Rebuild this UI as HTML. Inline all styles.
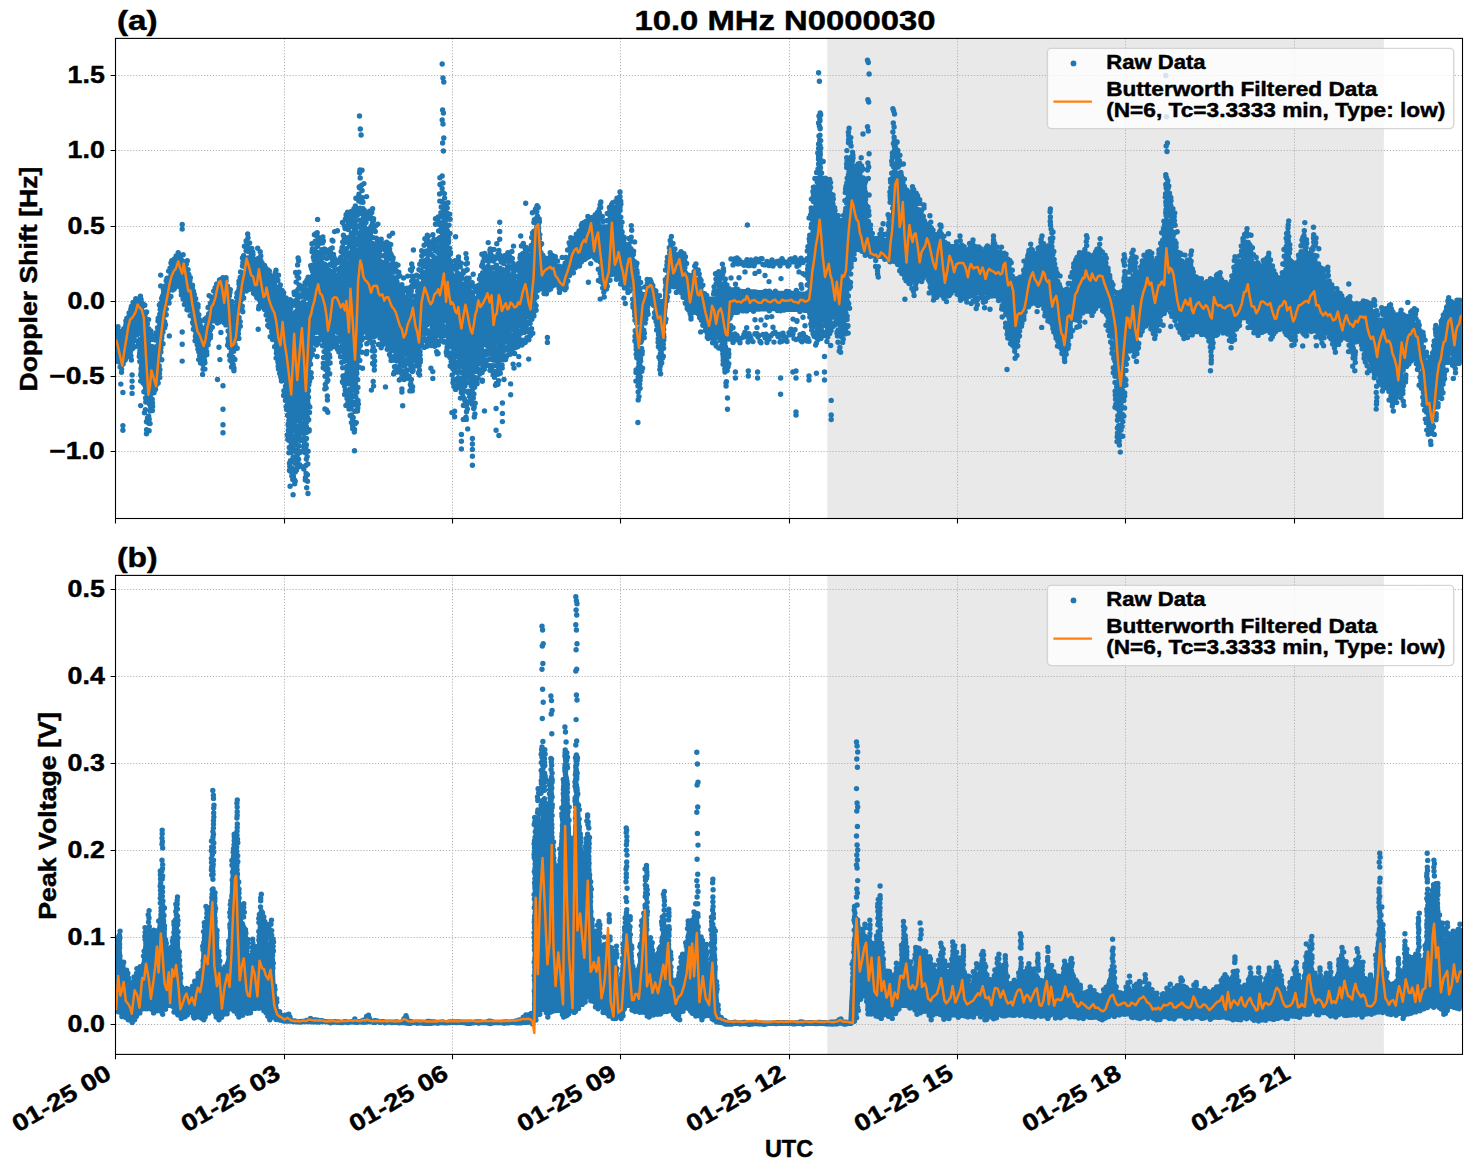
<!DOCTYPE html>
<html lang="en"><head><meta charset="utf-8"><title>10.0 MHz N0000030</title>
<style>html,body{margin:0;padding:0;background:#fff}body{width:1472px;height:1172px;overflow:hidden;font-family:"Liberation Sans",sans-serif}svg text{stroke:#000;stroke-width:.45px;stroke-linejoin:round}</style></head>
<body>
<svg width="1472" height="1172" viewBox="0 0 1472 1172" style="display:block">
<defs><clipPath id="ct"><rect x="115.5" y="38.4" width="1347.0" height="480.1"/></clipPath><clipPath id="cb"><rect x="115.5" y="575.4" width="1347.0" height="479.0000000000001"/></clipPath></defs>
<rect width="1472" height="1172" fill="#fff"/>
<g font-family="'Liberation Sans', sans-serif" font-weight="bold" fill="#000">
<rect x="827.3" y="38.4" width="556.6000000000001" height="480.1" fill="#e9e9e9"/>
<path d="M284.5,38.4V518.5M452.5,38.4V518.5M620.5,38.4V518.5M789.5,38.4V518.5M957.5,38.4V518.5M1125.5,38.4V518.5M1294.5,38.4V518.5M115.5,75.5H1462.5M115.5,150.5H1462.5M115.5,226.5H1462.5M115.5,301.5H1462.5M115.5,376.5H1462.5M115.5,451.5H1462.5" stroke="#b0b0b0" stroke-width="1" stroke-dasharray="1.15 1.8" fill="none"/>
<g clip-path="url(#ct)">
<path d="M118.2,331.5 120,331.5 121.8,331.5 123.6,331.5 125.4,331.5 127.2,328.6 129,321 130.8,321 132.6,318.4 134.4,306.5 136.2,303.5 138,303.5 139.8,305.2 141.6,312 143.4,319.6 145.2,331 147,339.4 148.8,349.6 150.6,349.6 152.4,349.6 154.2,349.6 156,349.6 157.8,350.7 159.6,341.3 161.4,328.9 163.2,316.5 165,298.2 166.8,289.3 168.6,285.9 170.4,278.2 172.2,271.1 174,268.1 175.8,260.7 177.6,259 179.4,255.9 181.2,262 183,264.2 184.8,269.6 186.6,285.2 188.4,285.2 190.2,291.1 192,298.7 193.8,304.6 195.6,314.8 197.4,321.2 199.2,328.6 201,328.6 202.8,328.6 204.6,328.6 206.4,328.6 208.2,327.1 210,317.8 211.8,307.5 213.6,303.3 215.4,296.9 217.2,291.1 219,287.7 220.8,283.9 222.6,281.2 224.4,286.1 226.2,301.6 228,306.2 229.8,306.2 231.6,306.2 233.4,306.2 235.2,306.2 237,306.2 238.8,309.9 240.6,299.1 242.4,284.9 244.2,281.3 246,272 247.8,258 249.6,258.7 251.4,258.7 253.2,259.4 255,259.4 256.8,259.4 258.6,265.4 260.4,268 262.2,268 264,269.6 265.8,278.6 267.6,278.6 269.4,278.6 271.2,278.6 273,278.6 274.8,285 276.6,290.5 278.4,292.6 280.2,298 282,300.6 283.8,302.3 285.6,304.8 287.4,306.8 289.2,316.1 291,328.4 292.8,339.3 294.6,347.1 296.4,344.2 298.2,342.5 300,343.1 301.8,346.3 303.6,340.4 305.4,333.3 307.2,324.8 309,320.7 310.8,313.1 312.6,301.7 314.4,292.7 316.2,284.9 318,283.9 319.8,285 321.6,287.5 323.4,289.5 325.2,291.3 327,292.5 328.8,295.5 330.6,296.7 332.4,296.5 334.2,295.1 336,291.3 337.8,289.2 339.6,289.4 341.4,292 343.2,293.6 345,293 346.8,297.3 348.6,304.1 350.4,303.4 352.2,299.1 354,295.1 355.8,291.1 357.6,285.6 359.4,282 361.2,277.2 363,268.1 364.8,264.6 366.6,265.7 368.4,270.3 370.2,271.9 372,273.7 373.8,275.3 375.6,277.6 377.4,279.4 379.2,277.6 381,280.1 382.8,280.6 384.6,283.9 386.4,286.8 388.2,289.1 390,292.7 391.8,293.5 393.6,299.2 395.4,301.5 397.2,305 399,310.8 400.8,310.2 402.6,313.9 404.4,311.4 406.2,312.2 408,309.7 409.8,309.2 411.6,309.8 413.4,311.5 415.2,308.4 417,304.1 418.8,302.1 420.6,298.8 422.4,295.9 424.2,292.9 426,288.6 427.8,282.5 429.6,283.8 431.4,282.9 433.2,282.5 435,282.5 436.8,278.2 438.6,277.1 440.4,276 442.2,275 444,277.4 445.8,278.1 447.6,277.7 449.4,280.2 451.2,284.2 453,289.4 454.8,294.7 456.6,297.3 458.4,296.8 460.2,300 462,301.7 463.8,301.6 465.6,307.2 467.4,307.6 469.2,306.8 471,304.8 472.8,303.1 474.6,303.6 476.4,299.6 478.2,297.1 480,292.8 481.8,290.2 483.6,287 485.4,287.3 487.2,287.6 489,289.6 490.8,292.8 492.6,292.5 494.4,293.2 496.2,294.2 498,294.5 499.8,296.8 501.6,292.6 503.4,290.7 505.2,292.4 507,293.5 508.8,293.5 510.6,293.3 512.4,292.8 514.2,290.8 516,290 517.8,288.2 519.6,286 521.4,282.8 523.2,283.5 525,284.9 526.8,280.1 528.6,273.9 530.4,265.6 532.2,258.1 534,257.1 535.8,251.8 537.6,255.2 539.4,257.5 541.2,258.4 543,258.4 544.8,258.4 546.6,258.4 548.4,258.4 550.2,258.4 552,258 553.8,260.9 555.6,266.1 557.4,267.8 559.2,267.8 561,267.8 562.8,267.8 564.6,267.8 566.4,267.2 568.2,263.2 570,257.4 571.8,250 573.6,245.5 575.4,242.2 577.2,238.8 579,237.9 580.8,234.6 582.6,231 584.4,225.5 586.2,223.5 588,222.5 589.8,221.4 591.6,219.2 593.4,219.2 595.2,217.6 597,217.6 598.8,226.9 600.6,226.9 602.4,226.9 604.2,226.9 606,226.9 607.8,226.9 609.6,226.9 611.4,220.7 613.2,213.5 615,207.5 616.8,222.3 618.6,237.3 620.4,250.3 622.2,250.3 624,250.3 625.8,250.3 627.6,251.3 629.4,261.6 631.2,265.9 633,277.8 634.8,282.5 636.6,319.3 638.4,294.8 640.2,294.8 642,294.8 643.8,294.8 645.6,294.8 647.4,293.6 649.2,287 651,290.2 652.8,291 654.6,296.2 656.4,296.2 658.2,301.6 660,301.6 661.8,332.3 663.6,324.6 665.4,300.9 667.2,279 669,279.8 670.8,279.8 672.6,254.7 674.4,255 676.2,255 678,255 679.8,255 681.6,256.7 683.4,263.5 685.2,278.5 687,278.5 688.8,278.5 690.6,278.5 692.4,278.5 694.2,278.5 696,280.4 697.8,280.4 699.6,285.1 701.4,293.6 703.2,295.5 705,297.8 706.8,299.1 708.6,299.1 710.4,299.1 712.2,299.1 714,299.1 715.8,299.1 717.6,297.8 719.4,286.8 721.2,284.9 723,288.8 724.8,293.8 726.6,293.8 728.4,293.8 730.2,293.8 732,293.8 733.8,293.8 735.6,291.8 737.4,291.8 739.2,291.3 741,291.4 742.8,291.6 744.6,291.6 746.4,291.8 748.2,292 750,292 751.8,292 753.6,292 755.4,292 757.2,292.5 759,292.6 760.8,292.6 762.6,292.6 764.4,293.1 766.2,293.1 768,293.1 769.8,293.1 771.6,293.1 773.4,293.1 775.2,293.1 777,293.5 778.8,293.5 780.6,293.5 782.4,293.5 784.2,293.5 786,293.4 787.8,293.5 789.6,293.5 791.4,293.5 793.2,293.5 795,293.6 796.8,293.6 798.6,293.6 800.4,294.2 802.2,294.2 804,294.2 805.8,294.2 807.6,294.2 809.4,294.2 811.2,293.8 813,246.6 814.8,217.9 816.6,199.1 818.4,187.1 820.2,178.5 822,180.2 823.8,180.2 825.6,182.6 827.4,194.9 829.2,207.6 831,215.3 832.8,215.6 834.6,220.7 836.4,220.7 838.2,220.7 840,220.7 841.8,220.7 843.6,220.7 845.4,220.7 847.2,220.5 849,215.5 850.8,186.3 852.6,169.8 854.4,169.8 856.2,169.8 858,169.8 859.8,179.3 861.6,206.3 863.4,215.3 865.2,224.9 867,233.5 868.8,233.5 870.6,238 872.4,238.8 874.2,238.8 876,238.8 877.8,238.8 879.6,238.8 881.4,239.5 883.2,240.8 885,240.8 886.8,240.8 888.6,240.8 890.4,240.8 892.2,240.8 894,214.7 895.8,179.5 897.6,178.3 899.4,186.5 901.2,190.2 903,191.8 904.8,192.8 906.6,192.8 908.4,192.8 910.2,193.1 912,195.6 913.8,199.8 915.6,211.3 917.4,216.3 919.2,220.7 921,224 922.8,225.2 924.6,227.2 926.4,227.9 928.2,230.3 930,234.4 931.8,237.7 933.6,237.7 935.4,237.7 937.2,237.7 939,242.2 940.8,245.3 942.6,245.3 944.4,245.6 946.2,246.6 948,246.6 949.8,246.6 951.6,246.6 953.4,246.6 955.2,246.6 957,246.6 958.8,246.6 960.6,250.4 962.4,250.4 964.2,250.4 966,250.4 967.8,250.4 969.6,250.4 971.4,250.4 973.2,249.9 975,248.6 976.8,251.4 978.6,251.4 980.4,251.4 982.2,251.4 984,251.4 985.8,251.4 987.6,251.4 989.4,250.2 991.2,247.6 993,252 994.8,252 996.6,252 998.4,253.3 1000.2,254.1 1002,259 1003.8,260.5 1005.6,262.8 1007.4,270.2 1009.2,278.9 1011,278.9 1012.8,278.9 1014.6,278.9 1016.4,278.9 1018.2,278.9 1020,278.9 1021.8,278.6 1023.6,278.6 1025.4,277.7 1027.2,277.7 1029,270.2 1030.8,261.2 1032.6,255.8 1034.4,255.7 1036.2,255.7 1038,255.7 1039.8,255.7 1041.6,255.7 1043.4,248.3 1045.2,247.1 1047,246.4 1048.8,251.5 1050.6,268.6 1052.4,273.8 1054.2,284.5 1056,292.1 1057.8,293.6 1059.6,293.6 1061.4,293.6 1063.2,293.6 1065,293.6 1066.8,293.6 1068.6,293.6 1070.4,290 1072.2,289 1074,283.5 1075.8,276.7 1077.6,272.5 1079.4,263.7 1081.2,260.3 1083,257.5 1084.8,254.7 1086.6,256 1088.4,256 1090.2,256 1092,256 1093.8,256 1095.6,256 1097.4,256 1099.2,255.1 1101,258.2 1102.8,268.3 1104.6,275.4 1106.4,282.3 1108.2,284.7 1110,292.5 1111.8,295.6 1113.6,298.8 1115.4,298.8 1117.2,298.8 1119,298.8 1120.8,298.8 1122.6,298.8 1124.4,298.8 1126.2,296.7 1128,291.5 1129.8,279.2 1131.6,279.2 1133.4,282.8 1135.2,282.8 1137,282.8 1138.8,282.8 1140.6,282.8 1142.4,282.8 1144.2,282.8 1146,266.9 1147.8,261.3 1149.6,267.2 1151.4,267.2 1153.2,267.2 1155,267.2 1156.8,267.2 1158.6,267.2 1160.4,267.2 1162.2,258.2 1164,249.9 1165.8,243.3 1167.6,232.8 1169.4,221.2 1171.2,231.7 1173,252.7 1174.8,253.1 1176.6,261 1178.4,264.9 1180.2,264.9 1182,264.9 1183.8,264.9 1185.6,264.9 1187.4,269 1189.2,278.3 1191,278.3 1192.8,279.2 1194.6,279.2 1196.4,279.2 1198.2,283.3 1200,283.3 1201.8,283.3 1203.6,283.3 1205.4,283.3 1207.2,283.3 1209,283.3 1210.8,282.8 1212.6,282.6 1214.4,282.6 1216.2,280.5 1218,282.6 1219.8,282.6 1221.6,287.2 1223.4,287.2 1225.2,287.2 1227,287.2 1228.8,287.2 1230.6,287.2 1232.4,287.2 1234.2,286.4 1236,286.4 1237.8,275.9 1239.6,261.7 1241.4,261.7 1243.2,261.1 1245,255.9 1246.8,247.8 1248.6,254.7 1250.4,257.5 1252.2,262.6 1254,264.6 1255.8,266.5 1257.6,266.5 1259.4,266.5 1261.2,266.5 1263,266.5 1264.8,266.5 1266.6,266.5 1268.4,270.6 1270.2,274.4 1272,277.4 1273.8,282 1275.6,282 1277.4,282 1279.2,282 1281,282 1282.8,282 1284.6,282 1286.4,277.4 1288.2,264 1290,266.6 1291.8,266.6 1293.6,266.6 1295.4,266.6 1297.2,266.6 1299,266.6 1300.8,266.6 1302.6,262.7 1304.4,255.2 1306.2,253.7 1308,253.7 1309.8,253.7 1311.6,255.9 1313.4,263.9 1315.2,267.6 1317,269.1 1318.8,269.2 1320.6,269.2 1322.4,269.2 1324.2,281 1326,284.7 1327.8,287.9 1329.6,292.2 1331.4,292.2 1333.2,292.7 1335,293.4 1336.8,295.7 1338.6,300.6 1340.4,300.6 1342.2,300.6 1344,300.6 1345.8,300.6 1347.6,303.1 1349.4,307 1351.2,307 1353,307 1354.8,307 1356.6,307 1358.4,305.5 1360.2,305.5 1362,305.5 1363.8,305.5 1365.6,305.5 1367.4,305.5 1369.2,304.9 1371,310.7 1372.8,315 1374.6,320.1 1376.4,320.1 1378.2,320.1 1380,320.1 1381.8,320.1 1383.6,320.1 1385.4,320.1 1387.2,312.3 1389,321.1 1390.8,321.1 1392.6,321.1 1394.4,321.1 1396.2,321.1 1398,321.1 1399.8,321.1 1401.6,318.8 1403.4,318.8 1405.2,316.4 1407,316.4 1408.8,316.4 1410.6,316.4 1412.4,321.8 1414.2,325.3 1416,331.6 1417.8,332.4 1419.6,340.1 1421.4,352.2 1423.2,362 1425,362 1426.8,362 1428.6,362 1430.4,362 1432.2,362 1434,362 1435.8,357.4 1437.6,352.9 1439.4,340.9 1441.2,328.7 1443,328.7 1444.8,328.7 1446.6,321.2 1448.4,315 1450.2,312.2 1452,307.3 1453.8,303.8 1455.6,303.8 1457.4,303.8 1459.2,303.8 1459.2,363.3 1457.4,363.3 1455.6,352.4 1453.8,352.4 1452,352.4 1450.2,352.4 1448.4,352.4 1446.6,352.4 1444.8,352.4 1443,362.4 1441.2,370.2 1439.4,378.7 1437.6,392.7 1435.8,396.5 1434,396.5 1432.2,406.7 1430.4,419.1 1428.6,404.5 1426.8,388.3 1425,377.2 1423.2,369.4 1421.4,363.8 1419.6,359.1 1417.8,359.1 1416,359.1 1414.2,359.1 1412.4,359.1 1410.6,359.1 1408.8,359.1 1407,360.3 1405.2,361 1403.4,364.1 1401.6,366.4 1399.8,381.9 1398,392.8 1396.2,392.8 1394.4,391.4 1392.6,388.1 1390.8,385.8 1389,385.8 1387.2,385.3 1385.4,383.1 1383.6,381.2 1381.8,381.2 1380,377.7 1378.2,370.6 1376.4,368.9 1374.6,368.9 1372.8,365.7 1371,362 1369.2,358.2 1367.4,348.9 1365.6,341.7 1363.8,339 1362,339 1360.2,339 1358.4,339 1356.6,339 1354.8,339 1353,339 1351.2,339.6 1349.4,337.9 1347.6,337.9 1345.8,337.8 1344,337.8 1342.2,337.8 1340.4,337.8 1338.6,337.8 1336.8,337.8 1335,336.9 1333.2,333 1331.4,333 1329.6,333 1327.8,333 1326,333 1324.2,333 1322.4,332 1320.6,328.8 1318.8,328.8 1317,328.8 1315.2,328.8 1313.4,328.8 1311.6,328.8 1309.8,328.8 1308,330.5 1306.2,330.5 1304.4,328.6 1302.6,328.6 1300.8,328.6 1299,328.6 1297.2,328.6 1295.4,328.6 1293.6,328.6 1291.8,331.5 1290,332.3 1288.2,328.7 1286.4,326.3 1284.6,326.3 1282.8,326.3 1281,326.3 1279.2,326.3 1277.4,326.3 1275.6,326.3 1273.8,327.9 1272,327.9 1270.2,330.3 1268.4,327.4 1266.6,327.4 1264.8,327.4 1263,327.4 1261.2,327.4 1259.4,327.4 1257.6,327.4 1255.8,325.3 1254,321.7 1252.2,317.7 1250.4,315.8 1248.6,315.8 1246.8,315.8 1245,315.8 1243.2,315.8 1241.4,315.8 1239.6,315.8 1237.8,317.2 1236,317.2 1234.2,325.5 1232.4,326.9 1230.6,329 1228.8,330.8 1227,330.2 1225.2,330.2 1223.4,330.2 1221.6,330.2 1219.8,330.2 1218,330.2 1216.2,330.2 1214.4,331.6 1212.6,334.5 1210.8,334.6 1209,333.3 1207.2,333.3 1205.4,332.1 1203.6,331.6 1201.8,331.6 1200,331.5 1198.2,331.5 1196.4,331.5 1194.6,331.5 1192.8,331.5 1191,331.5 1189.2,331.5 1187.4,332.1 1185.6,332.1 1183.8,328.1 1182,325.3 1180.2,320.5 1178.4,316.4 1176.6,316.2 1174.8,308.9 1173,307.6 1171.2,307.6 1169.4,307.6 1167.6,307.6 1165.8,307.6 1164,307.6 1162.2,307.6 1160.4,310 1158.6,313.4 1156.8,314.1 1155,320.6 1153.2,323.6 1151.4,323.6 1149.6,323.6 1147.8,323.6 1146,323.6 1144.2,323.6 1142.4,324.6 1140.6,326 1138.8,326.2 1137,331.2 1135.2,335.1 1133.4,344.2 1131.6,344.2 1129.8,344.2 1128,344.2 1126.2,344.2 1124.4,351.1 1122.6,358.6 1120.8,385 1119,372.7 1117.2,353.2 1115.4,335.8 1113.6,326.5 1111.8,314.8 1110,311.7 1108.2,310.5 1106.4,305.8 1104.6,305.8 1102.8,305.8 1101,305.8 1099.2,305.8 1097.4,305.8 1095.6,305.8 1093.8,306.3 1092,307.2 1090.2,308.7 1088.4,311.1 1086.6,311.1 1084.8,311.1 1083,311.1 1081.2,311.1 1079.4,311.1 1077.6,311.5 1075.8,311.5 1074,319.3 1072.2,319.3 1070.4,319.3 1068.6,319.3 1066.8,330.6 1065,336.4 1063.2,346.1 1061.4,338.3 1059.6,332 1057.8,328.6 1056,322 1054.2,317.7 1052.4,314.9 1050.6,312.4 1048.8,308.6 1047,304.6 1045.2,304.4 1043.4,304.4 1041.6,303.9 1039.8,301.6 1038,301.6 1036.2,301.6 1034.4,301.6 1032.6,301.6 1030.8,301.6 1029,301.6 1027.2,302 1025.4,303.7 1023.6,306.5 1021.8,306.5 1020,312 1018.2,319.5 1016.4,326.2 1014.6,335.9 1012.8,338.1 1011,327.3 1009.2,309.6 1007.4,309.6 1005.6,299.8 1003.8,299.8 1002,295.8 1000.2,295.8 998.4,293.1 996.6,293.1 994.8,293.1 993,293.1 991.2,293.1 989.4,293.1 987.6,293.1 985.8,293.1 984,293.1 982.2,293.1 980.4,293.1 978.6,293.1 976.8,293.1 975,293.1 973.2,294.2 971.4,294.2 969.6,294.2 967.8,294.2 966,294.2 964.2,294.2 962.4,294.2 960.6,290.2 958.8,290.2 957,290.2 955.2,290.2 953.4,290.2 951.6,290.2 949.8,290.2 948,291.1 946.2,293.2 944.4,293.5 942.6,293.5 940.8,293.5 939,293.5 937.2,289.7 935.4,287.3 933.6,279.9 931.8,276.8 930,275.4 928.2,275.4 926.4,275.4 924.6,275.4 922.8,275.4 921,275.4 919.2,275.4 917.4,275.9 915.6,275.9 913.8,279.1 912,280.8 910.2,278.2 908.4,274.3 906.6,273.6 904.8,270.8 903,264.6 901.2,259.1 899.4,259.1 897.6,256.9 895.8,256.9 894,256.9 892.2,256.9 890.4,256.9 888.6,256.9 886.8,256.8 885,256.2 883.2,256.2 881.4,256.2 879.6,256.2 877.8,256.2 876,255.9 874.2,255.9 872.4,253.5 870.6,253.3 868.8,253.3 867,251.1 865.2,249.8 863.4,249.3 861.6,247.3 859.8,247.3 858,247.3 856.2,247.3 854.4,247.3 852.6,247.3 850.8,247.3 849,254.2 847.2,257.4 845.4,286.8 843.6,304.5 841.8,306.8 840,305.8 838.2,309.1 836.4,310.6 834.6,309.1 832.8,308.1 831,309.9 829.2,311.3 827.4,311.7 825.6,309.3 823.8,308.6 822,308.3 820.2,308.5 818.4,309.8 816.6,310.3 814.8,310.8 813,307.5 811.2,307.5 809.4,307.5 807.6,307.5 805.8,307.5 804,307.5 802.2,309.4 800.4,309.4 798.6,309.4 796.8,309.4 795,309.2 793.2,309.2 791.4,309.2 789.6,309.2 787.8,309.2 786,309.3 784.2,310.1 782.4,309.1 780.6,309.1 778.8,309.1 777,308.5 775.2,308.5 773.4,308.5 771.6,308.5 769.8,308.5 768,308.7 766.2,308.7 764.4,308.7 762.6,308.7 760.8,308.7 759,309.1 757.2,309.1 755.4,309.1 753.6,309.1 751.8,309.2 750,309.2 748.2,309.2 746.4,309.2 744.6,309.2 742.8,309.3 741,309.3 739.2,309.8 737.4,309.8 735.6,310.2 733.8,312.2 732,312.2 730.2,313 728.4,313 726.6,313.6 724.8,333.4 723,337.8 721.2,337.8 719.4,337.8 717.6,337.8 715.8,337.8 714,337.8 712.2,337.8 710.4,337.3 708.6,330.4 706.8,325.3 705,320.3 703.2,317.5 701.4,313.5 699.6,310.4 697.8,310.4 696,310.4 694.2,310.4 692.4,310.3 690.6,308.4 688.8,303.3 687,297.3 685.2,289.7 683.4,289.7 681.6,289.7 679.8,289.7 678,286.7 676.2,281.4 674.4,281.4 672.6,281.4 670.8,281.4 669,281.4 667.2,279 665.4,300.9 663.6,324.6 661.8,332.3 660,317.5 658.2,305.3 656.4,305.3 654.6,304.7 652.8,303.3 651,303.3 649.2,303.3 647.4,303.3 645.6,303.3 643.8,310.8 642,310.8 640.2,323.1 638.4,307.2 636.6,319.3 634.8,285 633,285 631.2,285 629.4,285 627.6,283.4 625.8,283.4 624,278.3 622.2,278.3 620.4,273.5 618.6,270 616.8,270 615,270 613.2,270 611.4,270 609.6,270 607.8,270 606,274.6 604.2,269.2 602.4,260 600.6,258 598.8,255 597,255 595.2,255 593.4,252.5 591.6,252.5 589.8,252.5 588,252.5 586.2,252.5 584.4,256.4 582.6,258 580.8,259 579,259 577.2,262.1 575.4,262.4 573.6,262.4 571.8,264.3 570,267.9 568.2,270.5 566.4,275.5 564.6,280.9 562.8,287.7 561,286.2 559.2,284.8 557.4,284.8 555.6,284.8 553.8,284.8 552,284.8 550.2,285.6 548.4,286.3 546.6,288.9 544.8,287.1 543,279.6 541.2,274.9 539.4,272.8 537.6,273.3 535.8,276.2 534,280.3 532.2,284.5 530.4,293 528.6,303.4 526.8,308.3 525,311.5 523.2,309.6 521.4,312.2 519.6,313.2 517.8,314.6 516,318.4 514.2,319.4 512.4,319.2 510.6,318.6 508.8,318.4 507,319.5 505.2,317.9 503.4,320 501.6,319.2 499.8,321.8 498,322.9 496.2,321.3 494.4,319.1 492.6,317.1 490.8,319.8 489,318.6 487.2,314.6 485.4,312.5 483.6,315.2 481.8,314.8 480,319 478.2,324.2 476.4,327 474.6,328.9 472.8,329.5 471,330.2 469.2,331.4 467.4,332.6 465.6,332.9 463.8,328.3 462,328.1 460.2,324.2 458.4,326.5 456.6,323.2 454.8,320.6 453,315.2 451.2,312 449.4,308.6 447.6,305.8 445.8,303.8 444,302.4 442.2,301.5 440.4,302.6 438.6,303.9 436.8,306.4 435,309.3 433.2,308.7 431.4,309.3 429.6,309.9 427.8,311.4 426,316 424.2,318.7 422.4,322.5 420.6,326.5 418.8,329.5 417,330.9 415.2,335.4 413.4,337.6 411.6,336.7 409.8,337.1 408,336.3 406.2,339.7 404.4,340.1 402.6,340.3 400.8,339.1 399,335.4 397.2,332.2 395.4,329.6 393.6,324.3 391.8,320.7 390,319 388.2,316.5 386.4,314 384.6,310.9 382.8,309.4 381,307.6 379.2,304.9 377.4,304.9 375.6,304.3 373.8,301.9 372,301.8 370.2,299.5 368.4,298.2 366.6,293.6 364.8,292.4 363,295 361.2,304.5 359.4,311.3 357.6,314.1 355.8,316.6 354,322.2 352.2,327.2 350.4,331.3 348.6,328.5 346.8,322.8 345,321 343.2,320.5 341.4,317.1 339.6,316.6 337.8,315.8 336,316.8 334.2,320.8 332.4,323.2 330.6,323 328.8,322 327,319.5 325.2,318.1 323.4,316.3 321.6,315.4 319.8,312 318,309.3 316.2,311.1 314.4,317.5 312.6,329.2 310.8,341 309,343.2 307.2,351.6 305.4,360.4 303.6,366.8 301.8,372.7 300,370.1 298.2,370.3 296.4,370.9 294.6,382.5 292.8,396 291,392.4 289.2,388.7 287.4,380.5 285.6,377.1 283.8,368.9 282,358.1 280.2,346.7 278.4,339.6 276.6,331.7 274.8,327 273,320.1 271.2,315.1 269.4,309.5 267.6,306.7 265.8,302 264,302 262.2,302 260.4,294.2 258.6,293.2 256.8,293.2 255,286.4 253.2,286.4 251.4,286.4 249.6,286.4 247.8,286.4 246,286.4 244.2,286.9 242.4,284.9 240.6,299.1 238.8,309.9 237,311.8 235.2,326.2 233.4,338.4 231.6,324.9 229.8,322.8 228,320.5 226.2,320.5 224.4,320.5 222.6,320.5 220.8,320.5 219,320.5 217.2,320.8 215.4,320.9 213.6,320.9 211.8,320.9 210,322 208.2,327.2 206.4,337.7 204.6,344.7 202.8,354.7 201,348.9 199.2,340.7 197.4,329.2 195.6,322.5 193.8,315.6 192,310 190.2,309.8 188.4,304.4 186.6,294.6 184.8,294.6 183,286.2 181.2,284.4 179.4,284.4 177.6,284.4 175.8,284.4 174,284.4 172.2,286.5 170.4,286.6 168.6,290.1 166.8,296.5 165,303 163.2,316.5 161.4,328.9 159.6,341.3 157.8,350.7 156,359.7 154.2,383.1 152.4,383.1 150.6,389.2 148.8,391.7 147,378.3 145.2,361.5 143.4,345.3 141.6,328.4 139.8,328.4 138,328.4 136.2,328.4 134.4,328.4 132.6,328.4 130.8,328.4 129,348.4 127.2,352.6 125.4,352.6 123.6,352.6 121.8,359.7 120,361.7 118.2,361.7Z" fill="#1f77b4" stroke="#1f77b4" stroke-width="5.4" stroke-linejoin="round"/>
<path d="M359.5,116h0M360.3,129h0M361.1,135h0M359.9,170h0M360.7,186h0M359.5,198h0M442.2,64h0M443,78h0M443.8,82h0M442.6,110h0M443.4,113h0M442.2,120h0M443,124h0M443.8,138h0M442.6,143h0M443.4,151h0M442.2,176h0M443,183h0M818.6,72.7h0M819.4,81.2h0M820.2,113h0M819,116h0M819.8,119h0M818.6,123h0M819.4,126h0M820.2,128h0M819,136h0M819.8,140h0M818.6,144h0M819.4,148h0M820.2,152h0M819,156h0M819.8,160h0M818.6,164h0M867.5,60.3h0M868.3,62.5h0M869.1,74h0M867.9,99.7h0M868.7,102h0M867.5,126.7h0M868.3,131h0M869.1,153.7h0M867.9,163h0M868.7,167h0M867.5,170h0M868.3,178.5h0M869.1,195h0M867.9,207h0M868.7,211h0M867.5,216h0M863,134h0M892.9,108.7h0M893.7,111h0M894.5,114h0M893.3,123h0M894.1,127h0M892.9,132h0M903.4,164h0M924,205h0M924,208h0M940,225h0M940,231h0M948.5,233.7h0M960,236h0M973,240h0M993.5,236h0M993.5,240h0M1165.8,75.5h0M1166.6,116.7h0M1167.4,143h0M1166.2,146h0M1167,151.5h0M1165.8,174.6h0M1166.6,178h0M1167.4,183h0M1166.2,188h0M1167,192h0M1165.8,197h0M1050.4,209h0M1050.4,217h0M1050.4,222h0M1053,232h0M1042,236h0M1086.5,235.6h0M182.2,224.5h0M182.2,229.1h0M122.9,392.4h0M122.9,425.6h0M122.9,430.2h0M132.1,374.9h0M132.1,381.1h0M132.1,387.2h0M132.1,393.4h0M140.7,374.9h0M140.7,381.1h0M140.7,405.6h0M217.5,379.5h0M223,385.7h0M223,409.3h0M223,424.7h0M223,432.7h0M182.2,332h0M182.2,344.2h0M182.2,361.1h0M160.7,275.1h0M160.7,285.9h0M219,347.3h0M219.9,359.6h0M118,326.8h0M117.6,329.6h0M120.1,367.1h0M121.5,372.2h0M121.6,369.1h0M121.3,365.6h0M123.8,328.6h0M123.1,364h0M124.1,361.1h0M124.1,355h0M125.9,321h0M125.8,324.9h0M125.4,328.8h0M125.3,359.7h0M126.8,318.4h0M129.1,313h0M128.5,317.2h0M128.6,356.6h0M129.4,353.3h0M131.4,306.5h0M130.8,309.1h0M130.4,315.1h0M131.1,317.8h0M131.4,360h0M130.9,355.9h0M130.3,352.2h0M131.2,349.6h0M131.2,343.7h0M130.8,340.6h0M133.1,302.5h0M132.8,305.6h0M132.7,309.5h0M132.4,313.7h0M132.6,348.4h0M132.5,344.5h0M133.2,340.9h0M132.3,337.8h0M134.5,303.5h0M134.9,340.5h0M134.4,336h0M134.5,333.4h0M135.8,298.7h0M137.5,301.3h0M138.4,345.3h0M138.2,341.7h0M137.6,334.1h0M138.5,330.5h0M140.4,296.3h0M139.2,299.2h0M139.3,302.3h0M139.8,361.5h0M139.3,356.5h0M139.6,353.4h0M139.9,350.4h0M139.7,347.2h0M139.4,343.5h0M139.9,339.5h0M141.1,299.5h0M141.9,302.9h0M142,307h0M142,378.3h0M141.1,375.7h0M141.2,372.2h0M141,368.6h0M141.5,365.6h0M141.9,362.2h0M141.2,359.2h0M142,354.8h0M141.3,352.1h0M142.1,347.5h0M141.6,341.1h0M142.1,333.4h0M143.4,304.2h0M143.1,312h0M143.9,391.7h0M143.1,382.9h0M143.3,380.4h0M143.5,376h0M143,372.7h0M143.4,369h0M143.2,365.1h0M143.5,360.6h0M143.2,356.5h0M143.4,352.5h0M143.1,349h0M144.8,305.2h0M145.5,313.6h0M145,317h0M145.4,320.4h0M145.6,323.9h0M145.4,409.7h0M145.8,402h0M145.6,398h0M145.5,390.9h0M145.6,387.7h0M144.8,385h0M145.8,381.1h0M145.4,373.1h0M145.7,368.9h0M146.6,312h0M147.4,323.7h0M146.6,328h0M147,334.5h0M146.5,433.7h0M146.6,429.8h0M146.5,421.7h0M147.5,418h0M147.3,395.7h0M146.5,392.9h0M147,388.6h0M146.6,384.4h0M147.3,381h0M148.6,319.6h0M148.7,328.7h0M148.3,332.8h0M148.2,337.3h0M148.7,340.9h0M149,345.5h0M149.1,430.8h0M148.8,423.2h0M149.2,419.3h0M148.7,416.2h0M149.4,404.1h0M148.9,400.5h0M149,397.8h0M150.8,331h0M151.1,334.9h0M150.9,338.7h0M150.4,346.3h0M150.1,423.6h0M150.3,410.9h0M150.7,407.6h0M150,403.7h0M150.3,395.7h0M151.2,390.7h0M152.4,339.4h0M152.5,346.8h0M152.4,410.6h0M152.6,406.4h0M152.5,402.9h0M152.2,399.2h0M152.8,391.6h0M152.7,388.5h0M154,392.7h0M154.8,389.9h0M154.5,385.3h0M156.1,332.7h0M156,335.6h0M155.5,340h0M156.2,346.8h0M155.5,389.2h0M156.2,385h0M155.9,380.7h0M156.1,376.7h0M155.8,367.3h0M158.2,318.3h0M158,321h0M157.5,327.8h0M158.2,344.9h0M157.2,347.9h0M158.2,383.1h0M157.6,379.6h0M158.4,376.2h0M158.2,366.8h0M158.4,360.4h0M158.1,352.4h0M159.4,305h0M160.2,309.4h0M159.8,314.2h0M160,322.1h0M159.8,324.9h0M159.5,329.6h0M159.2,336.5h0M159.8,377.6h0M159.5,373.6h0M159.9,369.7h0M159.2,365.7h0M159.2,358.8h0M159.3,355.6h0M161.7,298.2h0M160.8,303h0M161.7,307.2h0M161.1,310.8h0M162,315.3h0M161,317.9h0M161.4,322.3h0M161.8,359.7h0M160.9,352h0M160.9,347.9h0M161.4,342h0M161.8,337.9h0M161.9,335h0M162,331.9h0M163.4,289.3h0M163.6,292.6h0M162.6,295.9h0M163.5,299.6h0M163.6,312.3h0M163,343.7h0M163,331.9h0M163.2,328.8h0M162.7,324.4h0M165.3,285.9h0M165,294.7h0M164.7,327.8h0M165.5,324.8h0M164.7,321.6h0M164.5,314.6h0M164.8,311.9h0M164.6,308.8h0M165.1,305.8h0M167,278.2h0M166.2,280.8h0M167.2,283.9h0M166.2,314.8h0M166.3,309.1h0M167.2,299.6h0M168.6,271.1h0M169.1,277.9h0M168.3,283.6h0M169.1,303h0M169,298.7h0M170,268.1h0M170.1,271.7h0M170.9,296.5h0M171.8,260.7h0M171.8,264.5h0M171.7,267.2h0M172.7,290.1h0M174.4,259h0M174,286.6h0M176.2,255.9h0M176.2,286.5h0M178.2,252.7h0M177.1,256.8h0M179.4,286.2h0M181,255.8h0M181.6,260.3h0M181.7,294.6h0M181.3,291.2h0M180.7,287.8h0M183.1,254.8h0M183.1,299h0M183.5,296.3h0M183.5,292.3h0M183.5,288.6h0M184.5,262h0M185.2,266h0M184.4,304.4h0M185.1,300.2h0M185.4,296.4h0M186.3,264.2h0M186.3,270.8h0M186.9,278.6h0M186.6,282.3h0M187,309.8h0M187.1,305.9h0M186.6,300.7h0M186,296.6h0M188.1,269.6h0M188.8,274.5h0M189,282.5h0M188.3,310h0M190.3,277.7h0M189.9,280.6h0M190.8,285.4h0M190.3,289h0M190.1,315.6h0M192.5,285.2h0M192.3,287.9h0M192.4,290.8h0M192,294.5h0M192.6,322.5h0M192.4,314.8h0M193.5,291.1h0M194.3,294.5h0M193.5,301.3h0M193.4,329.2h0M193.5,324.2h0M193.3,321.7h0M193.4,318.8h0M195.7,298.7h0M195.1,302.8h0M195.9,305.4h0M195.1,308.4h0M196.1,313.2h0M195.1,340.7h0M195.4,336.2h0M195.9,332.6h0M198,304.6h0M198,307.3h0M197,311.2h0M196.9,315.5h0M197.1,318.5h0M197.9,348.9h0M197.2,344.7h0M197.6,336.5h0M198.8,314.8h0M199.3,319.5h0M199.7,323.1h0M198.7,359.6h0M199.7,355.6h0M198.8,351.7h0M199.1,346h0M200.7,321.2h0M200.7,326.2h0M200.5,363h0M201.2,355.2h0M201.2,352.7h0M203.1,369.2h0M203,364.5h0M203.1,360.9h0M203.1,357.6h0M204.9,362.8h0M204.5,360.2h0M204.5,355.9h0M205.2,351.6h0M204.9,349.1h0M206.7,317.8h0M205.8,321.2h0M206.4,326h0M206.8,354.7h0M206.7,351.8h0M206.1,347.9h0M206.3,343.7h0M208.1,307.5h0M208.7,313.9h0M208.2,318.6h0M208.7,322.7h0M208.1,344.7h0M208.5,340.4h0M207.9,337.5h0M210.4,303.3h0M210,306h0M209.5,313.2h0M209.5,315.8h0M210.4,337.7h0M210.5,334.9h0M210.4,330h0M210.5,327.1h0M211.4,296.9h0M211.8,301.5h0M211.6,306h0M212.3,327.2h0M213.7,291.1h0M215.2,287.7h0M215.7,292.5h0M216.7,283.9h0M217.5,323.1h0M219.5,280h0M219.3,284.9h0M218.9,322.2h0M220.5,279.4h0M222.9,277.8h0M224.9,281.2h0M224.1,322.8h0M226,277.8h0M226.1,280.7h0M225.9,294.2h0M226.8,297.5h0M225.8,324.9h0M227.5,286.1h0M227.6,293.6h0M228.2,297.8h0M228.4,342h0M228.1,338.7h0M228.1,331h0M228.2,323.6h0M230.3,289.6h0M230,292.3h0M229.4,295.7h0M229.6,300.6h0M229.6,304h0M230,360.3h0M229.5,355.5h0M229.5,347.6h0M229.5,343.9h0M230.3,341.3h0M230.1,338.4h0M229.7,334.5h0M230.2,327.6h0M232.1,301.6h0M231.5,367h0M232.1,362.6h0M231,355.1h0M231.3,351.9h0M231.2,347.8h0M231.3,344.4h0M231.7,341.2h0M231.4,334.2h0M231.8,331.3h0M231.6,326.5h0M233.9,370.7h0M234,368.1h0M233.2,364.8h0M233,357.2h0M233.7,351.3h0M233,345h0M233.8,340.5h0M234.9,359.5h0M235.4,348.6h0M235.1,344.5h0M235,339.7h0M234.8,335.7h0M236.9,293.3h0M236.7,297.4h0M237,302.3h0M237.2,348.3h0M237.2,332.4h0M236.4,320.8h0M239,281.3h0M239,284h0M239.1,288.1h0M238.2,291.2h0M238.9,293.7h0M238.3,298.6h0M238.7,303.4h0M238.9,338.4h0M238.4,333.8h0M238.5,329.8h0M239.1,317.5h0M240.6,272h0M240.2,277.5h0M240.5,281.6h0M240.5,284.7h0M240.9,289.2h0M241,294h0M240.7,297.5h0M240.3,326.2h0M240.2,321.6h0M242.5,258h0M242.9,262.5h0M242.5,266h0M242.9,273.3h0M242.6,276h0M242.6,280.8h0M242.8,311.8h0M241.9,309.2h0M242.3,306.1h0M242.4,299.1h0M242.3,294.6h0M242,289.8h0M244.4,246.3h0M243.6,255.6h0M243.7,258.8h0M243.8,262.1h0M243.9,266.4h0M244.3,273.9h0M244.6,276.9h0M243.7,297.9h0M246.1,240.9h0M246.6,245.8h0M246.1,250.7h0M246.1,261.9h0M246.5,265.9h0M246.3,291.1h0M247.7,233.9h0M248,237.8h0M248.2,247.6h0M247.8,251.3h0M249.6,243h0M249.5,289.3h0M251.8,248.5h0M251.2,255.2h0M252.9,252.2h0M253,254.7h0M253.5,293.2h0M252.6,288.3h0M255,294.2h0M255.5,290.3h0M256.7,297.7h0M258.6,258.1h0M259.2,260.6h0M258.2,329.2h0M258.6,308.8h0M259,306.1h0M259.1,299.2h0M260.2,251.8h0M260.8,256h0M260.8,260.5h0M260.1,263.6h0M261,266.4h0M260.5,302h0M260,299.3h0M262.1,263h0M262.5,265.9h0M261.8,306.7h0M264.5,265.4h0M264.6,309.5h0M264.4,306.5h0M263.4,303.8h0M265.6,268h0M265.3,272.6h0M265.6,277.1h0M266.1,315.1h0M266.4,306.9h0M267.6,269.6h0M267.6,320.1h0M267.9,315.4h0M267,312.3h0M269.3,271h0M269.4,274.2h0M269.2,327h0M269.1,319.7h0M269.9,312.7h0M271.7,331.7h0M271.7,327h0M271.3,322h0M272.6,339.6h0M272.6,335.3h0M273.5,332.5h0M274.3,275.4h0M275.1,279.1h0M274.6,346.7h0M274.2,339.4h0M274.8,336.3h0M276,270.2h0M276.9,278.9h0M276.2,288.4h0M276.1,358.1h0M276.4,353.3h0M276.7,350.5h0M276.6,347.5h0M276.5,343h0M276.2,339.6h0M276.8,336.9h0M278.5,275.2h0M277.9,280.2h0M278.2,287.8h0M278.5,368.9h0M278.2,366.2h0M277.9,361.9h0M278.6,355.3h0M278.5,352.3h0M277.9,349.4h0M278.6,341.3h0M280.3,285h0M279.7,288.1h0M280.2,291.8h0M280.3,296.2h0M280.8,377.1h0M279.7,373.4h0M280.2,369h0M279.8,366.1h0M280.3,358.9h0M280.8,352.9h0M279.7,348.8h0M282.1,290.5h0M282.3,293.6h0M281.9,296.3h0M281.5,381h0M281.4,378.4h0M281.8,374.3h0M281.8,369.4h0M282.2,363.1h0M283.7,292.6h0M283.5,295.7h0M284.4,300.4h0M283.6,395.4h0M283.9,390.7h0M284.1,380.2h0M284.4,372.9h0M286.1,298h0M285.9,301.5h0M286.1,406.6h0M285.4,400.4h0M285.8,397.6h0M285.5,394.8h0M286,391.2h0M285.5,386.3h0M285.2,380.2h0M286.9,300.6h0M288.2,304.4h0M287.8,439.4h0M287.3,435h0M288.3,430.1h0M288.1,424.3h0M287.6,415.2h0M286.6,409.5h0M287.7,404h0M288,398.9h0M288.1,394.2h0M287.8,391.2h0M286.6,386.9h0M286.6,383.5h0M289,302.3h0M288.8,306.9h0M289.6,310.5h0M289.5,314.5h0M289.5,470.5h0M289.8,466.4h0M289.5,463.2h0M288.9,452.8h0M289.3,447.5h0M288.8,440.2h0M288.9,432.2h0M288.4,425.7h0M288.9,420.5h0M288.3,416.1h0M289.4,411.6h0M289.8,407.6h0M289.4,403.4h0M288.5,399h0M289,395.3h0M289.4,391.8h0M291.1,304.8h0M290.6,308.7h0M290.9,313.1h0M290.2,319.6h0M291.8,324.2h0M291.8,476.1h0M290.7,471.6h0M290.5,460.7h0M290.7,452.4h0M290.6,446.4h0M291.1,442.4h0M290.8,436.8h0M291,431.4h0M291.6,427.3h0M291.3,424.4h0M290.3,420.5h0M290.3,417.1h0M290.8,412.3h0M291.1,408.2h0M290.9,404.2h0M291.3,401.1h0M290.6,397.8h0M290.4,393.7h0M293.1,303.3h0M293,305.2h0M292.8,316.4h0M293,322.4h0M293.4,326.5h0M292,330.6h0M292,333h0M292.9,335.8h0M292.7,479.6h0M293.4,476.5h0M292.5,468.5h0M292.8,459.6h0M293.1,456.9h0M293,450.5h0M293.1,447.4h0M292.8,441.3h0M293,436h0M292.7,430.6h0M293.7,427.8h0M292.2,424h0M293.1,421.1h0M292.8,416.2h0M293.5,411.7h0M293.3,407.8h0M292.7,404.9h0M292.3,402.2h0M292.4,399h0M294.4,294.5h0M294,301.1h0M295.5,312.1h0M295.1,315.5h0M293.9,321h0M295.4,326.4h0M294.5,329.2h0M295.5,332.6h0M294.6,336.9h0M293.9,341.2h0M295,345.2h0M295.2,481.2h0M294.5,480h0M295.2,472h0M294.8,463.3h0M294.1,457.2h0M295.2,451.5h0M295.1,444.7h0M294.3,437.4h0M294.9,430.7h0M295.1,425.8h0M295.2,422h0M295.3,417.6h0M295.2,412.3h0M295.1,408.3h0M294.3,403.8h0M295.1,399.1h0M295.2,394.7h0M294.8,390.2h0M294.1,387.7h0M294.8,384.9h0M297.2,276.2h0M296.1,282.1h0M296.1,291.6h0M295.5,300.8h0M297.2,306.5h0M296.4,311.4h0M297,315.4h0M297.1,319.5h0M296.4,324h0M295.9,327.4h0M296.3,330.2h0M295.7,333.4h0M296.5,336.5h0M295.5,339.4h0M296.2,342.5h0M296.4,470.3h0M295.7,469.1h0M296.3,462.3h0M297.1,455.2h0M295.6,451h0M295.6,442.3h0M296.8,437.7h0M296.4,431.9h0M296.4,427.1h0M296.3,421.2h0M296.9,414.9h0M296,411h0M295.7,406.4h0M297.3,401.5h0M296.2,397.1h0M295.8,393.1h0M295.6,388.9h0M296.9,385.5h0M296.2,381.5h0M296.3,378.4h0M296.8,375.2h0M296.4,372.5h0M298.1,257.9h0M298.7,260.7h0M297.6,264.9h0M298.8,272.3h0M298.7,278.1h0M299.1,284.9h0M298,289.5h0M298.8,294.6h0M297.8,298.3h0M297.4,303.4h0M297.9,307.4h0M297.5,310.9h0M298.1,315.6h0M299,319.6h0M297.6,322.6h0M297.9,325.5h0M297.4,329.7h0M298.3,332.3h0M297.8,335.6h0M298.9,339h0M297.5,461.5h0M298.6,459.3h0M297.8,449.6h0M297.5,440.1h0M297.8,434.2h0M298,431.2h0M297.3,426.6h0M298.4,419.3h0M298.2,416.2h0M297.7,412.8h0M297.7,407.4h0M298.7,402h0M298.1,397.6h0M299,394.2h0M297.5,391h0M298.2,387.5h0M297.4,384h0M298.1,380.9h0M298.4,377.4h0M297.5,373.4h0M300.7,296.7h0M299.8,303.1h0M299.5,311.3h0M300.2,316.4h0M300.3,321.2h0M300.3,325h0M299.8,328.9h0M299.9,333.8h0M299.9,338h0M299.9,341.8h0M299.7,452.7h0M299.2,445.8h0M300.3,440.4h0M299.2,435.9h0M299.1,429h0M300.7,423.5h0M299.5,420.2h0M299.8,414.2h0M299.4,410.4h0M299.4,406.5h0M300.7,403.3h0M300.8,400.4h0M300.5,395.8h0M299.1,392h0M299.8,388.5h0M300.8,383.9h0M299.3,379.6h0M300.5,376h0M299.3,371.8h0M302.3,289.5h0M302.2,295.7h0M301.1,306.8h0M301.7,311.9h0M301.6,317.2h0M301.8,319.8h0M300.9,323.4h0M301.8,326.2h0M302.2,329.6h0M302.3,332.7h0M301.2,337.6h0M301.9,340.2h0M302.4,344.7h0M301.3,432.8h0M301.6,426.1h0M302.4,416.5h0M301.7,409.7h0M302.5,402.9h0M301.5,397.6h0M302,393.9h0M302.6,390.5h0M301.5,385.3h0M301.2,382.3h0M300.9,379.2h0M302.4,374.7h0M304.3,291.1h0M303.1,293h0M303,296h0M303.5,301.7h0M303.7,309.1h0M304.3,317.1h0M303.5,321.1h0M304.4,325.3h0M303,330h0M302.7,333.9h0M303,336.4h0M302.8,450.9h0M304,447h0M303.8,438.5h0M304,433.4h0M303,428.4h0M303.8,422.9h0M302.9,417.6h0M303.4,413.9h0M303.3,408.9h0M304.3,405.3h0M302.9,400h0M303.5,396.7h0M302.8,393.8h0M303.1,391.1h0M304.5,387.5h0M303.4,383.6h0M303.5,380.7h0M303.1,376.8h0M303.2,373.6h0M303.8,369.1h0M305.1,282.7h0M305.3,289.2h0M305.8,292.7h0M305.9,298.2h0M305,306.1h0M305.1,309.2h0M304.7,312.7h0M304.7,316.7h0M305.2,320.9h0M305.6,324.4h0M305.8,328.1h0M305.4,330.8h0M305.4,477.7h0M306.1,473.4h0M305.8,465.4h0M306.3,459.1h0M304.8,452.6h0M305.8,447.4h0M304.6,443.8h0M306.1,439h0M305.7,432.1h0M305.8,425h0M304.9,418.4h0M305.7,413.5h0M304.6,408.4h0M305.1,405.3h0M305.9,399.6h0M305.1,395.3h0M305.1,391.1h0M305.1,386.6h0M306.1,382.5h0M306.2,378.9h0M306.2,376.2h0M305.3,373h0M306.2,369.1h0M305.4,364.6h0M306.9,280.2h0M306.3,284.3h0M307.7,294.1h0M306.7,297.9h0M306.9,304.7h0M307.5,309h0M307.5,312.7h0M307,317.5h0M306.4,321.2h0M308,493.5h0M306.7,487.8h0M307.5,481.3h0M307.4,474.8h0M307.8,463.9h0M307.2,456.6h0M308.1,451.3h0M306.4,444.8h0M306.5,438.4h0M306.5,432.6h0M306.4,426.8h0M307.1,421.6h0M307.3,417.2h0M307.8,412.8h0M307.4,407.7h0M307.5,403.9h0M307.7,401.1h0M307.5,397.8h0M307.4,393.4h0M308.1,389.7h0M308.1,385.2h0M307.7,381h0M307.9,376.9h0M307.3,373.6h0M306.4,370.2h0M306.4,366.3h0M307.3,362h0M306.6,358.9h0M307.3,355.4h0M308.1,277.2h0M308.7,279.1h0M309.9,289.4h0M308.8,296.7h0M309.9,303.7h0M308.5,307.6h0M308.7,311h0M308.3,314.7h0M309.3,317.2h0M309.1,431h0M309.2,429.7h0M308.7,419.8h0M309.5,412.5h0M309.8,406.9h0M308.1,404.1h0M308.5,397.3h0M308.5,390.7h0M308.8,384.8h0M309.6,381.2h0M308.2,376.7h0M308.7,373.4h0M308.4,368.2h0M309.8,363.1h0M309.7,359.3h0M308.6,356.2h0M309.4,353h0M308.5,348.9h0M308.6,344.3h0M310.7,265.8h0M311.5,268.5h0M310.8,277.9h0M310.8,282.2h0M310.3,287h0M310.9,291.8h0M310.8,297.5h0M310.3,301.3h0M310.3,304.9h0M311.2,308.7h0M311.3,377.5h0M311.1,372.7h0M310.6,364.3h0M310.7,356.8h0M310.2,352.2h0M311.1,347.9h0M310.4,343.7h0M312.4,249h0M312.1,251.7h0M313.3,257.2h0M312.9,265h0M312.5,271.3h0M312.3,276.3h0M313,280h0M313.1,283.7h0M311.9,288.3h0M312.6,291.5h0M313.5,295h0M312.3,298.5h0M312.4,354.6h0M313.4,349.7h0M312.4,342.3h0M313.4,337.8h0M313.2,333h0M314.4,234.7h0M315.2,241.1h0M314.9,248.9h0M313.8,256.5h0M314,259.7h0M314.8,264h0M313.8,269.6h0M314.7,272.4h0M314,275.3h0M313.8,279.9h0M314.9,283.1h0M314.3,287.2h0M313.6,290.1h0M314.1,343.2h0M313.8,339.8h0M313.8,331h0M314.1,325.9h0M315.2,320.9h0M315.7,233.6h0M317,236h0M315.9,243.4h0M316.2,253.6h0M316.1,257.6h0M316,261.8h0M316.7,267.4h0M316.2,271.5h0M315.4,275h0M317,279.6h0M316.2,282.3h0M316.5,345.1h0M316.2,338.5h0M316.1,332.3h0M315.8,328.7h0M316.1,325.5h0M316.7,320.2h0M316.4,315.8h0M315.9,313.1h0M317.2,232.7h0M318.6,238.1h0M318.8,241h0M317.6,246.3h0M318,252.4h0M318.7,256.8h0M318.6,261.2h0M318,264.4h0M317.3,268.9h0M318.2,274h0M318.2,278.9h0M318.4,282.3h0M318,343.4h0M318.1,342.1h0M318.8,332.3h0M317.6,324.9h0M317.8,321.1h0M318,318.1h0M317.6,313.4h0M319,237.7h0M319.4,243.4h0M320.5,252.7h0M319.9,259.8h0M319.9,264.7h0M319.9,268.7h0M319.2,272.3h0M320.6,276.7h0M320,280.7h0M320.6,339.6h0M319,338.3h0M319.2,326.8h0M319.7,322.6h0M319.1,318.4h0M320,314.8h0M320.9,239.1h0M322.5,242.9h0M321.8,249.8h0M321.2,254.9h0M321.4,262.1h0M321.5,267.4h0M321.3,272.9h0M321.3,276.3h0M321.4,280.9h0M322.1,284.1h0M320.8,339.5h0M320.8,337h0M322.5,332.6h0M321.1,329h0M321.8,324.9h0M322,320.7h0M321,316.9h0M322.9,236.9h0M323.4,241h0M323.8,250.9h0M323.3,257.5h0M323.5,264.2h0M323.9,267.5h0M322.8,270.7h0M324.1,275.6h0M322.9,279.9h0M323.7,283.9h0M324.2,288.3h0M323.3,363.2h0M323.6,357.4h0M324.1,351.6h0M322.6,345.7h0M324,341.1h0M323,335.9h0M323.6,331.1h0M323.4,327.9h0M323.9,323.9h0M322.6,320.1h0M324.4,249h0M325.1,253.2h0M324.3,264h0M324.4,267.5h0M325.3,271.9h0M326,276h0M325.8,279.9h0M324.5,284.6h0M324.6,289h0M324.8,388.9h0M325.3,384.5h0M325.1,376.2h0M325.7,369.5h0M324.8,363.1h0M325.8,357.1h0M325.9,352.4h0M326,347.4h0M325.6,342.1h0M325.3,337.2h0M325.3,333.7h0M324.8,330.9h0M324.9,326.7h0M324.5,322.3h0M326.8,258.6h0M326.9,265.4h0M327.5,271.9h0M326.3,278.2h0M326.1,284.1h0M326.9,287.9h0M326.7,291.2h0M327.8,412.2h0M326.5,409.9h0M327.4,400h0M327.3,395.9h0M326.2,388.1h0M327.1,381.5h0M326.9,376.6h0M327.8,372.6h0M326.8,367.3h0M326.9,364.2h0M327.9,360h0M326.6,356.1h0M327.3,352.8h0M327,349.1h0M326.6,345.3h0M327.1,340.7h0M326.8,338.1h0M327.6,335.3h0M326.8,332.6h0M327.4,328.6h0M326.8,324.7h0M326.8,321.7h0M328.9,255.8h0M329.3,257.5h0M328.7,269.8h0M327.9,274.6h0M328.8,279.5h0M328.2,284h0M328.4,287.1h0M328.9,291.9h0M329.7,373.8h0M328,369.3h0M328.8,363.5h0M329.3,354.8h0M329.2,349.3h0M329.3,343.8h0M329.5,340h0M328.3,336.5h0M328.1,331.4h0M329,328.6h0M328.6,323.9h0M330.6,249h0M330.4,252.5h0M331.2,257.1h0M330.3,264.3h0M331.3,272.1h0M330.5,276.4h0M331,280.1h0M330.6,284.1h0M331.3,288.6h0M330.1,293h0M330.3,295.6h0M330.1,363h0M329.8,357.1h0M330.8,348.2h0M330.5,345h0M330,338.4h0M330.9,333.7h0M330.3,329.7h0M330.7,326.8h0M332.9,241h0M332.2,247.9h0M332.8,254.8h0M332.7,261.4h0M332.5,265.5h0M332.2,271.4h0M331.5,274h0M332.2,276.9h0M332.3,280.9h0M332,285h0M332.7,288.5h0M331.6,293.2h0M331.9,344.2h0M331.6,337.7h0M332.8,334h0M332.3,329.4h0M331.8,326.3h0M333.5,254.4h0M334.1,257.5h0M334.2,262.7h0M333.4,271.2h0M333.6,275.9h0M334.8,279.4h0M334.3,283.3h0M333.5,286.1h0M334.8,289.8h0M333.4,293.3h0M334.5,344h0M334.7,341.4h0M334.3,331.4h0M334.3,327.9h0M334.6,324.3h0M336.2,259.9h0M335.2,264.1h0M335.3,269h0M336.8,275.2h0M336.5,280h0M335.4,284.2h0M336.2,288.6h0M335.1,346.7h0M336.5,343.4h0M336.1,337.9h0M335.9,331.3h0M335.2,327.2h0M336.4,324.3h0M335.2,320.6h0M337.5,262.6h0M338.2,269.2h0M337.2,275.7h0M338.1,281.4h0M337.1,286h0M337.7,349.6h0M338,347.5h0M337.1,340h0M338.3,332.7h0M337.9,328.4h0M338,323.4h0M338,319.5h0M339.8,261.3h0M340.1,268.1h0M339,272.7h0M338.9,278.2h0M338.7,283.4h0M339.7,286.5h0M338.9,351.9h0M340.1,347.2h0M339,339.1h0M340.4,334.6h0M339.7,330h0M338.7,325.2h0M340.3,321h0M339.4,317.9h0M342.1,247.7h0M341.2,251.5h0M340.7,257.4h0M342,265.4h0M341,272h0M341.7,276.5h0M341.5,281.6h0M341.3,285.8h0M342.1,288.9h0M341.7,362.5h0M340.6,356.8h0M342,346.2h0M341.7,342.1h0M340.6,336.8h0M340.8,332.2h0M342,329.2h0M341.6,325.4h0M342.1,321.4h0M343.4,235.2h0M342.7,242h0M342.6,246.9h0M343,254.3h0M342.9,261.2h0M343.6,265.9h0M343.6,268.7h0M342.4,272.8h0M343.8,275.8h0M342.7,279.9h0M342.6,282.7h0M343.9,286.3h0M343.4,288.7h0M343,291.3h0M343.5,377.5h0M343,375.9h0M342.7,367.7h0M343.6,357.1h0M342.9,351.1h0M342.6,346.7h0M343.3,342.2h0M343.3,337.5h0M344,333.5h0M343.3,330.7h0M343.6,327h0M343.3,323h0M345.4,218.9h0M344.3,225.6h0M345.1,228.6h0M344.3,237.9h0M344.7,242.6h0M344.9,249.3h0M344.3,253.7h0M344.2,259.7h0M344.3,264h0M344.4,268.5h0M345.3,272.6h0M345.5,277.2h0M344.9,282h0M344.4,285h0M344.1,287.5h0M345.3,290.9h0M344.6,394.4h0M345.3,390.2h0M344.5,386.1h0M345.5,381h0M345.8,374.9h0M345.8,368.1h0M344.5,361.2h0M344.5,357.2h0M344.1,352.4h0M345.2,348.8h0M345.4,344.1h0M344.8,339.5h0M345.1,334.8h0M345.1,330.2h0M344.6,327.2h0M344.2,324.1h0M346.1,214.7h0M346,219.9h0M346.5,227.1h0M346.8,237.6h0M346.6,242h0M346.6,248.7h0M346.8,253.5h0M346.6,257.4h0M346,261.5h0M346.5,265.9h0M347.4,271.3h0M347.4,275.5h0M345.9,279.1h0M346.4,283.2h0M346,286.5h0M346.7,290.6h0M347.4,295.1h0M347,398.4h0M346.2,393.2h0M347.6,381.8h0M347,376.5h0M347.2,371.7h0M346.7,366.4h0M347.4,360.4h0M347.2,354.2h0M346,351.2h0M346.5,347.3h0M346.4,343.9h0M346.3,340.3h0M346.2,337.1h0M347,332.6h0M346.8,328.7h0M346.5,326.1h0M349.5,217.6h0M348.3,221.7h0M348.9,225.2h0M348.2,229.6h0M348.2,239h0M349.3,246h0M348.5,253.6h0M347.7,257.8h0M348.6,263h0M348.4,267.1h0M348,271.9h0M349,276.9h0M349.4,281.5h0M347.8,285.3h0M348.9,288.2h0M349,290.8h0M348.8,293.4h0M349.4,298h0M348.7,301h0M349,409.1h0M347.8,403h0M348.9,393.4h0M349,389.8h0M348.9,383.7h0M348.6,379.4h0M348.2,374.4h0M348,370.1h0M349.1,365.2h0M348.7,360.6h0M347.9,355.5h0M348.5,352.2h0M349,348.5h0M349,345.5h0M347.7,341.5h0M349.3,337.7h0M348.8,334.6h0M349.3,330h0M351,216.3h0M350.3,220.3h0M350.7,226.8h0M351,235.1h0M350.6,241.9h0M351.3,245.8h0M351.3,252.1h0M349.6,257.5h0M351.1,261.9h0M350,267.8h0M350.8,273h0M350.1,276.5h0M350.3,280.6h0M351.2,285.1h0M351.3,287.8h0M349.8,292.3h0M350.8,295h0M349.8,298.7h0M350.2,415.5h0M351.1,408.9h0M349.9,405h0M351,399.7h0M349.8,395.3h0M350.2,389.1h0M350.5,381.8h0M350,378.1h0M351.3,374.8h0M350.7,370.6h0M350.8,365.5h0M350.8,361.3h0M349.9,356.2h0M350.8,352.7h0M349.7,348.6h0M351,345.1h0M350.1,341.9h0M350.5,338.5h0M351.2,334.9h0M352.3,212.6h0M352,217.5h0M351.8,224.2h0M351.6,233h0M352.9,238.2h0M351.9,243h0M352.5,249.3h0M353,254.8h0M352.3,257.7h0M351.4,262.6h0M352,266.2h0M351.6,270.1h0M351.7,274.4h0M352.4,278.7h0M352.6,281.5h0M351.8,284.8h0M352.7,289.3h0M351.5,291.9h0M352.5,295.7h0M352.4,418.5h0M351.4,415h0M351.4,402.6h0M351.6,395.1h0M351.7,390.5h0M353.1,385.4h0M351.9,380.7h0M352.5,377h0M352.1,372.4h0M353,367.7h0M353,362.8h0M352.4,358.3h0M351.5,354.1h0M352.7,350.5h0M352.6,347.3h0M351.9,343h0M352,338.3h0M351.8,333.8h0M352.1,329.5h0M354.5,211.3h0M353.4,212.5h0M353.9,222.8h0M354.6,228.9h0M354,234.7h0M354.6,241.3h0M354.4,248.5h0M354.4,252.9h0M354.3,256.3h0M353.6,261h0M354.8,263.9h0M354.5,267.4h0M353.4,270.7h0M353.2,274.6h0M353.2,278.2h0M354.9,281.8h0M354,285.6h0M353.3,289h0M354,293h0M354.3,432.1h0M354.5,429.4h0M354,422h0M353.2,417.4h0M354.9,410.9h0M354.1,404.9h0M354.7,395.9h0M354.4,387.5h0M354.7,383.3h0M354.3,379.2h0M354.4,376.1h0M354.5,371.2h0M353.3,366h0M353.4,361.5h0M354.5,357h0M354.1,352.2h0M353.3,349.1h0M354.8,346h0M353.2,343.1h0M353.6,338.4h0M354.6,334.4h0M354.4,331.6h0M354.8,327.2h0M356.3,216h0M355.4,221h0M356.4,227h0M355.7,231.4h0M356,240.4h0M356.1,244.7h0M355.9,252.4h0M355.3,257.4h0M355.2,262.3h0M355.5,265.3h0M355.7,270.2h0M355.5,275.4h0M355.4,278.2h0M355.4,281.6h0M356,284.5h0M355.7,288.3h0M355.1,423.7h0M356.3,422.6h0M355,411.3h0M355.3,402.4h0M355.9,397.2h0M356.2,391.7h0M355.5,384.2h0M356.6,378.4h0M355.8,374.4h0M356.5,371.2h0M356.6,367h0M356.7,362.9h0M356.4,357.5h0M355,352.7h0M354.9,349.8h0M356.3,345.6h0M355,342.2h0M356,339.5h0M355.6,336.9h0M355.9,332.3h0M354.9,329.2h0M356,325.5h0M356.6,322.4h0M355.7,319.6h0M356.8,209.7h0M357.9,214.5h0M357.4,225.7h0M357.8,232.9h0M357.2,238.7h0M356.8,243.1h0M358.1,250.3h0M357.4,254h0M357.2,259.5h0M357.2,264h0M358,266.6h0M358.2,269.4h0M357.1,272.4h0M357.5,276.6h0M357.5,279.7h0M356.9,283.1h0M357.5,411h0M357.8,408h0M358.4,404.1h0M358,400.5h0M356.8,392.3h0M357.9,387.5h0M357.7,379.8h0M356.8,373.4h0M357.5,366.4h0M357.4,361.7h0M358,356.7h0M358.1,352.7h0M358.4,348.9h0M357.3,345.2h0M356.9,340.6h0M357.6,336.4h0M357.9,332h0M357,329.2h0M357.3,324.8h0M357.1,321.9h0M356.9,318.1h0M356.8,315.4h0M359.6,172.8h0M360.2,177.9h0M359.5,187.8h0M358.9,194.2h0M358.8,201h0M360,208.1h0M359.2,212.9h0M359.7,220.2h0M359.9,227.2h0M360.1,232.6h0M359.6,236.4h0M359.7,240.3h0M359.9,244.6h0M359.9,248.6h0M360,253.5h0M358.9,258.1h0M359.8,260.9h0M360.1,263.5h0M359.4,267.1h0M359.4,270.6h0M359.4,273.7h0M359.6,277.9h0M358.9,367.2h0M359.8,360.4h0M358.7,351.9h0M359.1,347.1h0M360.3,341.6h0M358.9,336.4h0M358.6,332.3h0M359.2,328.1h0M359.8,324.4h0M359.7,320.1h0M358.5,316.8h0M358.5,313.2h0M361.7,185.1h0M362.1,190.5h0M361,202h0M362.1,209.6h0M360.9,213.4h0M361.7,220.7h0M360.9,225h0M361.5,229.8h0M361,233.6h0M361.1,237.1h0M362,242.8h0M361.9,247h0M361.5,250.6h0M361.2,255h0M361.1,259h0M362,261.9h0M360.6,264.7h0M362,267.8h0M360.3,270.7h0M360.8,274.5h0M361.9,352.2h0M360.4,345.4h0M362.1,339.4h0M361.2,335h0M360.8,328.9h0M361.9,325.2h0M360.7,319.5h0M361.6,315.8h0M360.6,312.5h0M360.4,309.3h0M361.5,305.9h0M363,202.3h0M363,208.7h0M363.8,214.2h0M363.5,217h0M362.5,224.4h0M362.4,227.7h0M362.1,233h0M363.6,238.8h0M362.5,244.6h0M362.9,248h0M363.8,252.5h0M362.8,257.1h0M363.2,261.5h0M363.1,264.3h0M362.5,337.9h0M363.8,332h0M362.5,324.3h0M363.2,319.1h0M362.8,312.4h0M362.2,308.2h0M362.5,304.5h0M362.5,301.7h0M363.7,298.5h0M364.2,210.1h0M364.6,213.9h0M365,218h0M364.7,221.4h0M364.4,224.9h0M365.2,228.5h0M365.2,233.9h0M364.6,240.2h0M364.6,244.7h0M364.2,247.5h0M364,250.7h0M364.2,254.6h0M365.5,258.4h0M364,261.3h0M365.3,328h0M364.2,323.4h0M365.6,318.3h0M365,311.4h0M364.7,305.4h0M364.2,300.6h0M364.3,297.6h0M364.3,294h0M366.6,216.2h0M366.1,218.5h0M366,222.5h0M366.6,230.9h0M365.8,234.4h0M366.5,238.3h0M366.6,242.3h0M365.8,247.5h0M366.4,251.8h0M367,256.1h0M366.3,259.1h0M366.7,263.1h0M366.4,353.8h0M366.8,351.5h0M366.8,343.7h0M366.7,337.5h0M366.4,330h0M366,325.1h0M366.5,320.2h0M366,315.2h0M367,311.1h0M366.5,307.1h0M366.1,303.8h0M367.2,301.1h0M367.3,298.6h0M366.9,295.6h0M367.6,213.5h0M367.7,218.7h0M368.1,229.3h0M367.6,237.3h0M367.8,241.8h0M368,246h0M368,250.6h0M369.2,254.2h0M368.4,258.7h0M369.3,262.8h0M367.9,265.9h0M369.3,268.7h0M367.9,333.9h0M369,332.5h0M368,327.6h0M369.3,322.7h0M368.6,318.2h0M369.1,314.4h0M368.6,310.6h0M368.4,306.6h0M368.5,303.1h0M368.4,300h0M369.5,211.3h0M370.3,215.4h0M370.9,218.5h0M371.1,226.4h0M370.4,234h0M369.6,241.5h0M371.1,246.8h0M370.2,250h0M370.6,254.7h0M369.4,259.1h0M369.5,261.8h0M370.4,265.1h0M369.7,269.3h0M369.8,339.6h0M369.4,336.4h0M370.5,332.2h0M370,329.3h0M370.9,321.4h0M370.5,315.5h0M370.8,310.3h0M371,307.5h0M369.8,303.2h0M372.6,208.8h0M371.8,212.5h0M372.5,222.8h0M372.4,230.3h0M371.4,237.5h0M372.5,243.5h0M371.8,247.9h0M372.8,251h0M372.8,254.4h0M372.6,257.7h0M371.2,261.5h0M372.1,264.6h0M372.6,269.1h0M371.5,272.4h0M372.6,363.5h0M372.9,356.9h0M372.3,350.7h0M372.2,343.5h0M372.2,336.2h0M372.8,332.5h0M371.8,327.8h0M371.7,323.4h0M372.8,318.8h0M371.9,316.1h0M371.7,312.3h0M371.6,308.7h0M372.1,305.2h0M373.6,218.6h0M373.4,220.5h0M373.6,229.4h0M373.4,237.6h0M373.5,244.5h0M373.8,249.5h0M373.6,253.7h0M374.5,258.2h0M373.7,261.5h0M373.6,266h0M374.1,268.6h0M374.2,271.5h0M373.6,386.1h0M373.2,381.5h0M374.3,370h0M374.3,365.6h0M374.7,360.9h0M374.3,356.1h0M374.6,350.7h0M373.2,347.1h0M373.5,341.9h0M374.6,336.6h0M373.7,332.1h0M374.7,327.1h0M373.4,324.5h0M373.3,321.3h0M373,317.7h0M373.7,313.4h0M373.7,309.9h0M373.1,306.5h0M375.4,225.9h0M375.3,231.5h0M376.4,238.3h0M375,246.4h0M374.7,251.7h0M376.3,257.9h0M376.3,261.8h0M376,264.6h0M376.2,268.7h0M374.9,271.8h0M375.4,276h0M375,335.8h0M375.7,332.9h0M375.7,327.9h0M376.2,321h0M374.8,314.3h0M376.4,310.3h0M375.5,307h0M377.4,242h0M377,247.5h0M377.9,256.2h0M376.6,261.6h0M376.9,266h0M377,269.6h0M377.2,272.2h0M377.4,275.4h0M376.5,334.8h0M377.9,331.3h0M377.3,325.8h0M378,318.5h0M376.5,313.7h0M377.2,310.2h0M376.6,307.5h0M380,243h0M378.9,244.8h0M379.3,251.9h0M378.8,258.1h0M378.8,262.7h0M379.2,268.5h0M378.7,272.4h0M379.3,276.5h0M378.4,344.5h0M380,338.1h0M379.7,332.8h0M379,325.7h0M379.6,321.8h0M378.3,317.9h0M379.3,315h0M378.5,312.1h0M379,308.6h0M381.2,239.2h0M381.1,242h0M381.7,248.6h0M380.3,255.7h0M381.7,261.9h0M381.8,266.1h0M380.1,270.5h0M381.8,275.1h0M381.2,347.7h0M381.6,343.4h0M381.7,337.8h0M380.4,333.5h0M380.3,327.2h0M381.3,322.6h0M380.5,318.8h0M380.9,316.1h0M380.1,313.1h0M381.8,309.6h0M382.7,244.5h0M383,249.1h0M383.4,255.8h0M382.6,263.4h0M382.5,266.8h0M382,269.9h0M382.2,274.9h0M383.2,278.8h0M383,344.4h0M382.8,341.5h0M382.4,332.3h0M382.8,328.3h0M383.4,324.4h0M382.9,320.8h0M383,316.9h0M383.6,314.1h0M384.4,243.5h0M384.8,247.8h0M385.4,255.6h0M384.6,262.4h0M385.3,267.6h0M384.6,271.6h0M384.8,275.1h0M384.1,279.4h0M384,282h0M385.2,343.7h0M384.5,341.3h0M383.9,333.9h0M384.5,330.2h0M384,324.1h0M385.2,321.1h0M385.3,317.8h0M384.6,314.2h0M386.6,242.1h0M386.3,245.1h0M386.2,252.1h0M386.7,255.3h0M386.6,258.6h0M386.2,266.2h0M386.5,270.8h0M386.6,274.2h0M385.9,277.4h0M386.5,281.5h0M386.6,284.7h0M387.2,344.4h0M386.2,340.5h0M385.8,337.2h0M387.2,332.7h0M385.7,327h0M386.1,322.7h0M387.3,319.6h0M385.5,316.5h0M388.7,243.6h0M388.3,250.5h0M388.2,255.3h0M387.6,259.8h0M388.2,264.7h0M387.7,270.6h0M388.9,276.1h0M387.7,279.5h0M388.9,283.7h0M388.8,287.5h0M388.5,347.4h0M387.6,340.9h0M389,336.8h0M388.3,332.1h0M387.7,327.9h0M387.4,324.9h0M388.8,322.1h0M388,317.9h0M390.7,244.5h0M389.6,248.9h0M390,252.5h0M390.5,257.5h0M389.5,266h0M390.4,269.8h0M389.5,274.2h0M389.4,278h0M389.8,282.2h0M389.8,287.2h0M389.9,289.8h0M389.5,354.4h0M390.2,349.5h0M390.3,346.7h0M390.2,343.2h0M390.2,339h0M390.9,332.8h0M390.9,329.4h0M390.2,325.8h0M389.9,322.7h0M391.2,254.8h0M391,258.4h0M392.4,263.4h0M391.6,267.8h0M392.3,272.1h0M392.3,279h0M391.2,283h0M391.4,286h0M392.4,289.5h0M391.1,360.6h0M391,357.1h0M391.8,346h0M391.3,342.6h0M392.2,337.2h0M391.6,332.3h0M392.4,327.6h0M391,323.1h0M393.1,257.6h0M392.8,259.8h0M393.8,268.9h0M392.7,277.1h0M393,281.4h0M394.2,285.3h0M392.8,288.4h0M393,291.5h0M393.5,294.2h0M394,296.8h0M394.5,366.7h0M393.4,360.1h0M394.1,356.4h0M393.7,350.7h0M393.8,344h0M393.2,340h0M394.1,335.4h0M393.8,332.2h0M394.2,327.7h0M396.2,264.1h0M396.1,266.1h0M394.8,272h0M394.7,277.9h0M394.8,284.4h0M395.8,288.6h0M394.5,291.3h0M394.6,295.8h0M394.6,298.2h0M396.2,370.7h0M396,366.8h0M395.5,356.6h0M395.9,352h0M395.9,348.6h0M395.8,343.8h0M394.8,340.4h0M394.9,337.4h0M395.8,333.4h0M398,265.1h0M396.5,270.9h0M397.6,276.9h0M397,281.9h0M397,285.8h0M398,290.4h0M396.9,295.4h0M397.3,299.3h0M397.3,302.4h0M397.4,372.1h0M397.5,367.1h0M396.6,361h0M396.3,357.8h0M398.1,351.3h0M398.1,345.4h0M398.1,340.3h0M396.5,337.5h0M396.9,334.9h0M398.8,272.3h0M399.6,275.9h0M399.1,286.8h0M399.5,293.7h0M398.8,298.1h0M398.3,302.2h0M399.5,305.6h0M398.9,370.1h0M399.4,366.8h0M398.2,359.7h0M399.2,355.8h0M399,351.4h0M399.7,346.7h0M398.5,343.6h0M399.8,341h0M399.3,338.3h0M400.5,285.8h0M401.6,291.6h0M401,298.7h0M401.1,303.6h0M400,307h0M400.9,378.7h0M401.7,373.7h0M400.4,367h0M400.7,363.4h0M400,358.2h0M401.5,352.4h0M400.1,348.8h0M401.2,345h0M400.5,341.9h0M401.9,284.8h0M401.8,287.6h0M402.9,292.2h0M403.1,298.9h0M402,304.9h0M402.6,310h0M403.5,312.5h0M401.9,392.1h0M401.9,388.9h0M403.5,378.6h0M402.1,371.1h0M402.8,365.2h0M402.3,362.1h0M401.8,357.9h0M402.3,354.1h0M402,350.8h0M403.2,346.1h0M402.9,342.7h0M403.9,288.7h0M404.5,290.5h0M404,296.8h0M404.2,301.4h0M403.6,306h0M403.8,309.1h0M404.2,379.6h0M404.7,376.5h0M405.1,370.8h0M404.7,365.5h0M404.2,360.6h0M403.7,355.1h0M403.9,350.9h0M404.6,348.3h0M404.9,344.2h0M406.8,288.1h0M406.5,290.6h0M405.4,297.1h0M406.8,304.8h0M406.7,307.9h0M406.6,311h0M406.1,373.5h0M405.5,370.2h0M406.5,359.7h0M407,353.1h0M405.3,348.1h0M407,344.7h0M406.8,341.6h0M408,289.3h0M408.4,294.9h0M408.3,300.4h0M407.7,305.2h0M407.3,308.1h0M407.4,375.7h0M407.9,370h0M408.2,363.2h0M408.8,356.2h0M407.2,350.7h0M407.3,346.7h0M407.7,343h0M407.5,340.3h0M407.6,337.8h0M410.6,287.2h0M410.3,293.4h0M410,301h0M409.5,305h0M410.4,384.7h0M409,378.8h0M409.1,376.1h0M410.5,369.2h0M409.8,364.5h0M409.7,358.6h0M410.3,355.2h0M410.1,350.8h0M409.4,346.3h0M410.7,341.8h0M411.7,264h0M412.5,267.6h0M411.4,270.6h0M411.9,276h0M411.6,281.1h0M411.7,286.1h0M411.3,291h0M411.1,296.5h0M412.4,301.5h0M411.4,304.7h0M412.2,308.3h0M412.3,390.7h0M411.3,388.6h0M410.8,383.8h0M411.4,379.4h0M412.4,371.5h0M411.8,367.9h0M411,363.6h0M412.2,359.1h0M412.2,354.9h0M412.1,351.3h0M411.5,348.1h0M411.5,343.7h0M410.9,340.8h0M413.1,278.9h0M414.1,282.6h0M412.7,287.3h0M414,296.1h0M413.2,301.7h0M412.9,305.5h0M413.1,309.2h0M413.1,370.3h0M412.6,366h0M414.2,360.5h0M414,355.8h0M414.1,351.2h0M412.5,347.4h0M413.4,343.4h0M413.2,339.4h0M415.5,284.6h0M415.7,286.2h0M414.6,296.2h0M415,301.5h0M415.4,305.7h0M415.2,360h0M415.5,355.2h0M415,352h0M415.5,345.6h0M414.4,340.1h0M415.7,336.7h0M416.6,275.1h0M416.9,281.5h0M416.4,286.5h0M417.6,291.1h0M417,296.9h0M417.6,301.2h0M416.2,365.8h0M416.9,361.5h0M417.4,352.8h0M417.1,347.8h0M416.8,342.8h0M416.9,339.6h0M417,336.7h0M417.4,332.2h0M418.9,269.6h0M418,276.2h0M418.3,284.6h0M419.5,290.1h0M418.2,294.3h0M418.7,297.2h0M418.4,373h0M419.5,370.3h0M419.1,365.8h0M419.1,357.6h0M419.5,353.7h0M418.5,348.4h0M418.3,344.4h0M419.4,339.3h0M419.4,336.1h0M419.6,333.1h0M421.3,261.1h0M419.8,264.2h0M420.6,270.6h0M419.8,276.7h0M420,284.1h0M420.4,287.9h0M420.2,292.2h0M420.6,296.3h0M420.3,362h0M420.4,359.4h0M420.1,355.1h0M420,351.4h0M420.9,345.7h0M421,341.5h0M420,337.7h0M420.7,333h0M420.9,328.6h0M421.7,250.7h0M421.8,255.8h0M422.3,264.4h0M422.4,272.8h0M422.8,277.7h0M422,283.4h0M422.9,288h0M422.4,292.7h0M421.9,345.2h0M422.1,340.4h0M423.2,332.4h0M422.1,328.6h0M423.2,325.4h0M424.1,245.2h0M424.7,251.4h0M423.7,261h0M423.4,266.5h0M423.8,272.1h0M424.3,277.1h0M423.7,280.3h0M423.7,284.7h0M423.5,289.1h0M424.9,340.5h0M424.1,338.4h0M423.8,333.5h0M423.7,327.6h0M423.6,322.1h0M426.5,237.9h0M426.5,242.6h0M426.2,250.9h0M425.5,253.9h0M425.9,260.3h0M426.1,263.3h0M426.3,266.8h0M426.9,271.4h0M425.7,275.4h0M425.1,278.8h0M425.2,283.5h0M425.6,333.3h0M425.6,329.1h0M426.9,324.8h0M425.3,318.8h0M427.3,235.1h0M428.1,236.4h0M427.1,243.8h0M428.3,251.5h0M427.6,259h0M427,263.8h0M427.4,268.2h0M426.9,273.1h0M427.5,276.8h0M428.3,281.1h0M427.1,331.9h0M427.8,330.6h0M427.4,319.7h0M427.8,315.1h0M429.3,241.6h0M429.7,246.9h0M428.8,254.6h0M428.7,260.9h0M428.7,264.5h0M430.1,269.6h0M428.8,272.5h0M430.2,275.4h0M429,279.1h0M429.8,282.1h0M429.6,338.8h0M429.2,337.3h0M429.3,334h0M429.8,323.4h0M430.2,319.4h0M429.7,316.5h0M429.4,311.7h0M430.8,242.6h0M431.9,248.2h0M431,253.8h0M431.1,261.6h0M431,266h0M431.2,270.8h0M431.9,274.3h0M430.6,279.1h0M432,281.8h0M431.1,345.5h0M431.1,341.3h0M431.5,334.7h0M431.5,331.6h0M432.2,327.2h0M431.7,322.9h0M431.8,318.9h0M430.6,314.2h0M430.6,311.7h0M433.9,239.5h0M433.5,241h0M433.4,245.7h0M433.2,256.3h0M433.3,261.8h0M433,265.5h0M432.7,270.7h0M432.5,273.8h0M432.3,278.2h0M433.9,344.2h0M432.6,340.1h0M433.1,332.7h0M432.9,327.2h0M432.5,322.9h0M433.7,318.2h0M432.9,314.8h0M432.5,311.6h0M434.8,241.9h0M434.5,243.6h0M435.6,250.8h0M434.2,257.7h0M435.3,262.5h0M434.2,267.6h0M435.8,271.7h0M434.6,274.5h0M435.3,278.8h0M434.7,346.3h0M435.6,340.2h0M434.8,337h0M435.8,330.5h0M435.5,324.8h0M435.4,321.4h0M435.4,316.6h0M435.3,313.4h0M436.6,241.5h0M436.6,247.9h0M437.4,252.1h0M436.5,259.4h0M437.6,264.3h0M435.9,268.2h0M436,271.5h0M436.5,275.7h0M437.3,353.9h0M436.7,351.7h0M437.1,342h0M436.1,336h0M437.7,331.7h0M437.6,327h0M436.6,322.1h0M436.3,318h0M437.4,314.2h0M435.9,310.7h0M436.9,308.1h0M438.2,217h0M438,220.2h0M438.9,224.2h0M438.6,230.9h0M437.9,239.1h0M438.2,246.7h0M438.1,252.6h0M437.9,257.6h0M438.7,261.4h0M439.3,265.4h0M439.4,269.2h0M438.4,272.3h0M438.3,275.5h0M438.4,344.7h0M439.2,341.1h0M437.9,333.2h0M439.2,327.5h0M438.7,323.2h0M438.5,320.2h0M439.4,316.1h0M438.9,312.3h0M438.7,307.5h0M439.9,177.7h0M440,184.4h0M439.6,194h0M439.8,201.1h0M441.2,206.9h0M440.9,212.6h0M441.3,216.5h0M440.9,223.3h0M441.3,228.4h0M440.9,231.8h0M439.5,237.6h0M441,241h0M439.5,246h0M441.2,251.2h0M439.5,254.4h0M440.3,258.2h0M439.6,262.5h0M440.4,265.3h0M440.5,269.1h0M439.9,271.6h0M441,336.4h0M439.6,333.8h0M441,330.4h0M439.9,320.1h0M440.7,314.6h0M440.5,309.8h0M440.6,306.8h0M440.7,303.7h0M442.1,188.5h0M442.6,192.4h0M441.8,201.5h0M442.5,212.5h0M442,216.5h0M441.6,222.7h0M442.3,228.4h0M442.5,233.1h0M442.5,235.7h0M442.3,239.4h0M441.6,243.7h0M442.6,246.5h0M441.4,251h0M442.8,253.6h0M442.3,258.2h0M442.9,261.9h0M443.1,265.1h0M441.8,268.7h0M442.7,272.3h0M441.6,333.9h0M442.8,327.3h0M441.6,322.8h0M441.3,318h0M442.3,312.1h0M441.6,309h0M441.9,305.9h0M442.2,303.2h0M444.4,193.6h0M444.6,198.1h0M444.8,205.2h0M443.3,209.5h0M443.1,213.8h0M444.1,218.8h0M444.7,225.5h0M443.5,232.2h0M443.3,236.4h0M443.3,240.9h0M443.4,244.9h0M443.8,249.2h0M444.7,253.2h0M444.1,256.6h0M443.7,260.1h0M443.3,264.6h0M444.3,267.3h0M444.6,270.3h0M444.7,273.1h0M443.6,342h0M444.8,335.8h0M444.2,331.5h0M444.6,326.8h0M444.4,321.1h0M444.8,316.9h0M444.2,312.6h0M443.2,309.9h0M444,305.2h0M446.2,203.4h0M445.6,210.1h0M446.6,215.4h0M445.1,221.8h0M446.2,228.8h0M445.2,233.4h0M446.3,239.1h0M446.4,242.3h0M445.3,246.6h0M445.9,251.3h0M446.1,254.9h0M445.7,258.4h0M445.6,261.7h0M446.4,266.3h0M446,270.3h0M445.7,274.3h0M445.8,342h0M446.3,335.5h0M445.2,327h0M446.2,320.3h0M445.6,315h0M446.5,310.5h0M446.2,306.6h0M448,202.7h0M447.2,208h0M447.8,213.4h0M447.8,219.1h0M447.5,226h0M447.3,230.7h0M448.4,237.2h0M448.5,242.4h0M447.4,247.5h0M447,251.5h0M446.8,256.4h0M447.9,259.9h0M447.5,262.6h0M446.8,265.7h0M448.3,270.5h0M447.4,273.8h0M447.2,276.7h0M447,349.9h0M447.1,346.9h0M447.6,341.5h0M447.4,333.9h0M448.3,328.5h0M448.5,323.1h0M446.9,319.4h0M447.7,316.3h0M447.3,311.4h0M447.6,307.9h0M449.7,214.1h0M450.1,219.2h0M449,225.1h0M450,233.5h0M448.6,240.6h0M449.7,248.1h0M449.5,253.1h0M448.6,255.9h0M449.9,260.4h0M448.8,263h0M448.8,266h0M448.8,270.7h0M449.9,274.8h0M450.3,277.2h0M450,357.6h0M449.7,355.8h0M449.2,345h0M449.3,340.8h0M448.7,338.1h0M448.5,333.2h0M449.9,327.4h0M448.5,323.1h0M448.7,320.5h0M449.2,317.5h0M448.8,314.8h0M449,311.1h0M450.5,252.5h0M450.4,253.9h0M450.8,261.5h0M450.7,268.7h0M451.4,273.6h0M451.7,277.9h0M451.1,281.8h0M451.6,366.9h0M451.2,361.6h0M450.3,357.7h0M451.2,352.9h0M450.8,346.4h0M451.6,342.4h0M451.2,337.2h0M450.8,334.2h0M451.9,330.3h0M450.5,327.4h0M451.6,322.9h0M451.7,319.4h0M451.8,315.9h0M453.1,266.1h0M452.6,269.3h0M453.8,275.9h0M452.4,282.6h0M453.3,287.1h0M453.3,379.6h0M452.2,375h0M452.9,368.8h0M453.1,364.4h0M452.2,359.1h0M453.1,352.8h0M452.8,347.7h0M452.8,344.9h0M453.1,339.3h0M453.8,334.9h0M452.6,331.9h0M453.6,327.5h0M452.7,323.9h0M453.3,320.8h0M453.7,317.9h0M455.1,267.6h0M454.9,268.8h0M454,276.8h0M455.4,281.1h0M454.1,285.7h0M454.6,289.6h0M455.1,292.7h0M455.6,389.4h0M453.9,386.5h0M455.2,379.6h0M454.1,370.3h0M455.1,367.6h0M453.9,361.3h0M454.9,356.8h0M455,352.8h0M454.5,347.9h0M454,344.1h0M454.3,339.4h0M454.5,336.6h0M454.1,331.7h0M455.7,328.3h0M455.4,323.9h0M456.1,264h0M457.3,267.6h0M457.3,272.7h0M457.4,279.1h0M457.4,283.8h0M457,289.2h0M457.3,292.2h0M456.9,386.4h0M456.1,381.1h0M457,372.6h0M455.8,365.3h0M457.3,356.9h0M456.8,352h0M456.3,347.1h0M456.2,341.8h0M457.5,338.3h0M457.4,333.8h0M457,331.1h0M457.4,328.1h0M456.6,324.8h0M458.5,256.9h0M458.6,260.7h0M457.8,266.3h0M458.5,274.7h0M458.2,280h0M459,283.9h0M458.7,287.6h0M458,290.6h0M458.4,294.7h0M458.8,383.5h0M458.5,377.6h0M458.4,372h0M458.7,366.8h0M458.6,361.9h0M457.8,356.2h0M458.2,352.1h0M457.5,348.6h0M458.6,344.9h0M459.3,342h0M458.1,338.8h0M457.6,334.9h0M457.6,331.6h0M457.7,327.8h0M461.1,263.1h0M460.2,266.7h0M460.1,275h0M460.5,283h0M459.8,286.1h0M459.6,289.9h0M459.5,293.2h0M459.7,296h0M460.7,388.4h0M460,382.6h0M459.7,371.5h0M459.7,365.9h0M459.6,358h0M459.5,353.8h0M460.1,349.3h0M460.7,345.5h0M460.8,341.4h0M460.1,337.3h0M460.5,334.5h0M460.1,330h0M459.3,326.9h0M462,274h0M461.9,278.3h0M462.5,286.3h0M461.3,291.4h0M462.7,294.8h0M462.4,297.7h0M462.7,395.9h0M461.3,392.5h0M462.6,388.4h0M462.5,385.1h0M461.8,378.4h0M461.5,372.8h0M462.8,366.8h0M462,362.5h0M461.5,358.1h0M462.1,355.1h0M462.8,352.5h0M461.2,349.7h0M462.7,345.6h0M462,341.7h0M462.7,337.8h0M461.7,333.3h0M462.7,329.2h0M463.5,271h0M463.2,273.3h0M463.9,284.1h0M463.3,290h0M464.7,295.1h0M464.5,298.7h0M463.4,405.4h0M464.3,398.8h0M463.1,390.5h0M463.2,385.4h0M463.8,378h0M464.6,373.3h0M464.6,368.7h0M464,364.7h0M463.6,359.5h0M464.2,355.8h0M464.3,352h0M463.8,348.1h0M463.1,344.3h0M464.5,341.7h0M463.1,338h0M463.6,333.4h0M463,330.2h0M466.1,264h0M466.1,270.6h0M466.1,280.2h0M466.3,287.1h0M464.9,291.8h0M464.7,294.6h0M464.9,297.7h0M465.2,302.4h0M466.2,304.9h0M466.3,419.4h0M466,417.3h0M466.5,411.8h0M466.5,405.1h0M464.9,400.8h0M464.8,391h0M465,385.7h0M465,381.5h0M465,375.3h0M465.2,370.3h0M465,365.4h0M465.6,361.2h0M465.5,357.8h0M464.9,354.7h0M464.7,351.2h0M466.1,347.4h0M466.3,343.4h0M465.3,339.9h0M465.9,337.4h0M466.5,258.3h0M467.4,263.3h0M467.2,269.8h0M466.8,278.3h0M468,284.9h0M466.7,289.6h0M466.5,294h0M467.7,297.2h0M467.1,300h0M467,303.6h0M467.4,408.9h0M467.6,402.3h0M468.2,392.5h0M467,382.6h0M468.3,377.4h0M468,373.2h0M467.7,370h0M467.6,363.8h0M468.2,360.4h0M467.1,355.9h0M467.7,352.5h0M467.6,348.7h0M468.1,345.5h0M467.5,342.4h0M467.7,338.1h0M467.2,335.4h0M469.1,278.3h0M468.3,281.9h0M468.9,287h0M469.8,291.2h0M469.2,297.8h0M469.7,303.1h0M469.7,402.1h0M469.6,396.4h0M468.7,391.2h0M469.5,382.5h0M468.4,376.5h0M468.8,369.9h0M468.3,365.2h0M468.4,360.2h0M469.5,355.9h0M468.3,352.9h0M470,348.4h0M469.2,344.5h0M468.6,340.2h0M468.9,337h0M468.5,332.6h0M471.2,283.1h0M470.9,284.5h0M470.4,296.2h0M470.9,298.8h0M471.6,302.8h0M471.8,402.3h0M470.6,399.6h0M470.5,395.7h0M470.2,391.1h0M471.2,385.7h0M471.1,381.7h0M471.2,378.4h0M471.5,373.1h0M471.4,368.8h0M470.3,365.6h0M471.1,360.9h0M470.6,356h0M471.2,352.7h0M470.4,347.7h0M470.8,344.8h0M471.7,341.6h0M470.3,337.4h0M471.9,333h0M472.2,282.6h0M473.6,287.1h0M473.3,292.4h0M472.9,296.7h0M472,301.6h0M473.7,408.5h0M472.2,404.3h0M473.3,397.9h0M472.2,390.3h0M472.3,384h0M472.1,380.4h0M472.8,377.6h0M472,371h0M472.3,366.5h0M472.5,360.5h0M472.3,356.4h0M472.3,352.9h0M472.4,349.1h0M472.1,344.4h0M473.1,341.6h0M472.8,338.4h0M473.4,334.4h0M472.9,330.5h0M474.2,286.2h0M475.1,287.3h0M475.2,298.5h0M475.1,302.4h0M474.9,414h0M474.2,407.2h0M475.2,403.2h0M473.9,393.9h0M474.6,387.2h0M475.4,381.8h0M474.7,377.2h0M474.7,371.5h0M474,367.8h0M474.8,364.3h0M473.8,359.2h0M473.9,355.4h0M474.2,351.6h0M474.6,348.3h0M474.5,345.1h0M475.2,340.5h0M474.3,336.3h0M475.1,331.8h0M477.3,288h0M475.8,290.7h0M477.1,383.8h0M476.9,382.5h0M477.1,371.4h0M476.8,364.4h0M476.9,359.2h0M475.8,355.2h0M477,349.3h0M476.3,345.7h0M477.1,341.2h0M475.8,337.4h0M475.5,334h0M477.2,330h0M478.7,285.2h0M478.3,287h0M477.6,291.9h0M477.4,370.6h0M477.8,369.1h0M478,363.7h0M477.8,358.5h0M477.5,352.6h0M478.2,345.6h0M478.7,340.1h0M477.8,336.5h0M478.2,331.8h0M478.8,327.8h0M480.5,275.4h0M479.4,279.1h0M480.5,285.7h0M480,289.9h0M480.8,369.7h0M480.3,363.7h0M479.6,357.9h0M480,352.9h0M480.6,347.6h0M479.4,342.9h0M480,338.9h0M480.2,333.1h0M480.5,329.5h0M480.8,324.7h0M480.2,321.3h0M482.4,264.1h0M481.7,266h0M482.7,272.7h0M481.8,279.6h0M481.1,282.6h0M481.9,285.8h0M482.3,381.2h0M482.4,380.1h0M482.1,372.5h0M482.6,368.9h0M481.3,361.8h0M481.7,356.9h0M481.7,353.5h0M481.5,348.7h0M482.2,343.4h0M482.6,338.8h0M481.2,334.6h0M481.8,329.8h0M481.7,327h0M482.4,322.8h0M482.1,319.2h0M482.3,316.7h0M484.1,257h0M483.2,261.4h0M483.6,267.6h0M483.9,272.6h0M483.8,277.2h0M482.8,279.7h0M484.1,282.7h0M484.3,369.2h0M483.1,366.2h0M483.5,359.1h0M482.9,350.9h0M483.2,344.3h0M483.7,338.9h0M483.6,333.7h0M483,330h0M483.2,326.1h0M483.5,321.6h0M483.9,317.6h0M484.7,253.5h0M485.8,260.1h0M486,268.9h0M486.1,275.4h0M486.2,279.6h0M485,284.1h0M485,362.6h0M484.9,360.5h0M484.6,355.6h0M486,351.2h0M486,343.8h0M486,338.7h0M485.3,334h0M485.5,329.5h0M484.9,324.6h0M485.7,320.7h0M485.9,316.1h0M486.4,256.5h0M487.8,260h0M487.4,266.6h0M486.8,273h0M487.9,275.9h0M486.7,279.5h0M486.7,282.1h0M486.8,285h0M487.1,365.3h0M486.5,360.7h0M487.1,354.2h0M486.4,345.2h0M487.7,340.6h0M487.6,335.6h0M488.1,331.7h0M487.3,327.6h0M487.1,323.1h0M487.2,318.9h0M487.4,315.7h0M489.9,250.1h0M489.7,256.3h0M488.6,261.4h0M488.2,266.3h0M488.8,270.1h0M488.6,273.2h0M489,277.1h0M488.5,280.6h0M489.5,283.4h0M488.3,286.6h0M489.4,365.7h0M489,359.4h0M488.7,349.9h0M489.4,343.9h0M488.1,339.9h0M489.3,336.2h0M489.8,332.7h0M489,328.3h0M489.3,324.7h0M489,320.4h0M490.3,253.1h0M490.3,254.5h0M490.4,259h0M490.2,268.4h0M490.3,275.2h0M491,278.9h0M490.3,284.2h0M491.2,287.2h0M490,289.9h0M490,370.2h0M491,365.6h0M490.4,358.7h0M490.9,353.5h0M490.8,347.1h0M490.6,342.7h0M490.9,337.9h0M491,332.5h0M490.8,329.4h0M490.4,326.3h0M490.7,322.7h0M492.3,256h0M493.3,261h0M492.9,267.5h0M493.4,272.9h0M492.9,278.1h0M492.6,282.2h0M493.4,285.5h0M493.4,289.1h0M493.1,374.8h0M492.3,370.6h0M493.1,360h0M491.9,352.7h0M492.3,347.7h0M492.2,342.5h0M493.4,336.8h0M493.4,331.9h0M492.1,327.5h0M492.8,324.9h0M492.8,320.8h0M494.2,257.5h0M494.2,259.5h0M494,267.2h0M494.2,276.1h0M493.6,279.2h0M494.9,284h0M495.3,289.1h0M494.6,291.9h0M494.4,377.2h0M495,373.8h0M493.5,365.8h0M494.2,357.7h0M494.5,353.9h0M494.9,349.9h0M494.1,343.5h0M493.6,338.8h0M493.7,334.7h0M493.9,330.8h0M494.5,327.9h0M494.7,324.5h0M495.3,321.1h0M495.6,258.7h0M496.4,265.2h0M496.7,272h0M495.6,277.8h0M496.6,281.2h0M495.6,285.8h0M495.8,288.8h0M497.1,292.2h0M495.5,385.3h0M496.4,383.4h0M495.8,371.4h0M496.6,365.7h0M496.1,360.7h0M495.4,355.7h0M495.8,351.6h0M496.5,348.1h0M496.7,342.8h0M496.3,337.6h0M496.6,333.6h0M496.8,330.5h0M495.5,326.4h0M497.9,254.3h0M497.9,257.9h0M497.6,268.7h0M497.3,275.6h0M497.4,281.1h0M497.5,284.6h0M497.8,287.5h0M498.9,290.8h0M498.6,380.7h0M497.4,374.3h0M498.2,370.9h0M497.8,366.8h0M498.7,362.7h0M498.2,356.6h0M498.5,353.3h0M497.9,349.5h0M498.3,343.5h0M497.2,339h0M498.8,334.7h0M498.6,330.5h0M498,327.3h0M499.5,254.8h0M500.7,259.9h0M500.1,268.3h0M500.3,273.9h0M499.4,278.6h0M500.3,284.1h0M499.6,286.9h0M499.1,291.5h0M500.1,294.1h0M500.3,373.3h0M499.2,368.8h0M499.9,359.3h0M499.1,352.8h0M499,346.9h0M499.9,342.6h0M500.4,339.5h0M500,335h0M499.8,331.5h0M499.4,328.2h0M500.1,324.8h0M501.7,258.4h0M501.2,262h0M501,270.5h0M502.5,276.6h0M502.2,280.3h0M501.8,284.9h0M501.2,288.6h0M502.2,368.1h0M502.1,365.1h0M502.4,355h0M501.9,349.5h0M502.2,344h0M501.3,339.4h0M501,335.6h0M500.9,331.7h0M501.8,327.8h0M502,325.1h0M501.7,320.8h0M503.5,258.2h0M503.7,263.6h0M502.8,269.8h0M503.3,274.3h0M502.6,280.6h0M502.8,283.8h0M502.7,288h0M503.2,359.7h0M504.1,357.9h0M504.1,350.6h0M503.5,343.1h0M502.7,337.2h0M503.3,332.1h0M503.2,329.2h0M502.7,325.9h0M503.4,321.9h0M504.5,255.8h0M505.8,260.7h0M505.8,270.3h0M505.4,276.2h0M505,280.8h0M505.3,284.5h0M505.5,288.9h0M505.6,359.5h0M505.9,356h0M505.2,347.8h0M504.7,339.9h0M504.6,337h0M505.7,333.1h0M505.5,327.7h0M504.6,323.7h0M505.2,320.7h0M507.3,254.1h0M507.4,256.6h0M507.9,261.2h0M507.5,267h0M507.9,271.7h0M507,276.7h0M507.8,282.3h0M507.1,285.9h0M506.4,288.8h0M506.4,356.7h0M507.8,349.8h0M506.5,341.2h0M506.8,337.3h0M507,333.6h0M507.6,328.9h0M506.3,325.7h0M506.8,322.7h0M507.9,252.7h0M509.2,255.6h0M509.3,261.2h0M508.6,266.4h0M508.1,270.7h0M509.1,275.6h0M509.2,280.3h0M508.7,284.7h0M509.3,288.2h0M507.9,291.5h0M509.1,353.8h0M507.9,348.5h0M508.7,345.7h0M508.9,342.4h0M509.2,337h0M509.1,330.3h0M508.2,327.5h0M507.9,323.4h0M509.2,319.8h0M510,256.7h0M510.7,260.7h0M511.3,268h0M510.3,275.7h0M510.6,280.2h0M511.2,283.2h0M511.1,288.2h0M510.7,291.9h0M510.2,354.2h0M510,347.3h0M511.2,339.4h0M510.1,334.5h0M511,329.7h0M511.2,325.6h0M510.7,322h0M511.9,251.4h0M512.3,258.4h0M513.2,263.5h0M511.9,266.8h0M513.3,273.1h0M512.2,277.1h0M511.8,280.7h0M512.7,283.1h0M511.7,287.4h0M512.1,290.5h0M511.8,350.7h0M512.6,344.1h0M512.7,334.9h0M513,329.1h0M513.1,324.4h0M513.5,268.5h0M513.9,271.8h0M514.6,276.7h0M514.7,281.7h0M515,284.9h0M513.3,289.4h0M514.6,353.5h0M513.4,348.6h0M514.9,342h0M513.9,335.1h0M514.5,330.3h0M513.6,325h0M514.8,322h0M516.2,276.4h0M516.1,282.4h0M516.7,287.6h0M515.8,347.5h0M515.6,343.3h0M515.7,339.2h0M516.4,333.4h0M515.5,328.3h0M515.8,324h0M515.5,319.7h0M518.1,267.7h0M518.4,270.2h0M518.5,276.2h0M518.4,281.2h0M518.1,285.7h0M518,346.6h0M517.4,345h0M516.9,336.1h0M516.9,331.7h0M517,326.6h0M517.3,322.2h0M517,317.8h0M520,258h0M518.7,263.3h0M519.9,268.9h0M520.1,273.2h0M519.5,278.9h0M519.5,282.7h0M519.9,343.4h0M518.7,341.8h0M518.8,336.7h0M519.7,330.9h0M518.9,324.2h0M519.7,320.2h0M519.3,316.1h0M521.5,256.9h0M520.6,263.8h0M521.2,269.3h0M522.1,272.8h0M521.2,276.7h0M520.9,280.3h0M521.9,345.1h0M520.6,342.9h0M520.9,333.2h0M521.8,326.1h0M520.9,321.1h0M521.5,318.1h0M521.8,314.8h0M523,253.5h0M523.3,256.8h0M522.7,261.1h0M523.3,264.1h0M523.6,268.5h0M524,273h0M523.6,276.1h0M523.5,279.3h0M522.8,343.4h0M522.5,340.2h0M522.6,330.7h0M523.2,326.9h0M523,321.4h0M524,317.2h0M523.6,312.5h0M525.7,247.3h0M525.2,248.5h0M525.1,253h0M524.1,261.2h0M524.8,267.6h0M524.1,272.9h0M524.3,277.4h0M525.9,280.4h0M524.6,283.4h0M525.2,342.6h0M525,340.6h0M524.2,332.4h0M524.8,327.1h0M524.5,323.4h0M524.3,320h0M524.6,316.4h0M527,251.5h0M527.2,254.3h0M526.6,262.9h0M526.1,267.3h0M527.2,271.4h0M526.9,274.4h0M526.9,277.4h0M526.9,337.6h0M527.4,331.3h0M526.2,326.3h0M527.4,322.1h0M526.8,316.4h0M526.3,312.2h0M527.9,257.1h0M527.8,258.9h0M529.2,264.7h0M528.6,270.2h0M528.9,339.8h0M528.8,337.2h0M529,330.2h0M529.4,322.7h0M528.4,316.7h0M529.1,312.7h0M527.7,309.2h0M528.5,304.6h0M531.2,245.4h0M529.7,249h0M530.3,258.2h0M529.8,261.7h0M530.5,335.4h0M529.5,332.8h0M530.1,323.5h0M530.9,318.2h0M530.1,313.4h0M530.5,308.9h0M530.1,303.4h0M530.7,299.7h0M530.3,295.7h0M532.5,232.9h0M531.7,237.4h0M531.6,246.1h0M532.9,251.2h0M532.3,254.2h0M532.8,333.3h0M531.4,332.3h0M531.6,328.6h0M531.9,319.2h0M533,314.7h0M532.4,309.7h0M531.5,305.1h0M532.7,301.1h0M531.8,297.2h0M531.5,293.9h0M531.5,291.1h0M532.8,288h0M534.4,219.8h0M533.9,222.5h0M533.9,231.1h0M533.3,237h0M533.4,242h0M534.2,245.8h0M533.7,250.6h0M533.4,255h0M533.9,316.1h0M533.8,314.9h0M533.4,304.4h0M534.2,299.8h0M534.5,293.7h0M534.5,290.1h0M534.5,287.1h0M534,282.4h0M536.3,208.2h0M535.4,209.3h0M535.9,218.7h0M536.4,221.6h0M536.7,227.3h0M535.5,232.4h0M536.1,235.9h0M536.2,239.9h0M535.2,243.4h0M536,247.1h0M536.1,305.6h0M535.1,304.1h0M535.3,294.5h0M535.7,289.7h0M535.7,285h0M535.9,281.1h0M536.5,277.4h0M537.1,205.8h0M538.2,207.5h0M536.8,211.8h0M537.4,216.3h0M538.4,224.2h0M538.4,231.1h0M537.8,234.2h0M537.7,238.9h0M537.4,243.2h0M537.9,246.6h0M538,251.1h0M536.9,253.6h0M536.7,297h0M538.1,290.2h0M537.7,286.1h0M537.6,280.1h0M538.3,276.4h0M539.2,219h0M539.4,221.7h0M538.6,228h0M539.8,234.6h0M539.5,238.6h0M539.2,242.5h0M539.5,248.3h0M539.3,252.1h0M540.2,255.8h0M538.5,285h0M539.5,282h0M540,275.2h0M541.6,243.7h0M540.4,245h0M540.9,252.4h0M540.6,256.5h0M541.7,288.8h0M541.6,285.5h0M541.1,280.7h0M540.6,277.3h0M542.8,255.2h0M543.4,256.9h0M542.9,288.9h0M543.1,284.5h0M542.6,280.8h0M544.1,290h0M546.4,293.8h0M548.7,290h0M550.2,252.8h0M550.6,256.3h0M550.6,289.1h0M552.4,255.4h0M552.2,286.3h0M553.6,257.2h0M555.3,256.7h0M555.5,261.3h0M557.5,260.9h0M559.5,266.1h0M559.5,292.4h0M559.2,288.6h0M560.5,289.3h0M565.1,263.2h0M564.5,265.7h0M565,289.7h0M564.4,287h0M565.9,257.4h0M566.8,261.8h0M566.6,264.9h0M566.2,287.7h0M566,284.6h0M566.8,280.5h0M567.6,250h0M567.9,259.7h0M567.8,280.9h0M570.1,245.5h0M569.5,275.5h0M570.3,272.5h0M571.8,242.2h0M571.8,244.9h0M571.7,248.5h0M572,270.5h0M571.3,266.3h0M573.9,238.8h0M573.4,243h0M573.5,267.9h0M574.1,264.5h0M575,237.9h0M574.9,264.3h0M577.5,234.6h0M577.6,237.2h0M579.1,231h0M578.8,235h0M579,263.1h0M581.3,225.5h0M581.1,229.8h0M581.3,262.1h0M582.1,223.5h0M582.4,228.4h0M584.4,222.5h0M584.5,259.6h0M585.8,221.4h0M586.6,258h0M586.7,255.2h0M587.9,216.4h0M588.6,256.4h0M589.7,219.2h0M591.4,217.6h0M591.1,255.5h0M593.2,217.3h0M593.8,255h0M595.3,214.6h0M594.8,258h0M597.5,212.5h0M596.6,260h0M599.2,209.1h0M599.4,212.9h0M598.5,216.3h0M598.3,269.2h0M600.8,202h0M600.1,205h0M600.7,207.5h0M600.1,216h0M600.3,218.6h0M600.4,281.4h0M601,277.1h0M600.2,273.2h0M600.3,270.5h0M600.1,261.7h0M602.3,216.5h0M602.9,221.5h0M602.7,288h0M602.8,283.3h0M601.9,279.8h0M602.6,276.6h0M601.8,272.5h0M601.8,265.2h0M604.2,297h0M603.8,292.3h0M604.6,289.7h0M604.6,287h0M604,283.6h0M604,280.9h0M604.2,271.5h0M606.4,220.7h0M606.5,289h0M606.3,286.5h0M606.4,283.6h0M606,280h0M607.3,213.5h0M607.2,220.7h0M607.3,286.2h0M608.1,278.8h0M607.8,275.9h0M609.4,207.5h0M609.8,210.9h0M609.8,214.2h0M610.2,217h0M609,220.7h0M610,280.3h0M609.2,274.2h0M611.5,204.8h0M611.8,208.2h0M611.8,215.3h0M611.9,274.6h0M612.7,202.6h0M613.2,207.5h0M613.2,211.3h0M614.5,201.9h0M615.4,273.5h0M617,198.2h0M617.3,200.8h0M617.1,210.1h0M616.4,217.9h0M616.4,279.2h0M616.8,276.3h0M616.8,271.6h0M618,198.3h0M618.6,200.9h0M618,204.4h0M618.7,208.2h0M618.1,211.3h0M618.6,214h0M618.2,220.4h0M618.5,223.6h0M618.4,228.5h0M618.9,232.2h0M618.8,278.3h0M620,191.9h0M620,196.7h0M620.7,201.3h0M620.9,204.1h0M620,207.3h0M620.1,210.5h0M620.8,217.1h0M620.7,221.8h0M620.8,226.3h0M620.8,229.4h0M620.9,235.7h0M620.5,242.2h0M620.4,246.3h0M620.6,283.9h0M621,280.1h0M620.2,275.7h0M622,222.3h0M622.1,231.9h0M622.1,235.6h0M622.1,239.9h0M622.5,243.9h0M622,248.8h0M622.1,283.4h0M624,237.3h0M623.7,241h0M623.5,245h0M623.4,247.9h0M624.4,287.9h0M623.7,285.2h0M623.5,280.4h0M625.4,287.6h0M627.1,244.8h0M627.7,249.2h0M627.9,292.4h0M627.5,288.8h0M627.5,286.1h0M628.9,238.4h0M629,245.4h0M628.9,250.1h0M629.4,253.2h0M629.2,257h0M629.7,290.9h0M631.3,225.6h0M631.7,230.2h0M631.2,237.1h0M630.9,241.3h0M630.9,248.6h0M631.2,252.6h0M631.3,261.7h0M633.6,251.3h0M633.3,254.6h0M632.4,259.2h0M632.6,262.7h0M633.3,271.4h0M632.4,274.3h0M633,307.2h0M632.9,304.2h0M632.6,299.3h0M633.4,288.1h0M634.8,261.6h0M635,271h0M634.6,275.6h0M634.7,278.2h0M634.6,280.7h0M635,336.2h0M635.2,330.7h0M635,320.3h0M634.7,315.8h0M634.6,312.1h0M634.4,309.1h0M634.7,304.8h0M634.4,302.1h0M634.3,299.6h0M635.2,294.8h0M636.2,265.9h0M636.9,270.4h0M637.2,272.9h0M636.5,275.4h0M636.6,278.7h0M636.8,281.7h0M637,285h0M636.7,289.3h0M637.1,293.2h0M636,296.2h0M636.5,300h0M636.4,309.2h0M636.3,316h0M636,372.6h0M636.1,370h0M636.8,357.7h0M636.2,354.3h0M636.2,349.4h0M636.2,346h0M636,342.7h0M636.3,337.8h0M636.2,333.4h0M636.7,330h0M636.6,323.3h0M638.6,277.8h0M638.6,281.8h0M638.2,284.5h0M638.8,288.3h0M638.5,291.6h0M638.2,399.9h0M639,396.4h0M638.2,392h0M638,385.9h0M638.7,381.8h0M638.2,377.8h0M638.3,374h0M637.9,370.5h0M638.3,367.4h0M638.9,363.3h0M638.8,359.7h0M637.8,343.6h0M638.2,335.9h0M638.9,332.6h0M638.3,322h0M638.6,317.4h0M638.6,313.1h0M638.2,309.4h0M640.7,282.5h0M640.4,288.1h0M640.1,292.3h0M640.1,388.2h0M639.7,383.9h0M640.1,380.3h0M640.3,377h0M640.3,372.1h0M639.8,364.9h0M640.7,360.9h0M640.5,358.3h0M640.2,354.6h0M639.7,351.4h0M640.8,342.2h0M639.9,338.2h0M640,334.2h0M640,330.7h0M640.2,328.2h0M641.8,371.2h0M642.6,368.1h0M642.1,354h0M642.2,351.2h0M641.6,348.4h0M641.5,340.7h0M641.4,338h0M641.5,332h0M641.6,327.4h0M641.6,323.7h0M641.9,315.7h0M644.2,337.8h0M644.3,333.2h0M643.8,330.3h0M644.4,322.1h0M644.2,317.3h0M644.2,314.1h0M645,287h0M645.2,323.1h0M645.8,319h0M645.6,315.1h0M645.9,310.1h0M647.2,279.4h0M647.3,283.8h0M647,287.2h0M647.4,310.8h0M647.5,307.1h0M649.6,281.4h0M651.5,283.4h0M651.4,287h0M652.8,285.4h0M652.7,288.5h0M653.3,305.3h0M654.6,290.2h0M654.3,317.5h0M654.6,312.7h0M655.8,291h0M655.9,293.7h0M656.6,330h0M657,325.2h0M656,321.5h0M656.5,317.4h0M656.1,313.8h0M656.8,311h0M656,308.4h0M658.2,296.2h0M658.4,346.7h0M658.1,342.2h0M658.2,338.7h0M658.5,334.5h0M658.6,327h0M658.4,322.9h0M657.6,318.8h0M658.8,316h0M659.5,295.7h0M660.6,373.8h0M659.8,369.6h0M660.2,365.9h0M660.5,363.1h0M660.1,359.6h0M660.4,353.6h0M660.1,348.9h0M660.4,341.7h0M660.2,334h0M659.5,330.1h0M660.5,326.5h0M659.7,322h0M661.8,301.6h0M661.2,308.5h0M661.3,312.1h0M662.2,319.7h0M661.9,322.9h0M661.8,327.4h0M661.7,330.1h0M661.7,362.9h0M662.4,358.3h0M661.3,353.5h0M661.2,351h0M662,348.1h0M661.8,343.5h0M661.9,340.5h0M661.8,336.6h0M663.6,301.1h0M663.6,303.9h0M663.8,307.8h0M663.5,311.4h0M664,315.2h0M664,318.5h0M663.6,348.2h0M663.3,344.1h0M663.8,340h0M663.9,336.8h0M663.6,334.2h0M663.7,329.4h0M665.3,279.8h0M665.6,282.5h0M665.9,286.7h0M665.2,289.9h0M665.8,294.1h0M665.4,322h0M666,319.1h0M665.2,306.4h0M667.4,257.1h0M667.1,261.5h0M666.9,265.2h0M667.5,268.4h0M667.2,277.3h0M666.9,300.8h0M667.5,297h0M667.6,290.6h0M667.5,288h0M667.6,281.8h0M669.3,247.8h0M669.6,252.2h0M668.7,259.6h0M669.4,262.3h0M668.8,265.7h0M668.5,268.9h0M669,273.4h0M669,278.1h0M668.8,291.2h0M669.2,287.4h0M669.6,284.6h0M671.4,236.4h0M670.2,240.5h0M670.9,244.1h0M670.9,247.6h0M671.2,251.1h0M670.7,254.5h0M671.1,262.1h0M670.6,274.5h0M673,243.5h0M672.1,250.8h0M674.9,248.9h0M674,253h0M673.8,286.7h0M676.4,292.4h0M676,285.1h0M678.3,289.7h0M679.8,253.4h0M681.1,251.8h0M681.6,292.9h0M683.9,253.8h0M682.9,257.5h0M683.8,261.6h0M683.1,297.3h0M683.5,292.5h0M685.4,256.7h0M684.6,260.2h0M685.2,264.4h0M684.9,267.6h0M685.3,272.4h0M685.3,303.3h0M684.8,297.2h0M685.3,293.3h0M686.6,263.5h0M686.4,274.1h0M687.2,308.4h0M687.2,305.7h0M686.4,302.6h0M686.7,299.5h0M688.3,275h0M688.7,310.3h0M691,317h0M690.2,313.7h0M690.2,310.3h0M692.3,275.5h0M692.1,312.6h0M694.1,271.7h0M694,312.3h0M695.9,264h0M696.1,268.9h0M696.1,273.8h0M698.2,269.9h0M697.8,313.5h0M699.2,274h0M699.8,278.4h0M699.6,317.5h0M700.2,314.7h0M701.1,280.4h0M701.6,286.6h0M701.3,320.3h0M700.9,315.8h0M702.9,285.1h0M702.8,325.3h0M704.6,293.6h0M704.7,296.2h0M705.3,330.4h0M705.6,326.9h0M705.5,322.8h0M706.7,295.5h0M707.3,337.3h0M707.3,333.7h0M706.4,329.5h0M708.2,338.6h0M708.8,334.9h0M708.9,332.3h0M712.6,342.7h0M714.1,286.8h0M714.1,291.4h0M713.6,294.1h0M713.7,340.1h0M715.5,273.8h0M716,279h0M716.1,283.8h0M715.5,291.2h0M716.2,346.1h0M715.9,343h0M717.2,273.2h0M717.3,277.8h0M717.6,280.4h0M717.4,282.9h0M718.8,271.6h0M719.4,274.4h0M719.6,277.3h0M719.4,280.4h0M719.6,283.1h0M721.3,273.4h0M721.8,345.5h0M720.7,340.6h0M723.4,268.6h0M723.6,271.3h0M722.7,274.1h0M722.6,278h0M723.1,364.3h0M723.2,360.4h0M723.2,357.2h0M722.8,354h0M722.5,350.2h0M723.4,343h0M725.3,278.9h0M724.8,283h0M724.5,285.8h0M724.7,289.5h0M725,372.1h0M724.8,369h0M724.4,364.2h0M724.8,361.5h0M725.4,358.4h0M725,355.2h0M725.1,350.2h0M725.4,346.8h0M724.9,342.9h0M725.2,339.6h0M724.9,335.4h0M726.9,284.9h0M726.4,287.5h0M726.1,386.1h0M726.4,381.6h0M727.2,370.6h0M727.2,366.5h0M727,361.6h0M726.5,352.6h0M726.6,349.5h0M726.3,330h0M726.8,327.3h0M726,322.4h0M729,288.8h0M728.6,292h0M728.1,366.8h0M728.8,363.8h0M728.6,356.8h0M728.8,353.9h0M728.6,350.1h0M728.9,339h0M727.9,335.4h0M727.9,320.4h0M730.1,333.4h0M730.6,329.4h0M730.7,325.8h0M729.9,318.3h0M732,290h0M734,291.8h0M735.6,288.9h0M735.6,312.2h0M737.5,289.3h0M737.7,312.2h0M742.9,310.9h0M746.8,311.1h0M748,290.3h0M753.5,311.2h0M764.9,291.5h0M765.8,291.3h0M769.4,291.1h0M769.3,310.8h0M775.4,291.3h0M777.5,310.6h0M780.6,310.8h0M786.5,291.5h0M789,291.8h0M799.9,311.6h0M804.4,310.3h0M806.4,310.4h0M807.9,246.6h0M807.3,250.9h0M807.3,258.5h0M807.7,268.9h0M807.8,271.6h0M808,274.3h0M808,278.6h0M807.2,284.9h0M807.8,292.6h0M809.1,217.9h0M809.7,235.1h0M809.2,239h0M809.7,241.7h0M809.2,245.6h0M809.3,250.6h0M809.7,254.7h0M809.9,258.5h0M809,265.5h0M809.9,269.8h0M809.1,277h0M809.4,281.9h0M809.5,286.1h0M810,290.1h0M809.8,317.1h0M809.6,313h0M809.2,310.3h0M811.4,199.1h0M811.2,207.9h0M811.4,211.1h0M810.6,215h0M811.8,219.1h0M811.5,224.1h0M811.1,227.5h0M810.9,235.7h0M811.2,243.6h0M811.5,248.6h0M811.7,258.6h0M811.6,262h0M811.2,265.5h0M811.1,270h0M811.5,273.4h0M810.8,282.4h0M810.8,287.4h0M811.5,326.5h0M810.8,323.9h0M811.7,320.3h0M811.5,317.3h0M813.4,187.1h0M812.9,191.5h0M813.5,194.7h0M813.1,197.5h0M813.4,201.5h0M812.7,208.4h0M813.2,218.1h0M813,222.8h0M813.2,227.3h0M813,230.4h0M812.9,233.5h0M813.5,237.4h0M813,241.9h0M813,244.5h0M813.1,333.8h0M812.8,326.8h0M813.3,322.2h0M812.8,319.1h0M813,314.8h0M812.9,311.8h0M814.9,178.4h0M814.5,186.9h0M814.2,190.5h0M815.1,195.3h0M814.4,197.8h0M814.5,209.3h0M814.2,213.6h0M814.1,336.3h0M814,333.9h0M814.5,326.4h0M814.8,320.3h0M815.6,315.4h0M816.6,172.4h0M816.8,178.4h0M817.1,181.8h0M817.1,187.5h0M816.5,193.9h0M816.4,343.1h0M816.8,338.1h0M817,331h0M816.8,325.2h0M816.8,320.7h0M816.9,316.8h0M815.8,312.6h0M818.6,148.4h0M817.8,152.9h0M818.6,156.4h0M818.5,159.3h0M818,169h0M818.1,172h0M818.6,179h0M818.8,183.5h0M818.1,339.7h0M817.9,334.2h0M818.4,330.3h0M819.3,325.8h0M817.8,321.9h0M817.6,316.8h0M818.3,313.9h0M820.7,114.7h0M820,120.8h0M820.1,128.7h0M820,135.1h0M820.7,140.6h0M820,145.3h0M820.8,148.1h0M819.9,151.5h0M820.3,154.4h0M819.8,157.2h0M820.5,160.3h0M819.9,164.8h0M820.5,167.8h0M820,171.8h0M820.1,174.6h0M821,338.4h0M820.2,334.2h0M819.4,327.3h0M820.8,321.9h0M819.6,318.1h0M819.3,314.2h0M820.7,310.4h0M821.6,172.9h0M822,178.7h0M821.3,334.9h0M821.5,330.3h0M821.4,320.8h0M822.7,316.3h0M821.4,312.2h0M823.5,178.5h0M824.3,335.5h0M824.5,334.1h0M823.1,325.8h0M823.1,318.8h0M824.7,315.7h0M823.9,312.3h0M825.5,178.2h0M826.2,334.3h0M826.2,332h0M825.9,325.1h0M826.1,321.8h0M826.4,317.8h0M825.3,313.6h0M828,180.2h0M827.4,188.1h0M826.9,341.5h0M827.8,337h0M827.6,328.7h0M828,324.6h0M827.1,319.8h0M826.5,315.3h0M829.7,179.4h0M829.3,183.8h0M829.3,187.3h0M829.6,190.2h0M829.3,194.2h0M829,197.3h0M828.7,201.2h0M829.2,206h0M829.7,333.6h0M828.7,332.1h0M828.9,325.1h0M829.7,320.6h0M830,314.7h0M830.6,182.6h0M830.6,187.4h0M830.6,194h0M830.5,198.1h0M831.2,202.3h0M830.8,206.7h0M831.4,209.9h0M831.1,330.4h0M831.5,327.7h0M830.1,323.6h0M830.1,318.9h0M830.8,313.5h0M833,194.9h0M833.3,199h0M832.9,203.7h0M832.6,208h0M833,212.1h0M832.9,326.5h0M832.1,325.2h0M832.1,317h0M832.5,313h0M833.4,309.7h0M834.6,207.6h0M835,210.6h0M834.6,214.7h0M834.6,217.4h0M834.8,324.9h0M834.5,323.3h0M833.8,312.7h0M836.1,215.3h0M837,333.1h0M837.2,331.8h0M836.3,323.9h0M836.2,319.7h0M837,315.6h0M836.9,311.9h0M838.3,215.6h0M838,342.3h0M837.5,335.9h0M838.2,329.9h0M838.8,324.1h0M837.4,319.1h0M839,315.1h0M838.9,312.4h0M840.6,352.3h0M839.2,351.1h0M839.9,347.5h0M840,336h0M839.4,331.5h0M840.7,327.1h0M840.1,322.3h0M839.5,318.5h0M839.6,314.1h0M840,309.7h0M842.6,342.4h0M842,337.1h0M842.4,329.6h0M842.4,324.6h0M841.3,321.3h0M841.6,317.8h0M842.3,313h0M841.3,309.5h0M843.6,215.5h0M843.2,339.2h0M843.5,332.6h0M843.5,323.5h0M843.8,318.7h0M842.8,314.4h0M843.9,309.7h0M843.1,306.4h0M846,186.3h0M845.6,188.9h0M845.3,192.6h0M844.9,200.6h0M845.8,208.5h0M845.4,211.8h0M845.3,333.9h0M845.9,331.4h0M845.9,327.9h0M845.1,325.2h0M844.8,320.3h0M845.5,317.2h0M845.9,312.9h0M845.9,308.8h0M845.1,305.9h0M845.4,302h0M845.3,291.1h0M846.9,150.6h0M846.7,157.8h0M847.1,160.4h0M846.6,164h0M846.7,167.4h0M847.2,178.3h0M846.8,183h0M847.7,187.7h0M846.8,190.6h0M847.7,198.5h0M846.6,203.1h0M846.7,211.2h0M847.4,215.2h0M846.7,218.7h0M847.7,326.6h0M847.1,319.6h0M847.2,316.1h0M847,306h0M847.5,301.7h0M846.8,298.9h0M847.8,295.8h0M846.8,293.3h0M846.6,289.3h0M847.4,285.8h0M847.4,283.1h0M847.2,278.9h0M847.6,269.8h0M846.8,264.9h0M847.5,262.1h0M849.1,128.3h0M848.4,132.2h0M848.6,135.6h0M848.6,139.8h0M848.5,142.8h0M849.4,158.8h0M849.4,163.2h0M848.5,166.9h0M849,171.6h0M848.5,174.8h0M849.1,179.4h0M848.7,182.9h0M849.3,191.5h0M848.7,195.7h0M849,200.7h0M848.5,208.7h0M849.6,308.2h0M848.7,303.6h0M848.4,296h0M849.2,288.6h0M848.9,285h0M848.4,281.1h0M849.5,268.8h0M848.7,263.9h0M848.9,256.5h0M850.8,137.6h0M850.4,142.2h0M851.1,146h0M851.3,157h0M851,160.5h0M850.8,163.5h0M850.4,166.9h0M851.4,174.3h0M850.3,183.4h0M850.4,286.8h0M850.5,282.4h0M850.7,274h0M851.2,267.1h0M851.1,263.6h0M850.9,259.2h0M850.9,253.2h0M852.6,152.1h0M852.9,155.2h0M853,158h0M852.5,160.8h0M852.8,165.8h0M852.1,257.4h0M854.5,166.3h0M854,254.2h0M854.4,250.8h0M858.1,164h0M857.7,167.9h0M858.1,249.3h0M859.6,163.4h0M860.3,171.5h0M859.9,174.6h0M859.9,249.8h0M861.2,157.7h0M861.6,166h0M861.5,170.6h0M861.2,178.2h0M861.7,181.6h0M861.3,185h0M861.7,188.6h0M861.9,199.6h0M861.2,203.4h0M862,251.2h0M863.1,169h0M863.2,177.9h0M863,182.9h0M862.8,187.1h0M863.9,190.1h0M862.9,194.8h0M862.9,198.5h0M863.7,202.6h0M863,205.3h0M863.4,208.5h0M863.8,213h0M863.7,251.1h0M865.5,179.3h0M865.4,181.8h0M864.6,184.3h0M864.6,188.2h0M865.3,191.9h0M865.3,196h0M865.6,199.2h0M865.4,203.3h0M865.6,206.5h0M865.2,210.3h0M864.6,213.7h0M864.9,218.6h0M865.2,255.2h0M865.4,252.6h0M866.9,206.3h0M866.9,213.8h0M867.3,221.9h0M867.3,226.8h0M866.9,253.3h0M869,215.3h0M868.4,221.5h0M868.8,229h0M870.5,224.9h0M870.4,229.2h0M870.5,234.2h0M870.4,256.2h0M872.3,233.5h0M871.9,255.9h0M875.6,266.4h0M875.7,260.5h0M878.3,277.1h0M877.6,274h0M877.5,270.4h0M878.3,266.8h0M879.9,234.1h0M881.2,229.7h0M882,234.3h0M883.3,235.3h0M884.8,259.2h0M886.5,258.7h0M888.1,214.7h0M889.1,218.3h0M888.8,222.9h0M888.5,225.4h0M889.1,230.2h0M888.5,233.3h0M888.2,236h0M888.1,259.1h0M890.5,179.5h0M890.7,182.2h0M890.8,187.7h0M889.9,191.9h0M890.1,195.6h0M890.3,198.3h0M890.1,202.2h0M890.1,215.7h0M890,233h0M889.9,237h0M890.1,261.7h0M892.4,153h0M892.4,156.8h0M891.7,160.9h0M892.1,164.4h0M891.7,173.2h0M892.6,178h0M892.7,181.1h0M892.3,184.3h0M892,188.1h0M892.1,192.8h0M891.9,197.3h0M892.7,208.2h0M891.9,217.7h0M892.2,225.8h0M892.4,230.6h0M892.6,233.8h0M892.2,237.9h0M894.1,137.3h0M894.4,140.8h0M893.4,143.5h0M894.4,146.6h0M894.3,150.7h0M894.3,153.9h0M894.3,156.7h0M893.7,167h0M894.2,171.9h0M894.1,176h0M894.2,179.9h0M894.1,187.2h0M893.8,194.4h0M893.6,198.3h0M894.6,202.1h0M893.5,205.3h0M894.1,208h0M893.6,212.2h0M894.5,261.5h0M893.5,258.4h0M895.9,143.6h0M895.7,148.3h0M896.1,152.2h0M895.4,157h0M895.9,164h0M895.7,168.2h0M895.6,172.7h0M895.7,259.1h0M897.1,142h0M897.8,150.4h0M897.4,158h0M897.5,160.6h0M897.5,163.8h0M898.1,167h0M897.6,174.4h0M897.7,264.6h0M897.7,259.7h0M899.9,155.2h0M899.4,160.7h0M899.4,165.2h0M899.6,173.4h0M900,184.5h0M899.7,270.8h0M899.5,263.3h0M901.2,164.1h0M900.9,172.4h0M901.3,175.2h0M901.7,178.9h0M901.5,182.2h0M900.8,184.9h0M901.8,273.6h0M900.7,270.5h0M901.3,267.7h0M900.6,263.9h0M900.8,261.4h0M902.5,178.3h0M902.9,182.5h0M903.6,274.3h0M903.1,271.2h0M902.5,268.7h0M904.4,186.5h0M904.6,189.1h0M904.8,278.2h0M904.5,275.1h0M907,190.2h0M906.1,280.8h0M906.1,276.2h0M909,283.6h0M907.9,280.5h0M907.9,277.1h0M910.3,283.8h0M910.3,280.5h0M912.5,186.7h0M912.5,190.6h0M911.9,288.5h0M913.7,189.7h0M914,192.6h0M913.3,196.6h0M914.1,295.5h0M913.4,291.2h0M914.2,288.1h0M916.2,193.1h0M916,197.5h0M915.9,200.3h0M916.1,204h0M915.1,207h0M915.9,288.4h0M915.7,284.3h0M915.6,280.3h0M917.6,195.6h0M917.8,198.2h0M916.9,209.2h0M917.5,212h0M917.1,214.7h0M917,281.5h0M919.7,199.8h0M919.6,209.9h0M919.5,212.7h0M918.8,216h0M919.7,279.1h0M921.3,211.3h0M921.6,215.7h0M923.3,216.3h0M923.1,220.8h0M923.2,278.2h0M924.4,220.7h0M926.5,224h0M928.1,225.2h0M928.6,279.9h0M930.5,227.2h0M929.5,231.4h0M930.2,287.3h0M929.9,282.5h0M931.3,227.9h0M932.2,231.1h0M931.5,289.7h0M931.6,283h0M933,230.3h0M933.3,235.2h0M933.5,300.1h0M934.1,296.5h0M933.2,293.1h0M933.9,289.6h0M934,285.1h0M933.5,281.9h0M935,234.4h0M935,297.3h0M935.3,294.6h0M935,291.3h0M936.8,297.2h0M939.3,232.8h0M939,237.8h0M940.8,225.1h0M941.3,234h0M940.2,238h0M941.4,295.1h0M942.7,236.7h0M942.4,240.3h0M944.8,242.2h0M943.9,298.2h0M946.5,301.6h0M948,243.9h0M947.6,296.1h0M949.3,295.5h0M950.2,292.4h0M951.1,293.2h0M956.5,242h0M957.1,294.2h0M959.1,295.1h0M960.2,240.7h0M961.2,248.2h0M960.1,296.4h0M960.3,293.7h0M962,245.2h0M962.6,298.6h0M964.2,246.6h0M966.3,298.2h0M969.6,248.4h0M970,296.3h0M971.9,246.4h0M970.9,295.7h0M972.6,243.2h0M973.3,246.8h0M973,301.1h0M973.7,295.9h0M975.2,246.5h0M975,301h0M975.5,298h0M977.4,248h0M977.3,304.7h0M977.2,300h0M978.8,246.9h0M978.2,298.6h0M980.8,248.6h0M981.7,297.8h0M981.7,295.1h0M984.6,307.8h0M983.5,302.2h0M984.4,298.1h0M986.2,247.6h0M985.5,301.3h0M987.4,245.9h0M987.6,249.6h0M987.7,297.4h0M988.9,247.4h0M988.8,295.1h0M991.8,296h0M993.6,240.7h0M993.3,243.6h0M992.8,247.8h0M993.4,250.3h0M994.6,243.4h0M994.3,246.6h0M994.4,250.2h0M994.9,295.8h0M997,246.9h0M996.9,295.8h0M998.6,300.6h0M998.6,297.8h0M999.9,251.6h0M1000.4,299.8h0M1001.5,247.1h0M1002.2,317h0M1001.7,309h0M1002.1,305.6h0M1004.3,253.3h0M1004.2,309.6h0M1003.8,304.9h0M1003.9,302h0M1006,254.1h0M1005.5,257.8h0M1005.5,260.8h0M1005.6,327.3h0M1005.6,323.1h0M1005.8,313.5h0M1005.9,310.8h0M1005.8,306.4h0M1007.6,259h0M1007.6,263.6h0M1007.8,268.6h0M1007.8,338.1h0M1007.1,334.2h0M1007.6,331.1h0M1007.9,326.5h0M1007.6,323.2h0M1007.1,314.9h0M1009.8,260.5h0M1009,265h0M1009.1,268.3h0M1008.7,271.6h0M1009.6,338.4h0M1008.7,334.4h0M1009.7,331.7h0M1009.3,322.8h0M1009.2,318.1h0M1009.4,313.8h0M1011.2,262.8h0M1010.7,274.4h0M1010.5,343.4h0M1010.8,339h0M1012.3,270.2h0M1012.4,276.2h0M1012.3,345.1h0M1012.7,340.8h0M1014.7,351.3h0M1014.1,347h0M1014.7,340.4h0M1016.9,355.4h0M1016.4,347h0M1016.2,343.2h0M1016.2,340.5h0M1016.5,331.8h0M1017.8,345.9h0M1017.6,341h0M1018.1,337.2h0M1018.3,332.3h0M1018,326.8h0M1018.3,322h0M1020,277.3h0M1019.5,335.9h0M1019.6,330.9h0M1019.8,322.8h0M1019.6,319.1h0M1021.5,326.2h0M1021.9,323.5h0M1021.7,314.8h0M1022.1,310.4h0M1023.7,270.2h0M1024,274.2h0M1023.9,319.5h0M1023.8,316.1h0M1023.4,308.3h0M1025.8,261.2h0M1025.9,265.6h0M1025,268.9h0M1025.3,272.4h0M1025.1,312h0M1025.1,308.1h0M1027.8,255.8h0M1027.5,258.4h0M1027.8,261.3h0M1027.4,265.3h0M1027.3,268.7h0M1027.5,272.5h0M1027.4,306.5h0M1029,250.4h0M1028.7,253.2h0M1028.9,266.1h0M1028.6,306.8h0M1030.7,244.1h0M1031.3,249h0M1031.2,253h0M1030.6,256.6h0M1031.3,303.7h0M1032.5,250.2h0M1033.1,252.7h0M1034.2,253.6h0M1036.5,303.9h0M1038.1,248.3h0M1037.9,252.5h0M1038,305.4h0M1039.7,247.1h0M1039.2,251.8h0M1039.7,304.4h0M1041.1,239.5h0M1041,242.3h0M1041.7,246.5h0M1041.9,251.9h0M1043.6,243.8h0M1043.8,308.6h0M1045.3,312.4h0M1046.9,314.9h0M1046.7,310.8h0M1047.1,307.6h0M1048.9,245.8h0M1048.2,317.7h0M1048.9,313.2h0M1050.1,211.8h0M1050.2,221.2h0M1050.5,225.2h0M1051.1,229.1h0M1050.4,238.6h0M1050.8,241.6h0M1050.6,245.9h0M1050.4,248.9h0M1050,252.1h0M1050.5,254.9h0M1050.2,259.4h0M1051.1,264.2h0M1050.3,322h0M1050.4,314.8h0M1051.9,233h0M1052.8,237.9h0M1051.9,241.7h0M1051.9,246.5h0M1052,249.9h0M1052.8,254.4h0M1052.1,257.6h0M1052.7,262.2h0M1052.6,266.3h0M1052.4,269.9h0M1052.9,328.6h0M1052.4,324.8h0M1051.9,320.1h0M1053.8,251.5h0M1054.1,259.4h0M1054.7,264h0M1053.8,332h0M1054.1,327.1h0M1054.3,324.5h0M1054.7,319.9h0M1055.9,268.6h0M1056.6,272.2h0M1055.9,276.5h0M1055.8,287.9h0M1056.1,338.3h0M1055.8,335.3h0M1056.4,330.7h0M1055.9,326.9h0M1057.4,273.8h0M1057.8,281.5h0M1057.6,284.1h0M1058.2,286.8h0M1057.4,346.1h0M1057.8,341.3h0M1057.7,338.5h0M1059.3,284.5h0M1060.2,287.4h0M1059.8,290.1h0M1060.1,347.3h0M1059.4,343.2h0M1059.1,338.8h0M1059.6,335.1h0M1061.9,353.5h0M1061.7,349.3h0M1061,345.2h0M1061.2,340.7h0M1062.7,353.3h0M1063.3,349.9h0M1065,290h0M1064.7,361.5h0M1064.5,358.4h0M1064.5,355.5h0M1065.3,352.7h0M1065.5,348.8h0M1064.9,344.4h0M1065.1,341h0M1065.4,338.5h0M1067.2,289h0M1066.2,354.3h0M1066.5,349.6h0M1067.1,345.4h0M1066.7,342.5h0M1068.3,283.5h0M1068.1,291.6h0M1068.1,348.3h0M1068.7,344.8h0M1068.1,339.9h0M1069.1,336.8h0M1068.3,332.7h0M1068.8,330.1h0M1070.6,276.7h0M1070,283.4h0M1070.8,336.4h0M1070.7,333.6h0M1071,329.7h0M1070.2,326.6h0M1070.3,323h0M1072.2,272.5h0M1072.3,276.2h0M1071.9,284.8h0M1072.7,330.6h0M1073.8,263.7h0M1073.6,267.3h0M1074.6,271.3h0M1074.6,275.8h0M1074.3,279.6h0M1075.7,260.3h0M1076.1,263.9h0M1076.2,319.9h0M1077,257.5h0M1077.3,260.1h0M1077.2,264.9h0M1078.2,268.6h0M1077.6,319.8h0M1077.1,313.7h0M1079.5,252.7h0M1078.9,255.9h0M1079.5,326.2h0M1079.5,321.4h0M1079.8,316.7h0M1081.6,252.9h0M1082.7,252.9h0M1082.7,312.9h0M1084.9,249.5h0M1084.2,252.7h0M1087.1,237.9h0M1086.3,241.6h0M1086.7,245.6h0M1086.2,253.8h0M1088.4,254.2h0M1090.5,311.4h0M1092,315.4h0M1091.4,311.8h0M1091.8,308.9h0M1094.4,254.5h0M1093.5,311.6h0M1095.7,251.7h0M1095.5,308.7h0M1097,249.1h0M1097.8,252.7h0M1099.7,244.1h0M1099,248.6h0M1099.5,252.3h0M1100.7,250.8h0M1102.5,252.2h0M1102.9,258.6h0M1103,262.5h0M1102.8,266.7h0M1102.6,310.5h0M1105.1,255.1h0M1104.4,258.5h0M1104.9,261.3h0M1104.8,265.5h0M1104.9,268.6h0M1105.2,271.5h0M1104.2,311.7h0M1104.3,308.1h0M1106.3,258.2h0M1105.9,262.9h0M1105.9,266.5h0M1106.6,270.6h0M1106.9,274.3h0M1106.7,314.8h0M1106.7,311.5h0M1108,268.3h0M1108.1,270.9h0M1108,275.6h0M1108.7,280.1h0M1108.5,326.5h0M1108.1,321.5h0M1108,317.1h0M1108.6,312.3h0M1109.7,275.4h0M1109.8,278.4h0M1110,282.8h0M1110.6,287.5h0M1109.6,335.8h0M1110.3,331.1h0M1109.7,327.1h0M1110,323.3h0M1110,317.5h0M1111.5,282.3h0M1112.3,288.9h0M1111.6,292.3h0M1112,353.2h0M1112.2,348.4h0M1112.1,343.8h0M1112.2,336.8h0M1111.2,334h0M1111.9,330.1h0M1112.1,325.4h0M1111.6,320.4h0M1112.3,316.6h0M1113,284.7h0M1113.7,291.3h0M1113.3,372.7h0M1113.4,367.8h0M1113.8,358.4h0M1113.5,354.7h0M1113.1,347.5h0M1113.5,344.8h0M1113.2,336.7h0M1113.4,329.6h0M1116,292.5h0M1115,407.3h0M1115.8,404.1h0M1115.5,399.2h0M1115.3,395h0M1115.1,391.1h0M1115,382.5h0M1115,376.2h0M1115.1,371.5h0M1115.5,368h0M1115.8,364.6h0M1114.9,361.2h0M1115.1,357.9h0M1117.7,295.6h0M1117,441.6h0M1117.2,436.7h0M1117.5,432.9h0M1117.4,428h0M1117.5,420.2h0M1117.8,415.7h0M1117.3,408.6h0M1117.7,398.1h0M1117.4,395.3h0M1116.7,386.9h0M1116.6,370.6h0M1117,362.5h0M1116.8,357.6h0M1119.4,445h0M1119.2,441h0M1119.1,437.9h0M1119,432.9h0M1118.4,428.2h0M1118.6,425.7h0M1118.9,419h0M1119.2,416h0M1119.5,412.8h0M1119,410.2h0M1119.1,405.3h0M1119,402.7h0M1118.7,399.9h0M1118.9,395.6h0M1119,391.6h0M1119.5,386.7h0M1119.3,384.1h0M1119,379.2h0M1118.9,376.4h0M1121.2,296.7h0M1120.3,452.1h0M1121.2,435.9h0M1121.1,429.9h0M1120.4,425.4h0M1120.8,408.9h0M1121.1,405.5h0M1120.9,403h0M1120.7,396.5h0M1120.8,387.1h0M1122.6,291.5h0M1122.2,295.7h0M1122.7,436.3h0M1122.1,426.5h0M1122.8,421.6h0M1122.1,417.1h0M1122.3,414.1h0M1122.1,401h0M1123,397.4h0M1122.6,393.4h0M1122.3,389.9h0M1122.5,385.3h0M1122,380.4h0M1122.6,377.6h0M1122.6,374.4h0M1122.4,366.5h0M1122.3,363.2h0M1124.2,254.8h0M1124.7,258.1h0M1124,261.9h0M1124.5,265.3h0M1124.7,271.5h0M1124.9,275.1h0M1124.1,278.2h0M1123.9,281.3h0M1124.6,286.1h0M1123.8,290h0M1124.8,293.8h0M1123.9,416.1h0M1124.6,407.9h0M1123.9,400.5h0M1124.7,396.1h0M1124.7,393h0M1124,385.6h0M1124.7,382.9h0M1125,378.7h0M1124.6,370.5h0M1124.3,363.2h0M1124.8,358.3h0M1125.6,272.8h0M1126.8,280.7h0M1125.9,285.1h0M1126.7,289.5h0M1126,292.4h0M1125.9,385h0M1125.9,380.1h0M1126,370.5h0M1126.3,364.3h0M1126.3,359.4h0M1126.2,356.3h0M1125.7,353h0M1126.3,350.2h0M1126.2,346.2h0M1127.5,279.2h0M1128.6,283.8h0M1127.5,287.9h0M1127.5,358.6h0M1128.3,348h0M1129.9,260.9h0M1130,265.6h0M1130.1,269.4h0M1129.4,272h0M1129.7,351.1h0M1130.2,347.5h0M1131.8,253.1h0M1131.7,258h0M1131.6,262.5h0M1132.2,265.6h0M1131.7,270h0M1133.2,250.2h0M1133.2,256.2h0M1133.2,260.7h0M1132.9,265.2h0M1133,268.6h0M1133.2,275.7h0M1133.5,348.7h0M1135.7,262.6h0M1135.2,266.7h0M1135.2,269.8h0M1135.7,272.3h0M1135.8,275.1h0M1135,278h0M1134.7,352.5h0M1135.3,348.2h0M1135.6,340.2h0M1136.4,276.1h0M1137.2,280.7h0M1136.5,361.5h0M1136.9,353.7h0M1137.2,349.3h0M1137.6,345.3h0M1136.8,341.8h0M1136.8,334h0M1138.4,347.8h0M1138.8,343.4h0M1139,333.6h0M1138.4,328.9h0M1140.7,266.9h0M1140.3,271.2h0M1140.7,275.1h0M1140.2,278.2h0M1140.4,335.1h0M1140.9,332.6h0M1141.2,328.8h0M1142.3,261h0M1142.1,264.9h0M1142.9,267.4h0M1142.2,275.1h0M1142.1,280.9h0M1142.1,331.2h0M1142.6,328.4h0M1144,255.2h0M1144.6,270.9h0M1144.4,275h0M1143.6,278.4h0M1144.5,326.2h0M1145.8,257.8h0M1145.6,261.4h0M1146.2,264.4h0M1145.8,326h0M1147.8,256.8h0M1147.3,259.7h0M1149.6,251.8h0M1149.4,255.8h0M1149.6,262.5h0M1151.5,257.5h0M1151.9,260.9h0M1151.5,264.4h0M1150.9,329h0M1151.3,326.2h0M1152.9,261.3h0M1153.6,265.3h0M1153.3,333.4h0M1153,328.8h0M1153.5,326h0M1154.7,338.5h0M1155.3,335.1h0M1154.8,329h0M1155.6,325.8h0M1157.1,258.2h0M1156.6,262h0M1157.2,264.6h0M1156.7,330.3h0M1156.6,326.7h0M1156.4,321.8h0M1156.4,317.2h0M1158.9,249.9h0M1158.9,253.6h0M1158.9,258h0M1158.6,324.6h0M1158.1,320.2h0M1158.2,315.3h0M1160.7,243.3h0M1160.5,261.7h0M1160.2,320.6h0M1160.5,315.7h0M1160,312.2h0M1161.7,232.8h0M1162.7,240.2h0M1161.8,242.8h0M1161.8,246.6h0M1162.5,314.1h0M1162.7,309.7h0M1163.9,221.2h0M1164.5,225.4h0M1163.5,228.4h0M1164,233.3h0M1164.4,236.1h0M1164,239.9h0M1163.5,244.8h0M1163.9,247.7h0M1164.2,313.4h0M1165.9,176.5h0M1165.8,184.4h0M1166.2,187.5h0M1165.6,193.6h0M1165.3,197.1h0M1165.8,202h0M1166.1,205.2h0M1166,209.7h0M1165.7,212.8h0M1166.1,215.6h0M1166.2,219.9h0M1165.8,224h0M1165.6,228.1h0M1166,232.9h0M1165.7,235.9h0M1166.2,239.4h0M1166.2,310h0M1167.8,180.7h0M1167.4,183.3h0M1168.1,188.2h0M1167.9,196.1h0M1167.5,200.7h0M1167.3,208.1h0M1167.6,212h0M1167.5,215.5h0M1168.2,222.3h0M1167.9,225.8h0M1167.6,228.9h0M1168.8,185.9h0M1169.5,193.3h0M1169.5,200.6h0M1169.3,204.6h0M1169,208.3h0M1169.2,212.3h0M1170.8,197.4h0M1171,200.8h0M1170.8,205.4h0M1171.5,213h0M1170.8,216.1h0M1171,221h0M1171.7,226h0M1171.8,316.2h0M1170.7,312.6h0M1172.9,208.6h0M1173.4,213.2h0M1172.6,221.1h0M1172.8,232.3h0M1173.1,235.9h0M1173,240h0M1172.9,242.6h0M1173.3,247.3h0M1173.2,316.4h0M1173.4,312.3h0M1174.7,213h0M1174.2,216.8h0M1174.4,220.8h0M1175.1,225.2h0M1174.3,233.3h0M1174.8,240.7h0M1175.3,249.1h0M1175,320.5h0M1174.5,314.8h0M1177.2,231.7h0M1176.1,243.2h0M1176.1,246.9h0M1177.2,251.9h0M1176.9,255.3h0M1177.2,259h0M1176.7,325.3h0M1179,252.7h0M1178.2,256.2h0M1178.5,263.3h0M1178.3,328.1h0M1180.4,253.1h0M1179.7,259.7h0M1180,332.3h0M1180,327.4h0M1181.9,261h0M1182.5,334.8h0M1182.1,327.1h0M1183.9,338.5h0M1184.2,331h0M1186,262.8h0M1185.2,334.4h0M1187.4,260.3h0M1187.3,265.2h0M1187.5,337.5h0M1189.7,259.8h0M1188.7,269.2h0M1188.8,274.1h0M1190.8,254.8h0M1191.1,261.2h0M1190.6,264.3h0M1190.8,266.8h0M1190.7,271.7h0M1191.2,275.9h0M1191.4,333.2h0M1192.4,269h0M1193.3,271.9h0M1193.3,275.8h0M1192.2,334.9h0M1196.3,276.9h0M1198.4,279.2h0M1199.8,278.8h0M1201.4,278.8h0M1201.6,334.4h0M1203.8,333.3h0M1205,334.6h0M1206.9,281.7h0M1207.8,336.8h0M1208.9,341h0M1210.5,278.8h0M1210.5,370.7h0M1211.2,362.9h0M1211.3,359.9h0M1211.3,356h0M1210.9,351.5h0M1210.3,347.1h0M1211.1,344.6h0M1211.1,337.4h0M1212.8,279.8h0M1212.7,347.4h0M1213.1,343h0M1212.2,340.1h0M1212.8,336.7h0M1214.3,280.5h0M1214.3,335.6h0M1216.5,275.4h0M1215.9,335.4h0M1217.6,274.1h0M1218.2,277.4h0M1217.5,334.5h0M1220.2,272.6h0M1219.9,276.8h0M1221.6,279.6h0M1221.8,282.8h0M1221.5,285.6h0M1224,282.6h0M1222.9,285.4h0M1222.9,332.9h0M1225.6,282.4h0M1227.6,334h0M1229.1,284.6h0M1229.4,340.5h0M1231.1,347.7h0M1230.6,339.9h0M1230.8,336h0M1230.9,332.4h0M1231.9,275.9h0M1232.8,279.6h0M1231.8,341.4h0M1231.9,337.2h0M1232.8,332.6h0M1232.6,329.8h0M1234.3,260.6h0M1233.9,267.2h0M1234.7,271.2h0M1234.5,275h0M1234.3,279.8h0M1233.8,282.9h0M1234.5,339.7h0M1234.3,335.6h0M1234.1,329.2h0M1236.6,261.7h0M1236.2,266.3h0M1236.1,270.2h0M1235.6,274.1h0M1235.5,278.3h0M1235.7,282h0M1236.4,329h0M1236.1,324.9h0M1236.2,320.4h0M1238.2,261.1h0M1237.7,264.7h0M1238.4,268.8h0M1238,273.7h0M1237.5,326.9h0M1237.9,319.7h0M1239.5,255.9h0M1239.5,325.5h0M1239.5,321.3h0M1239.1,318.6h0M1241.3,246h0M1241.5,250.9h0M1241.6,254.4h0M1243,238.4h0M1243.1,241.5h0M1242.8,250.5h0M1242.7,254.4h0M1243.7,259.1h0M1243.6,317.8h0M1244.6,234.4h0M1245.3,242h0M1245.4,246.1h0M1244.6,248.9h0M1247,228.7h0M1246.5,232.8h0M1247,236h0M1246.3,317.7h0M1249,234.8h0M1248.2,242.5h0M1248.1,246.5h0M1249,250.9h0M1248.4,321.7h0M1251,235.2h0M1249.9,245h0M1250,248h0M1250.9,252.5h0M1250.9,325.3h0M1250,321.1h0M1252.4,247.8h0M1251.6,327.6h0M1252.3,323.3h0M1253.5,254.7h0M1254.6,327.6h0M1254.3,325.1h0M1256.2,257.5h0M1255.4,329.9h0M1255.6,327.1h0M1257.5,262.6h0M1258.1,335.4h0M1259.2,264.6h0M1259.1,331.9h0M1259.5,329h0M1261.8,332.4h0M1263.3,260.4h0M1264.4,259.9h0M1264.7,263.4h0M1264.4,331.2h0M1266.9,258.3h0M1266.6,261.5h0M1266.9,264.9h0M1266.2,330.3h0M1268.8,253.3h0M1268.5,255.9h0M1268,258.6h0M1268.7,261.3h0M1268.4,330.7h0M1270.5,259.9h0M1269.6,264.5h0M1270.4,271.4h0M1270.2,332.8h0M1272.5,265.9h0M1271.8,269.7h0M1271.9,274.4h0M1272.2,336.9h0M1272.5,332.6h0M1273.8,270.6h0M1273.6,334.1h0M1274.2,331.1h0M1275.5,274.4h0M1276,277.4h0M1275.7,331.4h0M1277.2,277.4h0M1277.5,327.9h0M1279.2,329.4h0M1281.2,277.4h0M1282.8,264h0M1282.3,272.8h0M1282.3,328.7h0M1284,249.5h0M1284.2,256.3h0M1284.4,264.4h0M1284,274.4h0M1284.1,278.3h0M1285.1,332.3h0M1286.6,233.5h0M1286.2,238.2h0M1287,241.7h0M1286.2,246.5h0M1286.5,250.5h0M1286.8,253.7h0M1286.6,257.6h0M1286.1,260.3h0M1286.3,265.3h0M1285.9,269.8h0M1286,274.2h0M1286.3,334.4h0M1286.3,330.6h0M1288.7,221h0M1288.2,225h0M1288,228.1h0M1287.8,232.3h0M1288.7,236.4h0M1288.3,240.8h0M1288.3,244.8h0M1288.7,247.9h0M1288.2,251.9h0M1288.4,256.8h0M1288.1,335.4h0M1288.5,331.9h0M1289.8,244.8h0M1289.9,249.1h0M1289.5,252.9h0M1290,260.1h0M1289.7,264.9h0M1290.1,337.4h0M1291.5,261.8h0M1291.6,339.4h0M1293.6,263.4h0M1294.1,344.6h0M1293.1,339h0M1293.9,335.6h0M1293.3,331.7h0M1295.5,340.3h0M1295.1,336.2h0M1295,332.8h0M1296.7,262.7h0M1297.3,331.5h0M1298.5,255.2h0M1299,258.9h0M1299.5,262.6h0M1301,245.7h0M1301.1,251.7h0M1300.2,254.6h0M1301.2,257.9h0M1300.4,262.1h0M1300.6,264.7h0M1300.5,330.6h0M1302.9,237.5h0M1302,240.1h0M1302.9,243.1h0M1303,251.8h0M1302,256.7h0M1302.6,259.4h0M1302.9,332.7h0M1304.8,222.6h0M1304.3,230.7h0M1304,235.5h0M1304.6,239.3h0M1304.6,246.7h0M1304,251.7h0M1304,334.2h0M1304.5,331.1h0M1306.4,239.6h0M1306.7,243.3h0M1306.1,247.5h0M1305.7,251.4h0M1306.7,335.4h0M1310.4,330.5h0M1311.6,249.3h0M1311.1,252.5h0M1311.2,331.5h0M1313.5,227.2h0M1313.7,234.7h0M1313.5,238h0M1313.7,242.1h0M1313.5,246.6h0M1313.1,249.2h0M1313.5,256.9h0M1313.7,330.8h0M1315.7,242.5h0M1315.2,245.2h0M1314.7,255.5h0M1314.9,259.6h0M1315.2,263.6h0M1316.9,255.9h0M1317.4,263.9h0M1316.5,266.9h0M1317.6,332h0M1318.5,263.9h0M1318.4,266.6h0M1318.3,335.1h0M1320.5,267.6h0M1320.9,338.4h0M1320.6,335.8h0M1320.4,331.9h0M1322,343.1h0M1322.3,336.3h0M1322.6,333.5h0M1323.7,269.2h0M1324.3,276.9h0M1324.1,337.8h0M1326,269.1h0M1325.8,276.5h0M1327.8,267.1h0M1327.9,270.9h0M1328.3,275.5h0M1327.5,282.5h0M1327.7,285.9h0M1329.2,281h0M1329.6,336.9h0M1331.7,284.7h0M1331.1,339.1h0M1331,335.9h0M1332.9,287.9h0M1332.6,344h0M1333.4,337.7h0M1335.4,352.3h0M1334.5,348.1h0M1335.3,343.7h0M1335.1,340.7h0M1336.9,288.6h0M1336.3,344.4h0M1337.2,341.5h0M1338.4,292.7h0M1338,295.5h0M1338.6,344.4h0M1340.2,293.4h0M1340.4,340.2h0M1341.7,295.7h0M1342.4,298.8h0M1348,298.3h0M1347.8,339.6h0M1348.8,284h0M1349.9,296.8h0M1349.5,300.6h0M1349.7,303.9h0M1349.1,345.2h0M1351.5,303.1h0M1351,347.2h0M1351.3,343.1h0M1353.1,358h0M1353.2,353.8h0M1352.5,350.9h0M1353.3,348.1h0M1352.7,344h0M1354.4,305.2h0M1354.8,370.7h0M1355.3,362.5h0M1354.8,358.2h0M1355.1,354.8h0M1355.4,351.7h0M1356.6,303.4h0M1356.4,341.8h0M1360.7,303.6h0M1360.7,341.7h0M1362.1,348.9h0M1361.5,345.1h0M1361.9,342.4h0M1363.4,300.9h0M1364.1,358.2h0M1364.2,354.4h0M1363.2,345.4h0M1364,342h0M1366.1,301.7h0M1365.3,362h0M1365.8,357h0M1365.4,350.2h0M1366.1,347.4h0M1367.3,302.3h0M1367.1,365.7h0M1367.6,354.8h0M1367.4,351.7h0M1369.1,370.8h0M1370.6,303.5h0M1370.4,368.9h0M1372.6,304.9h0M1373,370.6h0M1372.7,367.4h0M1374.6,300.9h0M1374.7,305.2h0M1374,312h0M1374.6,316.3h0M1374.3,377.7h0M1374.4,373.8h0M1376.6,310.7h0M1376.2,409.1h0M1376.5,404.3h0M1376.6,401.4h0M1376.9,397.4h0M1376.2,392.5h0M1376.6,386.2h0M1376.3,373.7h0M1377.7,315h0M1378.7,381.2h0M1378.2,373.2h0M1380.5,383.1h0M1382.2,312.3h0M1381.9,385.3h0M1383.2,310.7h0M1383.2,314.4h0M1383.4,388.5h0M1383.2,385.7h0M1385.9,308.6h0M1385.7,312.7h0M1384.9,385.8h0M1386.9,388.1h0M1389.4,305.4h0M1389.2,309.5h0M1389.1,312.4h0M1388.8,315.1h0M1388.6,317.8h0M1388.9,391.4h0M1389,388.1h0M1390.6,304.6h0M1391.3,308.6h0M1390.4,312.4h0M1391.4,315.4h0M1391,395.9h0M1393,312.2h0M1392.2,316.2h0M1392.5,319.1h0M1392.3,406h0M1392.6,402.8h0M1392.5,398.4h0M1392.8,395.2h0M1393.2,392.5h0M1394.4,402.1h0M1394,397.8h0M1394,393.1h0M1396.7,314.9h0M1396.4,317.6h0M1396,397.8h0M1395.9,395.3h0M1397.8,318.8h0M1400.1,313.4h0M1400.2,317.9h0M1400,393.2h0M1399.7,388.3h0M1399.7,384.7h0M1401.1,310.1h0M1401.8,314.2h0M1401,397.7h0M1402.1,393.3h0M1401.7,386h0M1401.8,382h0M1402.2,378.5h0M1401.9,369.8h0M1403.3,314.6h0M1403.9,405.4h0M1403.3,401.2h0M1402.8,393.5h0M1402.8,390.3h0M1403.3,386.1h0M1403.3,383.5h0M1403.7,379.1h0M1403.2,369.9h0M1403.3,366.1h0M1405.5,381.9h0M1405.7,378.7h0M1405.8,374.9h0M1406.5,366.4h0M1407.5,363.1h0M1408.9,364.1h0M1410.7,312.1h0M1411.1,361h0M1412.1,310.8h0M1413,316.9h0M1414.4,308.6h0M1413.7,311.4h0M1414.8,315.2h0M1414.2,318.3h0M1415.6,314.1h0M1416.1,318.6h0M1416.3,363.8h0M1418.2,321.8h0M1417.4,324.4h0M1418,328.7h0M1417.4,369.4h0M1417.6,364.6h0M1418.3,362h0M1419.2,325.3h0M1419.1,329.4h0M1419.7,333.9h0M1420,337.5h0M1420,377.2h0M1419.8,366.3h0M1419.3,362h0M1421.4,331.6h0M1420.8,336.2h0M1421.2,343.5h0M1421.5,388.3h0M1422,385.6h0M1420.9,381h0M1421.6,377.4h0M1421,373.3h0M1423,332.4h0M1423.5,336h0M1423.6,338.8h0M1423.5,347.3h0M1423.6,351.6h0M1423.1,358.3h0M1423.1,404.5h0M1423.8,401.1h0M1422.8,397.3h0M1423.4,392.5h0M1422.7,382.7h0M1422.9,380h0M1423.1,373.1h0M1425.1,340.1h0M1425.2,356.2h0M1425.3,419.1h0M1424.6,410.3h0M1425.5,405.9h0M1426.5,352.2h0M1426.5,356h0M1426.7,430.1h0M1426.3,422.8h0M1427.3,419.8h0M1426.6,412.2h0M1426.8,408.2h0M1427.3,404.3h0M1426.6,391.4h0M1428.2,434.3h0M1428.5,430.8h0M1428.8,426.9h0M1429.2,419.9h0M1428.6,415.1h0M1428.5,409h0M1429.8,357.4h0M1430.9,444.4h0M1430.6,441.1h0M1431,433.4h0M1430.7,429.6h0M1430.6,422h0M1432.6,352.9h0M1432.8,356.8h0M1431.9,432.3h0M1432.6,428.1h0M1432.5,424.8h0M1432.1,415.8h0M1431.9,410.4h0M1434.2,340.9h0M1433.6,345.7h0M1434.1,350.3h0M1433.6,354.8h0M1433.9,359.1h0M1433.5,426.8h0M1434.4,415.4h0M1433.8,408h0M1434.3,404h0M1433.6,401.2h0M1435.8,325.4h0M1435.3,328.9h0M1435.7,332.3h0M1435.9,335.1h0M1436.3,342.9h0M1436.2,346.8h0M1436,419.7h0M1436.2,416.8h0M1436.2,413.7h0M1435.5,407h0M1435.7,402.8h0M1435.4,400.1h0M1437.3,328.2h0M1437,338.3h0M1437.2,341h0M1438.1,347h0M1437.2,349.6h0M1438,406.7h0M1438.1,403.4h0M1437.1,398h0M1437,395.2h0M1439.6,328.7h0M1439.2,333.1h0M1439.5,396.5h0M1439.3,393.8h0M1439.9,388.9h0M1439.1,385.6h0M1441.2,321.2h0M1441.5,324.6h0M1441.7,398.5h0M1441,394.3h0M1441.6,389.4h0M1441.1,386.5h0M1441.2,380.1h0M1441.7,375.8h0M1441.6,372.5h0M1443.3,315h0M1442.6,319.1h0M1443.4,321.8h0M1443.4,324.6h0M1443,392.7h0M1443,384.3h0M1443.2,381h0M1443.5,376.8h0M1443.3,373.9h0M1443,368.1h0M1442.8,365.6h0M1445.3,312.2h0M1444.5,314.8h0M1445.3,322.9h0M1445.4,325.5h0M1444.6,378.7h0M1444.3,374.5h0M1444.4,363h0M1445,360h0M1446.6,307.3h0M1446.4,310.2h0M1446.5,370.2h0M1446.7,361h0M1446.8,357.6h0M1448.7,297.8h0M1447.9,301h0M1448.1,305.1h0M1448.4,309.9h0M1447.8,313.3h0M1447.9,362.4h0M1448.8,359.1h0M1448.1,355.7h0M1449.9,302h0M1450.1,306.2h0M1449.8,309.2h0M1451.5,301.7h0M1451.6,305.4h0M1452.6,365.3h0M1451.5,362.6h0M1453.3,378.4h0M1453.5,361.6h0M1453.5,358.1h0M1453.5,354.4h0M1455.5,372.7h0M1455.3,368.6h0M1455.4,364.1h0M1456.1,356.6h0M1457,300.3h0M1459.7,300.2h0M435.5,218.7h0M435.5,224.2h0M499.7,222.3h0M499.7,231.5h0M499.7,239.2h0M402.7,405.7h0M432.8,371.6h0M432.8,378.4h0M461.4,434.4h0M461.4,441.2h0M461.4,448.9h0M472.4,438.5h0M472.4,444h0M472.4,449.4h0M472.4,456.2h0M472.4,465.3h0M454.6,411.2h0M454.6,416.7h0M496.1,408.5h0M496.1,430.3h0M502.4,403h0M502.4,413.4h0M502.4,421.6h0M510.6,383.9h0M510.6,394.8h0M518.8,356.6h0M518.8,364.8h0M547.4,337.5h0M547.4,342.4h0M467.7,428.9h0M463.3,419.4h0M451.9,412.6h0M120.8,384.1h0M134.9,346.8h0M136.9,334.7h0M144.5,412.8h0M169.3,335.9h0M171,262.9h0M174.2,289.1h0M181.4,294.9h0M187.3,260.7h0M202.6,374.4h0M204.8,319.1h0M204.9,369.1h0M209.1,295.6h0M220.9,332.4h0M227.6,345.3h0M257.7,248.2h0M267.8,325.4h0M270.2,336.7h0M275.3,272.6h0M293.1,494.7h0M294.1,292.3h0M297.3,467.7h0M300.9,466.3h0M301.8,286.4h0M312,243.8h0M326.8,250.1h0M342.5,222.4h0M342.4,381.7h0M347.5,212.3h0M352.7,428.8h0M354.5,450.7h0M355.4,205.9h0M366.6,196.6h0M377.9,224.1h0M393.6,373.9h0M427,346.3h0M432.9,234.8h0M438.1,353.4h0M443.1,341.2h0M453,382.8h0M473.2,274.2h0M478.2,378.1h0M488.2,242.6h0M504,379.5h0M516.5,266.3h0M521.4,245.9h0M528.3,250h0M528.7,359.1h0M544,293.6h0M562.2,257.4h0M569.2,242.8h0M570.8,237.8h0M573.4,272.7h0M576.3,234.2h0M575.3,267.8h0M579.5,266h0M588.4,282.3h0M588.9,256.8h0M590.7,263.6h0M598.4,280.4h0M600.2,299.1h0M623.9,298.1h0M625.3,303.5h0M634.6,241.9h0M634.9,340.7h0M636.9,263.3h0M635.9,381.1h0M637.9,422.5h0M648.1,314.3h0M650.1,279.6h0M650.9,281.5h0M658.9,357.1h0M663.3,356.2h0M665.5,270h0M672,283.7h0M691,319.1h0M694.7,266.1h0M700.7,331.9h0M718.7,348.1h0M722.4,264.1h0M726,382.9h0M730.3,289.9h0M735.5,284.1h0M746.7,327.7h0M771.7,316.6h0M796.3,290.5h0M796.9,321.2h0M800,334.6h0M801.7,288.3h0M803.5,334.2h0M811.7,330.1h0M815.7,345.1h0M816.4,373.3h0M823.2,161.5h0M830.7,345.5h0M848.2,333.1h0M848,325.7h0M854.5,259.4h0M883.1,223.8h0M885.7,234.3h0M904.4,179.1h0M904.9,299.2h0M920.1,203.4h0M921.7,281.5h0M929.2,292.9h0M929.9,215.7h0M930.8,222.1h0M941.1,226.8h0M943.9,236.2h0M960.5,300.2h0M966.8,302.1h0M969.6,243.5h0M971.2,303.6h0M976.2,308.5h0M990,309.3h0M1015.1,358.3h0M1024,261.1h0M1037.1,311.6h0M1041.7,327.4h0M1044.8,315.7h0M1047.9,320.9h0M1060,275.9h0M1076.9,327.2h0M1084.9,322.1h0M1100.2,238.6h0M1106,325.3h0M1108.2,330.5h0M1110.6,342h0M1120.4,292.3h0M1123.5,260.2h0M1134,356.2h0M1136.1,257.5h0M1147.7,252.2h0M1151.8,253.2h0M1157.7,258h0M1159.1,330.7h0M1162.5,325.1h0M1163.1,325.2h0M1170.8,326.5h0M1181.5,254.4h0M1185,255.1h0M1191.5,251h0M1231.5,281.3h0M1235,256.8h0M1248.1,327.6h0M1253.9,332.7h0M1270.9,339h0M1291.9,345.5h0M1302.7,346h0M1306,335.9h0M1316,238h0M1315.9,337.1h0M1316.4,345.8h0M1318.8,248.7h0M1323.6,345.8h0M1348.5,351.6h0M1352.7,366.2h0M1367.4,372.8h0M1374,299.8h0M1381.7,307.8h0M1382.4,391h0M1389.1,400h0M1391.7,310.3h0M1393.3,411h0M1396.7,402.6h0M1407.8,302.4h0M1416.5,310.3h0M1419.1,385.2h0M1434.3,434.4h0M290.2,299.6h0M290.1,486.3h0M294.7,483.8h0M295.6,272.4h0M299.6,464.6h0M303.8,469h0M305.3,480.1h0M317.6,219.4h0M317.1,356.5h0M323.2,367.7h0M324.9,409h0M327.9,380.2h0M332.1,240.2h0M334.6,231.6h0M337.4,230.8h0M343.1,382.7h0M345.9,405.4h0M351.4,422.6h0M351.3,211.5h0M352.6,425.8h0M354,208.8h0M355.9,198.2h0M359.2,186.9h0M362,170.3h0M362.5,197.8h0M362.5,368.2h0M363.9,183.6h0M371.4,390.1h0M385.5,386.9h0M387.2,349.3h0M389.3,236h0M392.6,233.2h0M394.4,372h0M399.3,380h0M403.5,278h0M407.7,276.1h0M410.5,269.8h0M409.9,390.9h0M413.4,250h0M412.6,386.7h0M419.6,375h0M424.9,238.7h0M424.2,347.4h0M427.4,343.1h0M430.9,368.3h0M446.3,352.3h0M446.8,355h0M450.2,365.9h0M452.8,412.8h0M455.1,260.6h0M455.6,236.7h0M460.4,398.1h0M465.9,253.6h0M474.3,417h0M479.8,373.7h0M481.9,254.3h0M484.5,410.9h0M490.3,248.9h0M493.9,249.5h0M496.8,243.8h0M498,384.3h0M498.9,250.5h0M498.9,435.5h0M513.1,364.1h0M513.5,246.1h0M514,368.1h0M520.4,255.2h0M520.7,236h0M523.3,243.5h0M525.7,203.3h0M532.4,212.7h0M536.1,310.3h0M731,258.9h0M732,259.1h0M731,336h0M732,338.6h0M731,277.9h0M731,315.5h0M733,264.9h0M734,260.3h0M733,342.4h0M734,337.6h0M733,327.7h0M735,258.8h0M736,261h0M735,334h0M736,339.8h0M737,258h0M738,263.9h0M737,335.5h0M738,338.1h0M739,259.7h0M740,262.7h0M739,340h0M740,342.8h0M739,277.7h0M741,261.9h0M742,263.8h0M741,338.3h0M743,262.7h0M744,265.2h0M743,337.2h0M744,334.5h0M745,264.9h0M746,261.6h0M745,332.2h0M746,335.5h0M745,271.9h0M747,259.7h0M748,265.5h0M747,336.9h0M748,342h0M749,261.2h0M750,265.6h0M749,333.7h0M750,336.1h0M751,259.9h0M752,261.9h0M751,338.2h0M753,263.6h0M754,265.7h0M753,341.6h0M755,263.2h0M756,259h0M755,333.8h0M756,334.5h0M755,273.4h0M755,319.8h0M757,333.6h0M758,337.1h0M757,327.6h0M759,261.7h0M760,259.2h0M759,335.8h0M760,341.5h0M759,271.4h0M761,258.8h0M762,258.7h0M761,342.8h0M761,319.9h0M763,264.4h0M764,264.7h0M763,334.5h0M765,264.9h0M765,337.7h0M766,334.3h0M765,275.5h0M765,325.1h0M767,261.5h0M767,342.5h0M768,336h0M767,317.3h0M769,265.6h0M769,339.2h0M769,281.6h0M771,264.3h0M772,259.9h0M771,335.7h0M773,266h0M773,333.4h0M774,342.1h0M773,327.2h0M775,263.4h0M776,262.9h0M775,332.2h0M777,261.4h0M777,334.3h0M778,336.6h0M779,261.3h0M780,265.8h0M779,337h0M780,342.1h0M781,262.3h0M782,258.6h0M781,334h0M782,341.2h0M781,278.6h0M783,260.4h0M784,262.9h0M783,333.2h0M784,336.2h0M785,262.6h0M785,336.9h0M786,338.5h0M787,262.3h0M788,266h0M787,341.6h0M789,265.1h0M790,259.5h0M789,332.8h0M790,334.7h0M791,258.9h0M791,333.6h0M791,329.2h0M793,261.9h0M793,333.8h0M794,338.6h0M793,319.1h0M795,257.7h0M796,262h0M796,339.6h0M795,329.8h0M797,266.2h0M798,260.6h0M797,320.8h0M799,264.9h0M800,259.7h0M799,338.3h0M799,271.9h0M801,258.2h0M801,340.8h0M802,341.7h0M801,284.8h0M803,262.5h0M803,333.4h0M804,336.1h0M803,273.6h0M803,317.2h0M805,260.2h0M805,337.5h0M806,337.1h0M805,275h0M805,325.7h0M807,259.2h0M808,266h0M807,341h0M808,338.5h0M809,263.7h0M809,341.2h0M735.4,372h0M735.4,378h0M748.3,371h0M748.3,376h0M757.6,372h0M757.6,378h0M780.6,378h0M792.9,372h0M796,378h0M796,371h0M809,376h0M809,380h0M824.5,372h0M824.5,380h0M780.6,394.3h0M796,412h0M796,415h0M831.2,400.4h0M831.2,415h0M831.2,419.5h0M824.5,356.5h0M727.5,398h0M727.5,409.3h0M747.4,225h0M1007,369.5h0" fill="none" stroke="#1f77b4" stroke-width="5.4" stroke-linecap="round"/>
<path d="M116.1,339.6 118.2,347.5 120.2,356.4 122.3,365.5 124.3,351.2 126.4,338.7 128.4,326.1 130.3,319.2 132.1,317.9 134,314.8 135.8,311.6 137.6,304.5 139.7,307.8 141.7,309.6 143.8,317.6 146.1,358.1 148.4,394.9 149.9,386.7 151.4,370.4 153.8,378.5 156.1,386.1 158.1,362.9 160.2,341.7 162.2,325.9 164,312.3 165.9,303.7 167.7,294.6 169.6,283.7 171.4,276.6 173.7,271.2 175.9,268.6 178.2,261.4 180.2,268.4 182.2,273.6 183.7,263.4 186,277.1 188.3,291.3 190.4,290.5 192.2,303.5 194,313.2 195.7,322.9 197.5,331.3 199.6,334.8 201.6,340.4 203.7,346 205.6,339.3 207.5,326.6 209.4,319.8 211.3,307.1 213.4,304 215.4,297.5 217.5,287.4 219,282.1 220.5,281.1 222.4,290.3 224.2,302.9 226.7,280.9 229,309.9 231.3,346.2 233.6,344.3 235.9,337.3 237.9,316.2 240,299.8 242,284.4 244.3,273.5 246.6,258.5 248.9,266.1 251.2,275.4 253.1,276.5 254.9,284.9 256.8,284.9 258.9,269.2 261.2,283.2 263.5,297.1 265.1,295.5 266.6,287.7 268.9,299.4 271.2,306.1 272.7,309.8 274.3,312.6 276.3,321.8 278.4,338 280.4,345.3 282.6,322.1 284.6,342.9 286.6,355.5 288.9,374.1 291.2,394.6 292.7,365.4 294.2,333.7 295.8,362.2 297.3,380.1 299.6,352.2 301.9,328.3 303.9,358.2 305.9,391.1 307.8,352.2 309.6,318.3 311.1,314.2 312.7,306.5 314.5,300.6 316.3,291 318.2,284.2 320,293.6 321.9,295.1 323.4,300.3 324.9,305.6 326.5,315.5 328,330.8 330.3,318.5 332.6,299.2 334.7,297.1 336.7,297.6 338.8,302.1 340.8,307.5 342.9,303.8 344.9,310.4 346.4,301 348.9,332.3 350.4,288.7 352.7,321.7 355,359.6 356.6,325.9 358.1,281.9 360.3,260.5 361.8,265.4 363.3,276.2 365.2,280.2 367.2,281.9 369.1,285.1 371,292.8 373,286.4 375.1,285.7 377.1,286.1 378.7,293.5 380.2,295.5 382.3,294.3 384.3,300.7 386.4,297.2 388.3,297.2 390.2,302.4 392.1,306.9 394,309 396,312.9 398,319.6 400,326.1 401.8,328.9 403.7,337.6 405.7,333.7 407.7,324.4 409.2,321 410.8,317.2 412.9,307.7 415.4,326.1 417.2,331.9 419,342.6 421.5,302.6 423,295.3 424.6,287.5 427,293.5 428.9,300.9 430.7,304.3 432.5,301.7 434.4,294.5 436.9,292.2 438.4,289.2 439.9,295.3 441.9,285.6 443.9,273.4 446.1,302 447.6,282 449.1,294.5 450.7,304.2 452.2,302.3 453.7,304.9 455.3,311.5 456.8,313.2 458.3,307.1 459.9,319.8 461.4,328.6 463.4,316.4 465.4,304.7 467.2,312.5 469.1,323 470.6,329.8 472.2,333.6 473.7,325.5 475.2,315.2 476.8,309.8 478.3,300.5 480.4,307 482.9,303.6 485.2,298.9 487.5,293.4 489.7,302.4 491.5,295.2 493.6,325.1 495.2,315 496.7,313.9 498.9,295 500.4,300.5 501.9,311.1 503.9,306.6 505.9,303.2 507.5,309.4 509,308.1 510.5,302.5 512.1,303.7 514.4,307.4 516.7,306.4 518.2,302.3 519.8,304.1 521.3,298.8 522.8,291.8 525.3,284.1 526.8,290.6 528.4,301.8 530.5,309.4 532,293 533.6,277.7 535.7,227.4 538.2,224.2 540.6,260.9 541.9,275.4 543.9,271.6 545.9,269.6 548.2,268.2 550.5,266.9 552,269 553.5,268 555.4,275.4 557.2,277.7 559.7,282.2 561.5,284.1 563.4,285.4 565.4,277.3 567.4,271.9 569.7,264.4 572,255.2 574.3,250.3 576.6,248.3 578.1,252.7 579.6,252 581.9,243.7 584.2,239.9 585.8,241.9 587.3,235.4 589.1,231.4 591,223.2 592.5,235.4 594.1,251.5 596.1,238.2 598.1,232.5 599.6,247.1 601.1,259.7 603.1,277.9 605.1,288.1 607,278.3 608.8,272.1 610.3,249.4 611.9,222.8 613.4,244.8 614.9,264.9 616.8,260.1 618.6,252.1 621.1,265 622.9,271.9 624.8,284.3 627.2,266.4 628.8,258.8 630.3,258.2 631.8,272.3 633.4,281.7 634.9,303.2 636.4,326.8 638.9,348 640.7,326 642.6,304.7 644.9,297.8 647.2,287.2 648.7,287.3 650.3,285.1 651.8,286.3 653.3,292.8 655.6,307.4 657.9,318.4 660.4,316.4 661.9,327.6 663.5,337.9 665.3,308.7 667.1,283.1 668.7,268.4 670.2,248.5 671.8,263.8 673.3,273.5 674.8,270.9 676.4,265.1 677.9,263.7 679.4,259.2 681,267.7 682.5,275.8 684.8,273.5 687.1,278 690,302.6 692.3,289.6 694.6,270.7 696.1,285.3 697.7,294.5 699.2,295.4 700.8,290.1 703,300.1 705.4,312.3 707.2,319.2 709,326 710.6,318 712.1,305.8 714.1,310.3 716.1,323.8 718.4,311.4 720.7,308.4 722.5,314.6 724.4,326.8 725.9,334.4 727.5,335.4 729.9,301.6 732.2,301.3 734.5,300.1 736.8,302 739.1,301.6 741.4,302.5 743.7,299.7 745.3,300.1 746.8,295.9 748.3,298.5 749.9,302.8 752.2,300.4 754.5,300.1 756.8,301.8 759.1,302.8 761.4,302.7 763.7,299.8 766,300 768.3,301.7 770.6,302.2 772.9,300.4 775.2,299.6 777.5,302.4 779.8,302.7 782.1,299.7 784.4,300.8 786.7,300.8 789,300.6 791.3,299.7 793.6,301.7 795.9,302 798.2,303.2 800.5,299.7 802.8,300.1 805.1,301.7 807.1,301 809.1,299.7 810.7,288.3 812.2,272.2 814.1,260.1 815.9,245.7 817.7,236 819.6,219.8 821.1,234.8 822.6,255.1 825.1,277 827,270 828.8,263.9 830.3,274.7 831.9,279.7 833.4,289 834.9,300.2 836.8,281.7 839.2,304.2 842,275.4 844,276.7 846,270.5 847.5,247.2 849.1,226.6 851.8,200.5 853.4,205.3 854.9,213.3 856.6,219.4 858.3,221.6 859.8,232.6 861.3,237 862.9,245.3 864.4,251.3 865.9,242.7 867.5,238.4 869,245.5 870.5,253.3 872.4,254 874.2,255.2 876.1,254.6 877.9,257.5 879.5,255.9 881,252.4 883,253.8 885,255.8 887,257.9 889,261 890.5,243 892,231.4 893.6,209.4 895.1,184.4 897.3,179.3 899.7,226.9 901.3,218.8 902.8,202 904.6,236.3 906.5,262.6 908,240.6 909.5,225.1 911.1,236.4 912.6,242.1 914.2,234.1 915.7,233.3 917.7,246.1 919.7,262.3 921.5,252 923.4,248.7 925.2,246 927,238.2 929,243.5 931,252.7 933.3,263.3 935.6,269 938,250.4 940.3,239.9 942.6,263.5 944.9,282.8 947.2,271.3 949.5,255.7 951.8,261.6 954.1,272.3 956.4,264.4 958.7,263 961,263 963.3,263.1 965.6,267.6 967.9,277.2 969.4,268.1 971,264 973.3,268.5 975.6,267.4 977.8,267.1 980,273.7 982.5,267.5 984,271.8 985.5,279.1 987.4,272.2 989.2,268.9 991.5,270.7 993.8,271.8 996.1,273.7 998.4,272 1000.3,274.5 1002.1,273.2 1003.6,264.8 1005.2,262.7 1006.7,276.4 1008.2,285.6 1010.7,281.8 1013.2,290.9 1015.6,325.9 1017.5,314.8 1019.3,313.3 1021.1,313.8 1023,311.1 1024.5,308.1 1026.1,300.1 1027.9,288.9 1029.7,280.1 1031.3,275.2 1032.8,272.2 1034.8,279.2 1036.8,282 1038.3,285.5 1039.9,282.1 1041.4,278.3 1043,271.6 1044.5,273.6 1046,279.6 1047.6,282.2 1049.1,280.4 1050.6,295 1052.2,306.7 1054.2,299.7 1056.2,295.9 1057.7,303.8 1059.2,319.1 1061.4,333.4 1062.9,335.5 1064.4,345.3 1066,332.4 1067.5,317 1069.5,315.1 1071.5,319.6 1073.3,308 1075.2,294.6 1077,291.8 1078.9,286.1 1080.9,282.3 1082.9,277.8 1084.4,278.3 1085.9,270.4 1087.5,275.8 1089,279.1 1090.5,280.7 1092.1,273.5 1094.1,278.4 1096.1,280.6 1098.2,275.9 1100.4,275.7 1102.4,276.4 1104.4,283.3 1106.4,288.7 1108.3,293.8 1110.5,299.9 1112.7,310.3 1114.2,319.3 1115.7,328.9 1118.2,364.2 1120.6,385.9 1123.1,358.2 1124.9,337.7 1126.8,317.6 1128.3,318.4 1129.8,327.7 1131.4,319.5 1132.9,305.9 1135.1,328.8 1137.2,340 1139.7,313.4 1141.5,300 1143.4,292 1145.4,286.5 1147.3,277.7 1149.3,284.7 1151.3,282.6 1153.2,293 1155,303.1 1156.9,293.2 1158.7,285.2 1160.2,284.9 1161.8,281.5 1164.2,285.2 1166.4,248.2 1168.8,272.9 1170.4,268 1171.9,269.7 1173.4,274.4 1175,284.7 1177.3,300.3 1179.6,310.1 1181.4,310.7 1183.3,305.2 1185.3,299.8 1187.3,304.4 1188.8,305 1190.3,298.3 1191.9,310 1193.4,313.3 1194.9,308 1196.5,304.4 1198.8,302.2 1201.1,305.9 1203.4,308.8 1205.7,305.1 1207.2,306.4 1208.8,310.5 1210.3,316.2 1211.8,318.5 1214,296.9 1216,303.1 1218,305.7 1220.3,304.9 1222.6,307.4 1224.9,308.4 1227.2,306.1 1229.2,305.4 1231.2,304.9 1233,310.1 1234.9,315.8 1237.2,314.2 1239.5,310.2 1241.8,303.6 1244.1,292.1 1245.9,291.6 1247.8,284.3 1249.8,297.1 1251.8,306.5 1254.1,306.5 1256.4,313.3 1258.7,309 1261,301.7 1263.3,301.6 1265.6,303.6 1267.9,305.1 1270.2,303 1271.7,308.9 1273.2,314 1274.8,318.7 1276.3,318.6 1278.2,309.9 1280.1,305.9 1282.1,305.5 1284.1,301 1285.6,302 1287.2,310.5 1288.7,307.8 1290.2,307.1 1291.8,316.1 1293.3,321.4 1294.8,318.5 1296.4,312.1 1298.7,305.5 1301,304.9 1302.8,303.2 1304.7,301.7 1306.6,300.9 1308.6,302.7 1310.2,296.5 1311.7,294.6 1314.2,291.3 1316.3,305.5 1318.6,305.3 1320.9,312.3 1323.2,315.4 1325.5,312.4 1327.8,315.8 1330.1,314.1 1331.7,317.5 1333.2,320.4 1335.5,319.2 1337.8,311.6 1340.1,321.7 1342.4,330.5 1344.4,320.6 1346.4,315.2 1348.3,321 1350.1,324.2 1351.6,324.5 1353.2,326.9 1355.5,320.9 1357.8,322.3 1360.1,316.4 1362.4,316.7 1363.9,317.9 1365.5,316.5 1367.3,327.4 1369.1,334.4 1371.1,338.9 1373.1,336.7 1375.1,344.9 1377.1,357.1 1379,343.8 1380.8,337.4 1383.3,329.6 1385.1,337.4 1386.9,342 1388.8,340.5 1390.6,343.8 1392.6,353.8 1394.6,359.1 1396.5,366.4 1398.3,380.3 1400,360.9 1401.7,342.6 1403.2,352.5 1404.8,357.9 1406.3,346 1407.8,337.6 1409.4,334.2 1410.9,334.4 1412.4,330.3 1414,328.8 1415.8,336 1417.7,337.3 1419.2,347.7 1420.7,359.1 1422.3,364.6 1423.8,371.5 1425.3,387.8 1426.9,404.6 1429.3,402.8 1430.9,415.1 1432.4,422.7 1433.9,410.8 1435.5,393.6 1437.3,375.3 1439.1,363.5 1440.7,359.7 1442.2,349.6 1443.8,341.8 1445.3,341.2 1446.8,331.6 1448.4,321.4 1450.8,318.2 1452.7,331.7 1454.5,345.3 1456,331.4 1457.6,326 1459.1,324.4 1460.6,316.7 1462.2,315.2" fill="none" stroke="#ff7f0e" stroke-width="2.5" stroke-linejoin="round"/>
</g>
<path d="M115.5,518.5v4.9M284.5,518.5v4.9M452.5,518.5v4.9M620.5,518.5v4.9M789.5,518.5v4.9M957.5,518.5v4.9M1125.5,518.5v4.9M1294.5,518.5v4.9M115.5,75.5h-4.9M115.5,150.5h-4.9M115.5,226.5h-4.9M115.5,301.5h-4.9M115.5,376.5h-4.9M115.5,451.5h-4.9" stroke="#000" stroke-width="1.1" fill="none"/>
<rect x="1047.4" y="48.4" width="406.3" height="80.2" rx="4" fill="#fff" fill-opacity="0.8" stroke="#ccc" stroke-opacity="0.8" stroke-width="1.4"/>
<circle cx="1073.5" cy="63.4" r="2.9" fill="#1f77b4"/>
<path d="M1053.4,101.6H1091.9" stroke="#ff7f0e" stroke-width="2.4"/>
<text x="1106.2" y="69.2" font-size="19.6" text-anchor="start" textLength="99.4" lengthAdjust="spacingAndGlyphs">Raw Data</text>
<text x="1106.2" y="96" font-size="19.6" text-anchor="start" textLength="271.2" lengthAdjust="spacingAndGlyphs">Butterworth Filtered Data</text>
<text x="1106.2" y="116.9" font-size="19.6" text-anchor="start" textLength="339.2" lengthAdjust="spacingAndGlyphs">(N=6, Tc=3.3333 min, Type: low)</text>
<rect x="115.5" y="38.4" width="1347.0" height="480.1" fill="none" stroke="#000" stroke-width="1.1"/>
<rect x="827.3" y="575.4" width="556.6000000000001" height="479.0000000000001" fill="#e9e9e9"/>
<path d="M284.5,575.4V1054.4M452.5,575.4V1054.4M620.5,575.4V1054.4M789.5,575.4V1054.4M957.5,575.4V1054.4M1125.5,575.4V1054.4M1294.5,575.4V1054.4M115.5,589.5H1462.5M115.5,676.5H1462.5M115.5,763.5H1462.5M115.5,850.5H1462.5M115.5,937.5H1462.5M115.5,1024.5H1462.5" stroke="#b0b0b0" stroke-width="1" stroke-dasharray="1.15 1.8" fill="none"/>
<g clip-path="url(#cb)">
<path d="M118.2,937.4 119.9,960.8 121.6,962.2 123.3,971.9 125,971.9 126.7,973.3 128.4,982.5 130.1,983.9 131.8,983.9 133.5,983.9 135.2,977.3 136.9,977.3 138.6,970.7 140.3,970.7 142,969.5 143.7,969.5 145.4,951.1 147.1,935.9 148.8,941.3 150.5,941.3 152.2,941.3 153.9,947.8 155.6,947.8 157.3,947.8 159,934.8 160.7,921 162.4,908 164.1,939.7 165.8,951.3 167.5,951.3 169.2,951.3 170.9,947.9 172.6,946.6 174.3,938 176,921.8 177.7,951.9 179.4,973.7 181.1,997.9 182.8,997.9 184.5,997.9 186.2,990.1 187.9,993.7 189.6,993.7 191.3,993.7 193,988.9 194.7,986.3 196.4,981.2 198.1,980.7 199.8,975.5 201.5,975.5 203.2,970.7 204.9,931.6 206.6,933.6 208.3,933.6 210,933.6 211.7,907.4 213.4,892.6 215.1,930.5 216.8,951.8 218.5,961 220.2,977.8 221.9,977.8 223.6,977.8 225.3,971 227,966.7 228.7,963.6 230.4,941.1 232.1,900.9 233.8,860.4 235.5,842 237.2,882 238.9,910.9 240.6,923.5 242.3,923.5 244,929.7 245.7,939.4 247.4,969.2 249.1,969.2 250.8,969.2 252.5,955.1 254.2,954.2 255.9,954.2 257.6,949.4 259.3,949.4 261,914.4 262.7,917 264.4,931.4 266.1,951.1 267.8,951.1 269.5,951.1 271.2,939.2 272.9,985.9 274.6,998.6 276.3,1011.8 278,1011.8 279.7,1015.7 281.4,1015.7 283.1,1015.7 284.8,1015.4 286.5,1015.2 288.2,1017.1 289.9,1019.7 291.6,1021 293.3,1021 295,1021 296.7,1021.8 298.4,1021.8 300.1,1021.8 301.8,1021.5 303.5,1021.5 305.2,1021 306.9,1020.4 308.6,1020.4 310.3,1020.3 312,1020 313.7,1020 315.4,1020 317.1,1020.2 318.8,1020.7 320.5,1020.7 322.2,1020.7 323.9,1021.4 325.6,1021.6 327.3,1021.9 329,1021.9 330.7,1021.9 332.4,1021.9 334.1,1021.9 335.8,1021.7 337.5,1022.4 339.2,1022 340.9,1022.6 342.6,1022.4 344.3,1021.8 346,1021.7 347.7,1022.5 349.4,1022.2 351.1,1021.8 352.8,1021.8 354.5,1021.2 356.2,1022 357.9,1022.3 359.6,1021.6 361.3,1021.4 363,1020.4 364.7,1019.6 366.4,1019.6 368.1,1018.3 369.8,1021.1 371.5,1021.1 373.2,1021.1 374.9,1020.7 376.6,1021 378.3,1021.4 380,1022.3 381.7,1021.8 383.4,1021.7 385.1,1022.1 386.8,1022.1 388.5,1022.1 390.2,1022.1 391.9,1022.5 393.6,1022.3 395.3,1022.3 397,1021.9 398.7,1022.5 400.4,1022.5 402.1,1021.9 403.8,1021.8 405.5,1018.8 407.2,1021.5 408.9,1021.5 410.6,1021.5 412.3,1022.1 414,1022.1 415.7,1022.1 417.4,1022.1 419.1,1022.1 420.8,1022.1 422.5,1022.4 424.2,1022.4 425.9,1022.4 427.6,1021.5 429.3,1021.5 431,1022 432.7,1022 434.4,1022 436.1,1022.4 437.8,1022.4 439.5,1022.4 441.2,1022.3 442.9,1022 444.6,1022.6 446.3,1022.6 448,1022.4 449.7,1022 451.4,1022 453.1,1022 454.8,1021.9 456.5,1021.9 458.2,1021.9 459.9,1021.9 461.6,1022.1 463.3,1022.1 465,1022.3 466.7,1022.3 468.4,1022.3 470.1,1022.1 471.8,1022.6 473.5,1022.7 475.2,1021.9 476.9,1022 478.6,1022 480.3,1022 482,1022.4 483.7,1022.4 485.4,1022.4 487.1,1022.1 488.8,1021.3 490.5,1021.3 492.2,1021.7 493.9,1022.4 495.6,1022.4 497.3,1022.5 499,1022.5 500.7,1022.5 502.4,1022.1 504.1,1022.1 505.8,1021.8 507.5,1022.3 509.2,1022.3 510.9,1022.3 512.6,1021.6 514.3,1021.6 516,1020.9 517.7,1020.9 519.4,1020 521.1,1020 522.8,1020 524.5,1018.6 526.2,1018.6 527.9,1017.6 529.6,1017.6 531.3,1017.6 533,1015.2 534.7,1015.2 536.4,826.3 538.1,838.3 539.8,838.3 541.5,838.3 543.2,813.9 544.9,813.9 546.6,806 548.3,806 550,803.7 551.7,841.9 553.4,870.2 555.1,870.2 556.8,870.2 558.5,868.1 560.2,865.7 561.9,849 563.6,808 565.3,779.4 567,807.1 568.7,839 570.4,852.5 572.1,852.5 573.8,852.5 575.5,838 577.2,805.3 578.9,834 580.6,856.3 582.3,862.1 584,862.1 585.7,862.1 587.4,838.6 589.1,881.8 590.8,919.7 592.5,937.9 594.2,937.9 595.9,937.9 597.6,931.1 599.3,946.2 601,958.2 602.7,958.2 604.4,958.2 606.1,945.2 607.8,945.2 609.5,947.6 611.2,959.1 612.9,959.1 614.6,959.1 616.3,981.5 618,991.6 619.7,991.6 621.4,991.6 623.1,974 624.8,943.9 626.5,924.1 628.2,924.1 629.9,945.9 631.6,966.7 633.3,977.3 635,982.5 636.7,982.5 638.4,982.5 640.1,968.6 641.8,944.2 643.5,920.8 645.2,913.3 646.9,957.7 648.6,957.7 650.3,957.7 652,955 653.7,955 655.4,962.6 657.1,962.6 658.8,962.6 660.5,948.6 662.2,946.8 663.9,929.4 665.6,937.9 667.3,937.9 669,952.1 670.7,979.9 672.4,982.2 674.1,989.7 675.8,989.7 677.5,989.7 679.2,979.4 680.9,967.9 682.6,964.1 684.3,964.1 686,964.1 687.7,942.7 689.4,931 691.1,931 692.8,931 694.5,920.2 696.2,913.6 697.9,943.7 699.6,943.7 701.3,943.7 703,952.1 704.7,952.1 706.4,964.2 708.1,968 709.8,968 711.5,968 713.2,931 714.9,981.6 716.6,1005 718.3,1016.3 720,1017.4 721.7,1019.3 723.4,1020.5 725.1,1022.4 726.8,1022.4 728.5,1022.5 730.2,1022.7 731.9,1022.7 733.6,1022.7 735.3,1022.2 737,1022.8 738.7,1023 740.4,1023 742.1,1023 743.8,1022.5 745.5,1022.5 747.2,1023 748.9,1023 750.6,1023 752.3,1022.6 754,1022.6 755.7,1022.2 757.4,1022.6 759.1,1022.9 760.8,1023 762.5,1023.1 764.2,1023.1 765.9,1023.1 767.6,1023.1 769.3,1023.1 771,1023.1 772.7,1023.1 774.4,1022.8 776.1,1022.8 777.8,1022.8 779.5,1022.8 781.2,1022.8 782.9,1022.8 784.6,1022.8 786.3,1022.7 788,1022.6 789.7,1023 791.4,1023 793.1,1023 794.8,1023 796.5,1023 798.2,1023 799.9,1022 801.6,1022 803.3,1022.3 805,1022.7 806.7,1022.7 808.4,1022.7 810.1,1022.7 811.8,1022.7 813.5,1022.7 815.2,1022.7 816.9,1022.7 818.6,1022.5 820.3,1022.5 822,1022.8 823.7,1022.8 825.4,1022.8 827.1,1022.7 828.8,1022.7 830.5,1022.3 832.2,1022.3 833.9,1022.3 835.6,1022 837.3,1021.8 839,1021.6 840.7,1022.5 842.4,1022.5 844.1,1022.5 845.8,1022.1 847.5,1022.7 849.2,1022.7 850.9,1023.3 852.6,991.7 854.3,961.5 856,920 857.7,935.2 859.4,936.8 861.1,936.8 862.8,936.8 864.5,942.4 866.2,942.4 867.9,942.4 869.6,946.6 871.3,946.6 873,958.3 874.7,958.3 876.4,958.3 878.1,935.9 879.8,943.4 881.5,952.1 883.2,971.2 884.9,971.2 886.6,971.2 888.3,971.4 890,984.8 891.7,984.8 893.4,984.8 895.1,981.9 896.8,981.9 898.5,972.6 900.2,972.6 901.9,964.1 903.6,945.3 905.3,947.3 907,963.8 908.7,963.8 910.4,968.7 912.1,971.9 913.8,971.9 915.5,971.9 917.2,948.1 918.9,948.1 920.6,953.3 922.3,953.3 924,953.3 925.7,970.3 927.4,970.3 929.1,970.3 930.8,968.9 932.5,968.9 934.2,974.2 935.9,974.2 937.6,974.2 939.3,971.2 941,960.2 942.7,961 944.4,971.4 946.1,971.4 947.8,971.7 949.5,971.7 951.2,971.7 952.9,959.2 954.6,952.3 956.3,961.6 958,961.6 959.7,961.6 961.4,959 963.1,972.2 964.8,975.1 966.5,976.1 968.2,988 969.9,988 971.6,988 973.3,985.3 975,972.9 976.7,980.6 978.4,980.6 980.1,980.6 981.8,965.1 983.5,964.2 985.2,974.7 986.9,988.3 988.6,988.3 990.3,988.3 992,980 993.7,980 995.4,975.8 997.1,969.9 998.8,975.1 1000.5,975.1 1002.2,975.1 1003.9,968.7 1005.6,976.4 1007.3,987.3 1009,987.3 1010.7,987.3 1012.4,984.6 1014.1,986.3 1015.8,986.3 1017.5,986.3 1019.2,983.1 1020.9,972.9 1022.6,974.8 1024.3,974.8 1026,974.8 1027.7,971.4 1029.4,971.8 1031.1,973.7 1032.8,973.7 1034.5,975.3 1036.2,975.3 1037.9,981.3 1039.6,981.3 1041.3,983.5 1043,983.5 1044.7,983.5 1046.4,981 1048.1,968.7 1049.8,965.5 1051.5,971.8 1053.2,974.8 1054.9,981.9 1056.6,981.9 1058.3,981.9 1060,977.1 1061.7,977.1 1063.4,977.1 1065.1,968.4 1066.8,966.6 1068.5,966.6 1070.2,966.6 1071.9,976 1073.6,979.9 1075.3,981.8 1077,987.9 1078.7,987.9 1080.4,995.6 1082.1,995.6 1083.8,996.1 1085.5,996.1 1087.2,996.1 1088.9,991.7 1090.6,991.1 1092.3,990.6 1094,996.4 1095.7,996.4 1097.4,1000.7 1099.1,1000.7 1100.8,1000.7 1102.5,999.5 1104.2,999.5 1105.9,989.7 1107.6,988.9 1109.3,988.9 1111,980.9 1112.7,970.5 1114.4,986.6 1116.1,995.4 1117.8,995.4 1119.5,995.4 1121.2,999.7 1122.9,999.7 1124.6,999.7 1126.3,993.8 1128,987 1129.7,990.9 1131.4,990.9 1133.1,990.9 1134.8,990.5 1136.5,986.8 1138.2,986.8 1139.9,987.7 1141.6,989.2 1143.3,989.2 1145,989.2 1146.7,986.8 1148.4,991.2 1150.1,991.2 1151.8,993.1 1153.5,995.8 1155.2,995.8 1156.9,997.6 1158.6,999 1160.3,999 1162,999 1163.7,995.1 1165.4,995.1 1167.1,995.1 1168.8,989.6 1170.5,993.1 1172.2,993.1 1173.9,993.1 1175.6,989.3 1177.3,989.3 1179,987.4 1180.7,987.4 1182.4,986.2 1184.1,987.7 1185.8,993.2 1187.5,993.2 1189.2,993.2 1190.9,992.4 1192.6,992.4 1194.3,990.1 1196,989.4 1197.7,990.4 1199.4,991 1201.1,991.2 1202.8,991.2 1204.5,993.1 1206.2,993.1 1207.9,993.1 1209.6,994.4 1211.3,994.4 1213,994.4 1214.7,989.6 1216.4,991.2 1218.1,991.2 1219.8,991.2 1221.5,986.1 1223.2,980.5 1224.9,978 1226.6,979.3 1228.3,981.8 1230,981.8 1231.7,981.8 1233.4,978.3 1235.1,971.6 1236.8,981 1238.5,989.8 1240.2,989.8 1241.9,989.8 1243.6,988.6 1245.3,988.6 1247,985.3 1248.7,984.8 1250.4,979.6 1252.1,980.3 1253.8,980.3 1255.5,980.3 1257.2,978.9 1258.9,978.9 1260.6,986.7 1262.3,989.8 1264,989.8 1265.7,989.8 1267.4,978.7 1269.1,978 1270.8,978 1272.5,978 1274.2,977.4 1275.9,970.9 1277.6,970.8 1279.3,975.6 1281,987 1282.7,988.6 1284.4,993.4 1286.1,993.4 1287.8,993.4 1289.5,992.8 1291.2,984.4 1292.9,984.4 1294.6,978.5 1296.3,975.1 1298,982.7 1299.7,982.7 1301.4,983.9 1303.1,983.9 1304.8,983.9 1306.5,964.1 1308.2,953.5 1309.9,953.5 1311.6,977.6 1313.3,977.6 1315,979.8 1316.7,981.4 1318.4,981.4 1320.1,981.4 1321.8,987.2 1323.5,987.2 1325.2,987.2 1326.9,977.1 1328.6,975 1330.3,979.5 1332,982.3 1333.7,982.3 1335.4,982.3 1337.1,978.6 1338.8,975.7 1340.5,960.6 1342.2,960.6 1343.9,961.8 1345.6,967.8 1347.3,970.4 1349,976.8 1350.7,976.8 1352.4,976.8 1354.1,969.5 1355.8,969.2 1357.5,960.1 1359.2,969.6 1360.9,969.6 1362.6,977.3 1364.3,978.7 1366,990.3 1367.7,990.3 1369.4,990.3 1371.1,982.6 1372.8,982.8 1374.5,982.8 1376.2,982.8 1377.9,955.1 1379.6,934.6 1381.3,924.8 1383,969 1384.7,973 1386.4,982.4 1388.1,987.6 1389.8,987.6 1391.5,987.6 1393.2,985.4 1394.9,985.4 1396.6,983.2 1398.3,981.2 1400,972.1 1401.7,973.5 1403.4,973.5 1405.1,973.5 1406.8,956.6 1408.5,960 1410.2,966.3 1411.9,966.3 1413.6,966.3 1415.3,957.4 1417,954.2 1418.7,962.6 1420.4,962.6 1422.1,964.9 1423.8,964.9 1425.5,964.9 1427.2,945.7 1428.9,899.1 1430.6,899.1 1432.3,899.1 1434,890.4 1435.7,883.8 1437.4,915 1439.1,925.4 1440.8,925.4 1442.5,942.2 1444.2,942.2 1445.9,942.2 1447.6,945.6 1449.3,945.6 1451,945.6 1452.7,949 1454.4,949 1456.1,949 1457.8,936.7 1459.5,929.5 1459.5,1006.4 1457.8,1006.4 1456.1,1006.4 1454.4,1004.5 1452.7,1004.5 1451,1004.5 1449.3,1006.4 1447.6,1007.2 1445.9,1010.5 1444.2,1007.5 1442.5,1007.5 1440.8,1007.5 1439.1,1005.7 1437.4,1003.1 1435.7,1003.1 1434,1002.1 1432.3,1002.1 1430.6,1002.1 1428.9,1003.3 1427.2,1003.3 1425.5,1004.3 1423.8,1004.3 1422.1,1008.4 1420.4,1008.1 1418.7,1008.1 1417,1008.1 1415.3,1010.1 1413.6,1011.5 1411.9,1011.5 1410.2,1013.1 1408.5,1013.8 1406.8,1013.8 1405.1,1014.5 1403.4,1013.9 1401.7,1013.2 1400,1013.2 1398.3,1013.2 1396.6,1012.9 1394.9,1012 1393.2,1012 1391.5,1012 1389.8,1012 1388.1,1010.8 1386.4,1009.4 1384.7,1009.4 1383,1009.4 1381.3,1007.2 1379.6,1007.2 1377.9,1007.2 1376.2,1010.5 1374.5,1010.5 1372.8,1012.3 1371.1,1012 1369.4,1012 1367.7,1012 1366,1012.8 1364.3,1012.8 1362.6,1014.3 1360.9,1014.3 1359.2,1013.8 1357.5,1013.8 1355.8,1013.1 1354.1,1013.1 1352.4,1013.1 1350.7,1014.7 1349,1014.9 1347.3,1015.4 1345.6,1015.2 1343.9,1013.2 1342.2,1013.2 1340.5,1013.2 1338.8,1014.6 1337.1,1014.9 1335.4,1015.4 1333.7,1013.2 1332,1013.2 1330.3,1013.2 1328.6,1012.3 1326.9,1012.3 1325.2,1012.3 1323.5,1012.5 1321.8,1012.1 1320.1,1012.1 1318.4,1012.1 1316.7,1011.6 1315,1010.9 1313.3,1010.9 1311.6,1010.9 1309.9,1011.6 1308.2,1011.6 1306.5,1011.6 1304.8,1013.9 1303.1,1013.9 1301.4,1013.9 1299.7,1014 1298,1016.5 1296.3,1016.2 1294.6,1016.1 1292.9,1016.1 1291.2,1015.6 1289.5,1015.6 1287.8,1015.6 1286.1,1016.7 1284.4,1016.7 1282.7,1016.7 1281,1017.2 1279.3,1017.6 1277.6,1015.2 1275.9,1015.2 1274.2,1015.2 1272.5,1017.5 1270.8,1016.9 1269.1,1016.9 1267.4,1016.9 1265.7,1017.3 1264,1017.3 1262.3,1017.3 1260.6,1019.7 1258.9,1017 1257.2,1017 1255.5,1017 1253.8,1018.7 1252.1,1017 1250.4,1017 1248.7,1017 1247,1016.8 1245.3,1016.8 1243.6,1016.8 1241.9,1017.7 1240.2,1018.2 1238.5,1019.3 1236.8,1015.9 1235.1,1015.9 1233.4,1015.9 1231.7,1018.2 1230,1018.2 1228.3,1017.7 1226.6,1017.7 1224.9,1016.9 1223.2,1016.9 1221.5,1016.9 1219.8,1017.3 1218.1,1017.3 1216.4,1017.1 1214.7,1017.1 1213,1017.1 1211.3,1018.4 1209.6,1016.6 1207.9,1016.6 1206.2,1016.6 1204.5,1017.9 1202.8,1018.2 1201.1,1016.6 1199.4,1016.6 1197.7,1016.6 1196,1016.4 1194.3,1016.4 1192.6,1016.1 1190.9,1016.1 1189.2,1016.1 1187.5,1017.4 1185.8,1016.2 1184.1,1015.7 1182.4,1015.7 1180.7,1015.7 1179,1015.9 1177.3,1015.9 1175.6,1015.9 1173.9,1017.4 1172.2,1017.3 1170.5,1017.3 1168.8,1016.8 1167.1,1016.8 1165.4,1016.5 1163.7,1016.5 1162,1016.5 1160.3,1017.5 1158.6,1017.8 1156.9,1017 1155.2,1017 1153.5,1016.4 1151.8,1016.4 1150.1,1016.4 1148.4,1016.3 1146.7,1016.3 1145,1016.3 1143.3,1017.1 1141.6,1017.6 1139.9,1015.5 1138.2,1015.5 1136.5,1015.2 1134.8,1015.2 1133.1,1015.2 1131.4,1014.2 1129.7,1013.7 1128,1013.7 1126.3,1013.7 1124.6,1012.1 1122.9,1012.1 1121.2,1012.1 1119.5,1013.4 1117.8,1013.4 1116.1,1013.4 1114.4,1013.4 1112.7,1014 1111,1014 1109.3,1014 1107.6,1015.1 1105.9,1015.1 1104.2,1016.8 1102.5,1016.8 1100.8,1018.8 1099.1,1018.3 1097.4,1017.1 1095.7,1017.1 1094,1017.1 1092.3,1017.2 1090.6,1017.2 1088.9,1017.2 1087.2,1016 1085.5,1016 1083.8,1016 1082.1,1015.5 1080.4,1015.5 1078.7,1015.1 1077,1015.1 1075.3,1015.1 1073.6,1014.8 1071.9,1014.8 1070.2,1014.8 1068.5,1014.6 1066.8,1014.6 1065.1,1014.6 1063.4,1015.7 1061.7,1015.7 1060,1015.3 1058.3,1014.7 1056.6,1014.7 1054.9,1014 1053.2,1014 1051.5,1014 1049.8,1015.4 1048.1,1016.6 1046.4,1016.1 1044.7,1015.8 1043,1015.8 1041.3,1013.4 1039.6,1013.4 1037.9,1013.3 1036.2,1013.3 1034.5,1013.3 1032.8,1013.5 1031.1,1013.5 1029.4,1012.4 1027.7,1012.4 1026,1012.4 1024.3,1013.4 1022.6,1011.9 1020.9,1011.9 1019.2,1011.9 1017.5,1013.2 1015.8,1013.2 1014.1,1013.6 1012.4,1015.2 1010.7,1014.7 1009,1014.7 1007.3,1014.7 1005.6,1015.8 1003.9,1015.8 1002.2,1015.6 1000.5,1014.2 998.8,1014.2 997.1,1014.2 995.4,1015 993.7,1015 992,1015.1 990.3,1015.1 988.6,1016.8 986.9,1016.9 985.2,1014.5 983.5,1014.5 981.8,1014.5 980.1,1013.1 978.4,1013.1 976.7,1013.1 975,1013.7 973.3,1014.5 971.6,1014.1 969.9,1014.1 968.2,1014.1 966.5,1015.8 964.8,1015.8 963.1,1015.3 961.4,1015.2 959.7,1015.2 958,1014.7 956.3,1014.7 954.6,1014.7 952.9,1014.7 951.2,1015 949.5,1014.4 947.8,1014.4 946.1,1014.4 944.4,1016.2 942.7,1015.6 941,1014.2 939.3,1011.6 937.6,1011.6 935.9,1011.6 934.2,1013.1 932.5,1013.1 930.8,1015.1 929.1,1011.2 927.4,1009.6 925.7,1009.6 924,1008.9 922.3,1008.9 920.6,1008.9 918.9,1008.9 917.2,1008.9 915.5,1007.3 913.8,1007 912.1,1007 910.4,1002.4 908.7,1002.4 907,1002.4 905.3,1003 903.6,1003 901.9,1005.4 900.2,1005.6 898.5,1005.6 896.8,1009.1 895.1,1010.8 893.4,1013.6 891.7,1013.8 890,1016.3 888.3,1014.2 886.6,1014.2 884.9,1014.2 883.2,1014.9 881.5,1013.9 879.8,1013.9 878.1,1013.9 876.4,1011.7 874.7,1009.9 873,1009.9 871.3,1009.9 869.6,1012 867.9,1001.4 866.2,996.2 864.5,995.8 862.8,995.8 861.1,995.8 859.4,999.3 857.7,1000.4 856,1010.4 854.3,1017.7 852.6,991.7 850.9,1023.3 849.2,1023.4 847.5,1023.4 845.8,1024 844.1,1024 842.4,1023.1 840.7,1023.1 839,1023.1 837.3,1023.8 835.6,1023.8 833.9,1023.8 832.2,1024 830.5,1023.9 828.8,1023.9 827.1,1023.7 825.4,1023.7 823.7,1023.4 822,1023.3 820.3,1023.3 818.6,1023.3 816.9,1023.5 815.2,1023.5 813.5,1023.2 811.8,1023.2 810.1,1023.2 808.4,1023.3 806.7,1023.3 805,1023.4 803.3,1024.1 801.6,1023.5 799.9,1023.3 798.2,1023.3 796.5,1023.3 794.8,1023.8 793.1,1023.8 791.4,1023.4 789.7,1023.2 788,1023.2 786.3,1023.2 784.6,1023.2 782.9,1023.2 781.2,1023.2 779.5,1023.4 777.8,1023.4 776.1,1023.7 774.4,1023.2 772.7,1023.2 771,1023.2 769.3,1023.2 767.6,1023.2 765.9,1023.9 764.2,1024.4 762.5,1023.7 760.8,1023.7 759.1,1023.7 757.4,1023.5 755.7,1023.5 754,1023.5 752.3,1024 750.6,1024 748.9,1024.4 747.2,1023.5 745.5,1023.5 743.8,1023.5 742.1,1023.5 740.4,1024 738.7,1023.5 737,1023.2 735.3,1023.2 733.6,1023.2 731.9,1024 730.2,1024.1 728.5,1024.1 726.8,1024.1 725.1,1024 723.4,1023 721.7,1022.4 720,1022.3 718.3,1021.9 716.6,1016.6 714.9,1016.6 713.2,1016.6 711.5,1014.3 709.8,1014.3 708.1,1012.7 706.4,1012.7 704.7,1012.7 703,1016.1 701.3,1015.9 699.6,1013.2 697.9,1013.2 696.2,1009.4 694.5,1009.4 692.8,1009.4 691.1,1008.9 689.4,1007 687.7,1006 686,1006 684.3,1006 682.6,1007.9 680.9,1011.3 679.2,1012.4 677.5,1016.8 675.8,1014.5 674.1,1011.6 672.4,1011.3 670.7,1010.5 669,1010.5 667.3,1009.2 665.6,1009.2 663.9,1009.2 662.2,1010.2 660.5,1010.2 658.8,1012.6 657.1,1011.7 655.4,1011.7 653.7,1011.7 652,1013.4 650.3,1013.4 648.6,1013.4 646.9,1012.3 645.2,1012.3 643.5,1012 641.8,1012 640.1,1010.8 638.4,1010.8 636.7,1010.8 635,1011.5 633.3,1010 631.6,1003.8 629.9,1003.8 628.2,1003.8 626.5,1005.4 624.8,1006.7 623.1,1009.1 621.4,1015.8 619.7,1015.4 618,1015.4 616.3,1015.4 614.6,1018.3 612.9,1011.9 611.2,1011.9 609.5,1011.9 607.8,1012.2 606.1,1012.2 604.4,1012.2 602.7,1006.9 601,1006.9 599.3,1006.9 597.6,1006.9 595.9,1003 594.2,1001.7 592.5,1000.7 590.8,997.4 589.1,996.7 587.4,996.7 585.7,996.7 584,1002 582.3,1002.7 580.6,1004.4 578.9,1004.4 577.2,1007.8 575.5,1007.8 573.8,1010.8 572.1,1010.4 570.4,1010.4 568.7,1010.4 567,1011.8 565.3,1011.8 563.6,1011.8 561.9,1010.6 560.2,1010.3 558.5,1010.3 556.8,1010.3 555.1,1010.6 553.4,1010.8 551.7,1011.6 550,1012.4 548.3,1012.6 546.6,1009.3 544.9,1009.3 543.2,1009.3 541.5,1009.4 539.8,1010.5 538.1,1014.2 536.4,1015.3 534.7,1018 533,1018 531.3,1022 529.6,1022 527.9,1022 526.2,1022.4 524.5,1022.4 522.8,1022.4 521.1,1022.8 519.4,1022.8 517.7,1022.8 516,1022.8 514.3,1022.4 512.6,1022.4 510.9,1022.4 509.2,1022.7 507.5,1022.7 505.8,1022.7 504.1,1023.2 502.4,1022.6 500.7,1022.6 499,1022.6 497.3,1022.5 495.6,1022.5 493.9,1022.5 492.2,1022.9 490.5,1023.5 488.8,1023.1 487.1,1022.6 485.4,1022.6 483.7,1022.5 482,1022.5 480.3,1022.5 478.6,1023.1 476.9,1022.5 475.2,1021.9 473.5,1022.7 471.8,1022.9 470.1,1023.3 468.4,1023.3 466.7,1023.3 465,1022.5 463.3,1022.5 461.6,1022.4 459.9,1022.4 458.2,1022.4 456.5,1022.6 454.8,1022.4 453.1,1022.4 451.4,1022.4 449.7,1022.6 448,1022.4 446.3,1022.9 444.6,1022.7 442.9,1022.6 441.2,1022.6 439.5,1022.6 437.8,1023.2 436.1,1022.7 434.4,1022.7 432.7,1022.7 431,1023.4 429.3,1023.2 427.6,1023.2 425.9,1023.2 424.2,1023.4 422.5,1022.9 420.8,1022.9 419.1,1022.9 417.4,1023.2 415.7,1022.5 414,1022.5 412.3,1022.5 410.6,1023.3 408.9,1023.3 407.2,1023.1 405.5,1022.8 403.8,1022.6 402.1,1022.6 400.4,1022.6 398.7,1022.7 397,1021.9 395.3,1022.4 393.6,1022.4 391.9,1022.5 390.2,1022.1 388.5,1022.1 386.8,1022.1 385.1,1022.7 383.4,1021.9 381.7,1021.8 380,1022.3 378.3,1021.4 376.6,1021.7 374.9,1022.4 373.2,1022.4 371.5,1021.5 369.8,1021.5 368.1,1021.5 366.4,1022 364.7,1022 363,1022.2 361.3,1021.9 359.6,1021.6 357.9,1022.3 356.2,1022.2 354.5,1022.1 352.8,1021.8 351.1,1021.8 349.4,1022.2 347.7,1022.5 346,1021.7 344.3,1022.2 342.6,1022.5 340.9,1022.6 339.2,1022 337.5,1022.4 335.8,1021.7 334.1,1022 332.4,1022 330.7,1022.7 329,1021.9 327.3,1021.9 325.6,1021.6 323.9,1021.6 322.2,1021.6 320.5,1021.6 318.8,1022.1 317.1,1021.8 315.4,1021.8 313.7,1021.8 312,1021.7 310.3,1021.6 308.6,1021.6 306.9,1021.6 305.2,1021.6 303.5,1021.6 301.8,1021.8 300.1,1022 298.4,1021.9 296.7,1021.9 295,1021.5 293.3,1021.5 291.6,1021.1 289.9,1021 288.2,1021 286.5,1021 284.8,1021 283.1,1020.8 281.4,1020 279.7,1020 278,1019.5 276.3,1017.5 274.6,1017.1 272.9,1017.1 271.2,1017.1 269.5,1016.2 267.8,1013.1 266.1,1010.7 264.4,1003.4 262.7,1003.4 261,1003.4 259.3,1005.8 257.6,1005.8 255.9,1005.8 254.2,1008.2 252.5,1008.2 250.8,1008.2 249.1,1010.2 247.4,1010.1 245.7,1010.1 244,1010.1 242.3,1011.7 240.6,1014.6 238.9,1013.9 237.2,1010.9 235.5,1010.9 233.8,1008.7 232.1,1008.7 230.4,1008.7 228.7,1009.2 227,1010.6 225.3,1013.7 223.6,1014.3 221.9,1014.3 220.2,1016.5 218.5,1016.5 216.8,1014 215.1,1011.3 213.4,1008.2 211.7,1008.2 210,1008.2 208.3,1009 206.6,1010.1 204.9,1010.1 203.2,1017.1 201.5,1018.1 199.8,1016.9 198.1,1016.9 196.4,1016.9 194.7,1016.4 193,1013.1 191.3,1012.4 189.6,1012.4 187.9,1012.4 186.2,1013.7 184.5,1013.7 182.8,1016.7 181.1,1014.9 179.4,1014.8 177.7,1009.3 176,1009.3 174.3,1006.2 172.6,1006.2 170.9,1005.4 169.2,1005.4 167.5,1005.4 165.8,1005.8 164.1,1007.2 162.4,1007.2 160.7,1008.5 159,1006.3 157.3,1006.3 155.6,1006.3 153.9,1009.8 152.2,1009 150.5,1006.8 148.8,1006.8 147.1,1006.8 145.4,1008.5 143.7,1008.5 142,1009 140.3,1010 138.6,1012.9 136.9,1014.2 135.2,1016.2 133.5,1019.7 131.8,1019.9 130.1,1019.7 128.4,1015.6 126.7,1015.6 125,1015.6 123.3,1015.6 121.6,1012.8 119.9,1011.8 118.2,1011.8Z" fill="#1f77b4" stroke="#1f77b4" stroke-width="5.4" stroke-linejoin="round"/>
<path d="M542,626.3h0M542.6,630h0M543.2,643.8h0M542.3,646h0M542.9,663.4h0M542,669.3h0M542.6,689.2h0M543.2,702.3h0M542.3,718.5h0M542.9,741.4h0M542,747h0M542.6,750h0M543.2,753h0M542.3,756h0M542.9,759h0M542,762h0M542.6,765h0M543.2,768h0M542.3,771h0M542.9,774h0M542,777h0M542.6,780h0M543.2,783h0M542.3,786h0M542.9,789h0M550.9,696h0M551.5,700.6h0M552.1,710.4h0M551.2,714h0M551.8,733.8h0M550.9,758.4h0M551.5,779h0M552.1,782h0M551.2,785h0M551.8,788h0M550.9,791h0M551.5,794h0M552.1,797h0M551.2,800h0M564.9,727h0M565.5,732h0M566.1,742h0M565.2,750h0M565.8,753h0M564.9,756h0M565.5,759h0M566.1,762h0M565.2,765h0M565.8,768h0M564.9,771h0M565.5,774h0M566.1,777h0M565.2,780h0M565.8,783h0M564.9,786h0M565.5,789h0M566.1,792h0M565.2,795h0M565.8,798h0M564.9,801h0M565.5,804h0M566.1,807h0M565.2,810h0M565.8,813h0M564.9,816h0M565.5,819h0M566.1,822h0M565.2,825h0M565.8,828h0M564.9,831h0M565.5,834h0M575.8,596.8h0M576.4,600.8h0M577,603.8h0M576.1,610h0M576.7,615h0M575.8,624.8h0M576.4,630h0M577,643.8h0M576.1,649.7h0M576.7,669.3h0M575.8,671h0M576.4,695h0M577,700h0M576.1,719.6h0M576.7,741h0M575.8,745h0M576.4,755h0M577,758h0M576.1,761h0M576.7,764h0M575.8,767h0M576.4,770h0M577,773h0M576.1,776h0M576.7,779h0M575.8,782h0M576.4,785h0M577,788h0M576.1,791h0M576.7,794h0M575.8,797h0M576.4,800h0M577,803h0M576.1,806h0M576.7,809h0M575.8,812h0M576.4,815h0M577,818h0M576.1,821h0M576.7,824h0M575.8,827h0M576.4,830h0M577,833h0M587.6,815h0M588.2,822h0M588.8,828h0M626.2,828h0M696.8,752.3h0M697.4,764h0M698,782.3h0M697.1,785h0M697.7,806.9h0M696.8,812.3h0M697.4,833.4h0M698,845.1h0M697.1,859.3h0M697.7,874.3h0M696.8,880.6h0M697.4,886h0M698,891.5h0M697.1,897h0M697.7,903.8h0M856.5,742h0M857.1,746h0M857.7,752h0M856.8,759h0M857.4,767.3h0M856.5,788.6h0M857.1,803h0M857.7,807h0M856.8,811h0M857.4,826.5h0M856.5,836h0M857.1,845h0M857.7,850h0M856.8,855h0M857.4,860h0M856.5,865h0M857.1,868h0M857.7,880.6h0M856.8,889h0M857.4,893h0M856.5,897h0M857.1,905h0M1020.4,933.8h0M1020.4,947.5h0M1370.5,975h0M1370.5,981h0M120.1,931.1h0M119.4,935.2h0M119.9,937.8h0M119.4,940.3h0M119.6,944h0M119.6,947.5h0M119.8,955.8h0M121.9,1016.5h0M123.7,962.2h0M123,965.7h0M123.2,968.6h0M125.4,1017.2h0M126.6,970.3h0M127.8,973.3h0M128.6,978.2h0M128.2,1019.7h0M132.2,1022.5h0M134,976.9h0M133.2,981.8h0M134.6,1019.7h0M136.9,968.6h0M136.5,973.4h0M136.5,1016.2h0M140.2,966.8h0M139.8,1012.9h0M144.1,951.1h0M143.5,956.1h0M143.7,964.3h0M145,927.6h0M145.2,932.2h0M144.9,936.2h0M145.1,939.4h0M146,942.9h0M146,947.4h0M146.9,1008.8h0M149.1,910.6h0M148.2,914.7h0M149,917.9h0M148.5,922.1h0M149.3,926.8h0M149.2,930.8h0M149.3,935.7h0M148.5,939.3h0M151,1009h0M151.9,931.4h0M152.7,934.2h0M152.5,937.7h0M153.8,930.1h0M153.9,933.8h0M153.7,938h0M153.9,942.9h0M153.6,1012.9h0M156.1,1010.9h0M157.7,934.8h0M157.6,938.6h0M157.7,941.7h0M157.8,945.4h0M158.7,921h0M158.7,929.9h0M158.8,932.5h0M159.4,1008.5h0M160.3,871h0M160.4,874.8h0M160.5,879h0M160.7,882.9h0M160.2,885.9h0M160.5,890.2h0M160.7,894.3h0M160.3,898.2h0M160.3,903.1h0M161.1,907.9h0M161.1,910.9h0M161,914.8h0M161,918.9h0M160.7,1011.3h0M162.2,830.1h0M162.2,833.7h0M162,838.1h0M162.4,841.6h0M162,844.2h0M162.7,847.9h0M162,860.3h0M162.7,864.6h0M162.5,868.5h0M161.8,871h0M162.6,876h0M162.2,879.1h0M162.5,887.2h0M162.5,891.8h0M162.3,896.3h0M162.9,900.9h0M162.6,905.2h0M162.7,1014.3h0M162.2,1009.8h0M164.4,908h0M164,915.5h0M163.6,921.3h0M164.5,925.9h0M164.4,929h0M164.1,932.8h0M164.1,935.9h0M165.6,939.7h0M166.3,943.3h0M166.4,947.9h0M165.5,1009.2h0M169.6,947.9h0M173,938h0M172.4,941h0M174,921.8h0M174,924.8h0M174.5,928.7h0M173.9,932.4h0M174,1012.1h0M174.8,1009h0M175.8,904.1h0M176.5,907.4h0M175.8,911.4h0M176.4,914.7h0M175.7,919.5h0M177.5,896.9h0M177.2,900.2h0M177.2,904h0M177.4,909h0M177.5,916.1h0M178,920.5h0M177.7,924.8h0M178.1,931.6h0M178,937.8h0M177.2,941.8h0M177.8,1014.8h0M179.3,951.9h0M178.9,955.5h0M179.6,960.2h0M179,962.8h0M179.9,966.2h0M179.3,969.8h0M180.6,973.7h0M180.7,977.9h0M181.5,987h0M181.2,994.5h0M181.3,1018.4h0M184.6,989.5h0M184.4,992.9h0M185,1016.7h0M186.6,988.5h0M188.4,990.1h0M187.3,1014.9h0M191.2,988.9h0M192.5,986.3h0M193.5,1016.4h0M194.7,981.2h0M194.2,1018h0M198,973.5h0M198.2,976.9h0M201.2,970.7h0M203.5,931.6h0M203.8,942.8h0M202.7,946.2h0M203,949.7h0M203.2,960.8h0M203.4,964.7h0M203.5,967.8h0M203.8,1019.8h0M204.3,922.7h0M204.5,926.4h0M205.4,930h0M205.2,1017.1h0M205.4,1014.4h0M206,906.5h0M207.1,909.7h0M206.9,913.3h0M206.7,917.6h0M206.2,922h0M206.7,924.6h0M206.1,929.3h0M208.7,1012.9h0M210.3,907.4h0M210.5,918.4h0M209.9,921.4h0M209.9,926.3h0M209.5,929h0M211.5,841h0M211.7,846.9h0M211.3,850.8h0M212.3,854.8h0M211.4,858.4h0M211.5,862.6h0M211.6,867.2h0M211.4,869.9h0M211.7,874.9h0M212.2,889.7h0M212.1,894.2h0M211.8,897.7h0M211.9,902.3h0M212.8,790.5h0M213.4,795.3h0M213.5,798.4h0M214,805.1h0M213.7,807.9h0M213.7,812.9h0M213.8,816.9h0M213.5,820.7h0M213.5,824.2h0M213.4,828.1h0M212.9,831.6h0M213.5,834.3h0M213,836.9h0M212.8,839.9h0M213.8,842.9h0M213.4,847.4h0M213.7,851.9h0M213.5,860.3h0M213.2,864.5h0M212.9,867.1h0M212.9,871h0M213.1,874.4h0M212.9,879.2h0M213.1,889h0M213.4,1011.3h0M215,892.6h0M214.6,895.2h0M214.9,898h0M214.8,900.9h0M214.9,905.8h0M215.6,908.4h0M215,911.5h0M214.8,917.9h0M215.1,921.4h0M215,928.7h0M215.7,1014h0M217.1,930.5h0M216.8,934.6h0M216.9,937.6h0M216.7,940.5h0M216.6,944h0M216.6,947.4h0M216.2,1017.1h0M218.9,951.8h0M219,955.5h0M219,1019.8h0M219.8,961h0M220.5,969.2h0M220.5,973.9h0M221.6,1017.2h0M223.2,971h0M225,966.7h0M227.6,963.6h0M227.1,1013.7h0M228.7,941.1h0M228.9,943.7h0M228.8,947.5h0M228.5,950h0M228.4,953.7h0M228.5,961.5h0M230.8,900.9h0M230.3,904.6h0M230.6,909h0M229.8,912.4h0M230.1,916.8h0M229.9,924.4h0M230,927.4h0M230.5,930.4h0M230.6,934.2h0M230.4,939.2h0M231.9,860.4h0M232,865.2h0M232.5,872.1h0M232.2,879.9h0M232.5,886.9h0M232,896h0M234.2,834.3h0M234.3,837h0M234.2,840.6h0M234.1,844.8h0M233.5,848.8h0M233.2,852.3h0M233.5,856.6h0M234.1,1011.1h0M237.3,800h0M236.9,803.3h0M237.2,807.1h0M237.2,811.8h0M237.2,815.3h0M236.9,818h0M237.3,824h0M237.2,827.4h0M237.1,831.1h0M237,835h0M237.5,839.3h0M237.8,842.8h0M236.7,847h0M236.8,851.2h0M237.7,855.7h0M236.8,859.2h0M237.8,861.7h0M236.8,865.2h0M236.9,869.6h0M237.3,874.1h0M237.3,1013.9h0M238.7,882h0M239,889.3h0M239,893h0M239.1,898h0M238.5,902.3h0M239.1,905.5h0M238.8,908.8h0M238.9,1017h0M240.9,910.9h0M240.7,915.8h0M241,918.5h0M242.6,1015.2h0M243.8,903.8h0M243.7,907.5h0M244.3,912.2h0M243.6,916.9h0M243.9,927.9h0M244.1,1011.7h0M245.5,929.7h0M245.9,933.2h0M247.7,939.4h0M247.7,943.1h0M247.5,947.1h0M247.1,950.7h0M248,955.7h0M247.3,959.2h0M246.8,963.6h0M247.4,966.6h0M247.5,1013.3h0M251.3,955.1h0M250.3,957.8h0M250.2,961.9h0M251,964.9h0M250.5,1012.7h0M252.7,939.2h0M252.9,942.9h0M252.3,947.3h0M252.7,951.5h0M256.2,946.6h0M255.8,949.7h0M255.4,1008.3h0M259.4,914.4h0M258.8,918.5h0M258.9,922.4h0M258.8,931.5h0M259.1,936.4h0M258.8,940h0M258.8,1008.3h0M261.3,894.2h0M260.7,898h0M260.7,900.8h0M260.5,906.9h0M261.3,911.2h0M261.3,1007.9h0M262.5,912.8h0M263.8,917h0M264.9,921.6h0M264.7,925h0M264.2,927.9h0M263.9,1010.7h0M263.9,1007.5h0M266,931.4h0M265.8,935.3h0M265.6,940h0M266.1,945.7h0M265.6,949h0M266.3,1013.1h0M267.8,1016.2h0M269.1,924.5h0M268.9,927.7h0M270,931.5h0M269.5,934.5h0M269.5,937.3h0M268.9,946.9h0M269.8,1019.8h0M271.5,920.1h0M271,924.3h0M271.7,930.6h0M271.7,935.3h0M273.1,939.2h0M273.5,942h0M273.1,946.4h0M273.4,950.9h0M272.6,955.2h0M272.4,959.7h0M273.3,963.3h0M272.9,967.9h0M272.4,972.2h0M272.3,974.8h0M272.3,977.5h0M274.6,985.9h0M275,989.4h0M274.1,992h0M274.2,995.4h0M276.7,998.6h0M276.8,1001.9h0M275.8,1008.2h0M276.1,1019.5h0M279.6,1011.8h0M288.8,1014.3h0M290,1017.1h0M310.5,1018.4h0M354.8,1019h0M366.6,1016.5h0M368.5,1015.1h0M369.4,1018.3h0M404,1018.8h0M406,1015.7h0M406.7,1018h0M523.3,1017.2h0M525.9,1015h0M528.4,1015h0M531.2,1013.5h0M532.7,1023.9h0M532.8,1019.7h0M534.7,817.4h0M534.9,821.6h0M534.2,824.5h0M535.3,831.7h0M535.1,837.2h0M534.5,840.6h0M534.1,843.8h0M534.5,847.7h0M534.4,851.4h0M534.1,854.4h0M534.2,857.5h0M535.1,860.1h0M535.1,863.9h0M535,868.2h0M534.3,871.6h0M535,874.1h0M534.9,878.7h0M534.6,882.7h0M534.9,885.5h0M534.9,888.1h0M535.3,890.7h0M534.1,894.5h0M534.4,898.9h0M535.1,901.5h0M534.9,904.8h0M534.3,907.8h0M535.2,912.3h0M534.6,915.9h0M534.5,919.5h0M534.3,922h0M534.7,924.9h0M534.5,928h0M534.1,932.8h0M534.1,937.4h0M534.6,941.4h0M534.4,945.6h0M534.5,949.7h0M535,958.5h0M534.2,962.3h0M534.9,966.9h0M535.1,971.3h0M534.2,975.6h0M534.5,979.9h0M535.2,983.2h0M534.3,991h0M534.6,995.1h0M534.5,1003.9h0M535.3,1008.6h0M535.3,1013.1h0M535.9,1020h0M538.1,788.8h0M538.7,792.6h0M537.5,796.9h0M537.8,800.5h0M537.9,810h0M537.6,812.5h0M537.7,817.4h0M538.2,821.7h0M538.6,824.7h0M538.6,829.4h0M538,832.5h0M538.1,835.5h0M539.8,1014.2h0M541.6,749.8h0M541.2,754.2h0M542,757.6h0M541.3,762.6h0M541.2,770.5h0M542,773.7h0M541.9,776.5h0M541.2,780.8h0M541.4,783.8h0M541.6,788h0M541,793.3h0M541.9,800.8h0M541.1,805.2h0M541.4,808.8h0M541.3,813.4h0M541.9,822.3h0M541.3,824.9h0M541.2,832.8h0M541.6,836h0M544.8,749.8h0M545.1,753.9h0M544.5,758.7h0M544.5,762.4h0M544.8,765.6h0M544.6,773.2h0M545.2,776.1h0M545.4,778.8h0M545,782h0M544.4,786.6h0M544.5,790.2h0M544.4,798.8h0M544.7,802.3h0M544.7,806.4h0M545.3,809.3h0M546.3,1012.6h0M548.1,803.7h0M547.8,1017h0M549.9,780.6h0M549.6,785h0M549.7,789.6h0M549.5,793.7h0M550,797.9h0M550.5,800.8h0M551.6,759.1h0M551.3,761.9h0M551.7,765.3h0M551.1,769.4h0M552.1,773.1h0M551.5,777.2h0M552.2,779.8h0M551.5,783.3h0M551.2,785.8h0M551.2,790.3h0M551.6,796.3h0M552.3,804.6h0M552.1,807.6h0M551.4,811.1h0M552.1,815.4h0M551.4,820.2h0M551.8,824.5h0M551.8,828h0M551.8,832.6h0M552,837.1h0M553.6,841.9h0M552.9,846.2h0M553.7,850.2h0M552.9,852.8h0M553.2,855.3h0M553.8,858.1h0M553.9,862.2h0M554,867.1h0M556.2,868.1h0M558.1,865.7h0M559.8,849h0M560.7,853.8h0M560.5,857.9h0M560,860.5h0M561.8,808h0M561.9,813.8h0M562,816.3h0M562.5,819.5h0M562.4,825.5h0M562.1,833.6h0M562,836.6h0M562,840.7h0M561.5,844.3h0M562.4,1014.5h0M563.3,779.4h0M563.7,782.5h0M563.6,786.3h0M563.4,789.4h0M563.3,793.7h0M563.7,796.2h0M563.4,800.3h0M563.6,1017h0M563.2,1013.8h0M565.1,752.8h0M565.8,755.8h0M565.7,760.4h0M565,764.6h0M564.8,767.9h0M565.5,771.8h0M565.5,774.4h0M566.8,752.8h0M567.5,757.1h0M566.8,760.1h0M567.1,765h0M567.5,767.7h0M566.5,778.7h0M567,781.4h0M567.4,784.4h0M567.3,788.1h0M567.4,792.3h0M567.1,796.7h0M567.3,799.7h0M567.1,803.7h0M566.7,1015.7h0M569.2,807.1h0M568.1,811.8h0M569,820.2h0M568.3,828h0M568.2,835.6h0M568.7,1014h0M570.9,839h0M570.9,843.5h0M569.9,847.4h0M570.4,850.9h0M573.3,838h0M573.8,845.7h0M573.9,849.6h0M574.2,1012.4h0M575.5,757.7h0M575.8,765.9h0M576,769h0M575.8,771.7h0M575.4,774.8h0M575.7,779.1h0M575,782h0M575.1,786.2h0M575.8,788.7h0M575.1,798.3h0M575,800.9h0M575.6,804.5h0M575.8,807.4h0M576,814.9h0M575.5,818.1h0M576,825.6h0M576,832.2h0M575.5,836.4h0M575.4,1011.5h0M577.5,757.7h0M577.2,760.3h0M576.6,764.7h0M577.2,772.9h0M576.8,776.4h0M577.2,790.6h0M577.8,793.9h0M576.8,796.8h0M578.6,805.3h0M579.4,809.6h0M579.2,819.1h0M578.6,823.4h0M579.3,826.7h0M579.1,829.6h0M578.6,1008.5h0M580.3,834h0M580.4,837.3h0M580.7,841.3h0M580.1,844.6h0M580.8,849.6h0M582.4,856.3h0M582.8,858.9h0M582.2,1004.4h0M586,838.6h0M586.1,843.2h0M585.5,846.6h0M586.2,849.7h0M585.4,852.4h0M585.8,855.9h0M585.2,860h0M585.2,1002h0M587.6,816.4h0M586.9,821h0M587.9,824.7h0M587.6,834.1h0M587.7,836.9h0M589.5,837.5h0M588.8,841h0M589.2,843.8h0M589,848h0M588.8,851.6h0M588.8,856.4h0M588.8,859.5h0M589.1,863.1h0M588.6,865.9h0M588.8,870h0M589.6,874.7h0M589.4,877.9h0M590.7,881.8h0M590.3,886.5h0M591.3,889.3h0M590.5,893.8h0M590.7,896.8h0M590.6,901.6h0M590.9,911.4h0M590.3,914.2h0M590.8,1000.7h0M592.3,919.7h0M591.9,923.4h0M592.1,926.2h0M592.2,930.8h0M592.1,934.7h0M595.3,931.1h0M595.8,933.6h0M595.5,1006.9h0M597.5,925.2h0M598.1,1008.8h0M598.9,921.5h0M599.9,925h0M599.7,928.6h0M599.8,933.3h0M599,936.5h0M599.1,941h0M600.4,946.2h0M600.7,948.8h0M603.1,1012.5h0M604.2,937.1h0M604.1,944.7h0M604,949.5h0M603.9,954h0M608,942.2h0M607.7,1013.8h0M609.1,914.7h0M609.3,919.1h0M609.3,921.7h0M610,936.9h0M610.1,939.9h0M609.1,1016h0M611.4,947.6h0M610.6,950.8h0M611.8,953.7h0M613.1,1018.4h0M612.7,1014.2h0M614.1,951.5h0M614.4,956.5h0M616.5,946.1h0M616.1,950.6h0M616.8,954.3h0M616.7,956.9h0M616.9,968.8h0M616.1,971.6h0M616,975.7h0M615.8,1018.4h0M617.9,981.5h0M618.1,984.3h0M621.8,974h0M621.3,978.2h0M622,982.8h0M621.8,986.2h0M621.2,1018.4h0M623,943.9h0M623.3,948.6h0M623.4,952.1h0M622.5,958.8h0M622.9,961.7h0M623.2,966.1h0M622.8,968.7h0M622.5,972.4h0M623,1015.8h0M622.6,1012.3h0M625.1,917.9h0M625.3,922.6h0M624.6,927.5h0M624.7,930.3h0M624.7,934.4h0M624.3,936.9h0M625,940.6h0M624.3,1009.1h0M626.7,830.1h0M626.2,832.6h0M626.8,836.6h0M626.8,841h0M626.4,844.8h0M626.4,850.3h0M627,855.1h0M626.7,861.9h0M626.7,866.5h0M626,869.1h0M626.3,873.8h0M626.3,877.3h0M626,881.7h0M627.1,888.3h0M625.9,897.6h0M626.6,901.6h0M626.8,909.8h0M626.4,912.8h0M626.3,915.4h0M626.8,918.2h0M626.6,921.6h0M628.3,1005.4h0M630.2,916.8h0M630.2,919.7h0M630,926.8h0M629.4,929.8h0M630.4,934.6h0M629.5,938.6h0M631.6,945.9h0M631.8,948.6h0M631.1,953.1h0M631.3,956.5h0M631.8,961.4h0M632,964.6h0M632,1010h0M632.9,966.7h0M633.5,969.7h0M633.5,973.7h0M634.6,977.3h0M635,980.6h0M638.7,968.6h0M638,971.9h0M638,974.5h0M638.3,979.1h0M640.4,944.2h0M639.9,946.7h0M639.6,954.6h0M640.2,957.1h0M640.6,962.6h0M639.7,965.6h0M639.7,1012.3h0M641.8,920.8h0M641.3,925.6h0M642.2,930.5h0M642.1,935.4h0M643.8,913.3h0M645.1,868.9h0M645.3,877.1h0M645.5,880.2h0M645.3,885.1h0M645.8,888.6h0M645.7,892.7h0M645.3,896.4h0M645.1,905.2h0M645.3,907.8h0M646.5,865.5h0M646.5,868.6h0M646.9,872.1h0M646.9,875.4h0M646.5,878.3h0M646.6,886.3h0M647.2,889.7h0M647.4,894.2h0M646.4,898h0M647.2,902.3h0M646.8,907.2h0M647.4,911.5h0M647.1,914.9h0M646.6,919.4h0M646.6,923h0M646.6,925.7h0M646.9,929.6h0M647.3,941.7h0M646.5,946.6h0M647.3,950.7h0M646.8,954.9h0M647.2,1015.9h0M649.1,1017h0M650.5,937.8h0M650.5,941.9h0M650.1,945.4h0M650.3,949.2h0M650.2,953.3h0M652.2,942.8h0M651.5,946.7h0M652.4,950.3h0M653.4,1015.1h0M655,955h0M655.6,958h0M657.6,1014.3h0M659.2,948.6h0M658.6,952.7h0M659,956h0M658.5,959.6h0M660.6,946.8h0M660.4,1014h0M662.3,917h0M661.6,921.7h0M662,925h0M662.4,929.3h0M662.2,938h0M661.9,941.2h0M662.8,943.9h0M664.4,891.5h0M663.4,894.1h0M664,897.1h0M664.5,900.7h0M664.3,905.2h0M664.1,910.1h0M664.4,915.1h0M663.8,919.6h0M663.7,922.9h0M664.2,925.7h0M663.4,1011.8h0M665.5,929.4h0M665.1,935.7h0M666.7,1011.6h0M668.8,909.2h0M668.9,912.8h0M669,916h0M668.6,919.9h0M669,926.7h0M669.3,929.4h0M668.8,933.1h0M669,935.7h0M668.6,940.4h0M668.6,944.6h0M670.6,952.1h0M670.7,955.5h0M671.2,959.1h0M671,966.9h0M670.8,971.9h0M670.6,974.9h0M672.4,979.9h0M674.2,982.2h0M674.4,986.5h0M673.6,1014.5h0M675.5,1016.8h0M677.4,979.4h0M677.7,983.7h0M677.9,987.9h0M677.5,1018.5h0M679.4,967.9h0M679.2,972.9h0M678.8,975.4h0M679.7,1019.8h0M678.7,1015.3h0M681,957.5h0M681,961.9h0M682.6,954.1h0M682.3,956.8h0M682.8,961.5h0M683,1011.3h0M684.8,1007.9h0M685.7,942.7h0M686.3,946.2h0M686.6,955.9h0M686,960.2h0M688.2,920.9h0M688.3,924.4h0M687.5,928.6h0M688.2,936.2h0M689.8,923.3h0M689.4,927.4h0M689.1,1008.9h0M690.7,1011.3h0M692.2,920.2h0M692.4,925h0M692.3,1013.2h0M694,912h0M694.3,916.6h0M695.7,903.8h0M695.8,1016.1h0M696.4,1011.5h0M697.8,913.6h0M698,916.6h0M698.2,926.7h0M697.4,929.2h0M698,932.2h0M698.1,936h0M697.6,939.7h0M699.9,1015.9h0M701.1,936.9h0M700.9,941.4h0M701.9,1019.8h0M702.5,940.5h0M703.3,944.1h0M704.7,1016.1h0M706.6,944.5h0M705.8,948.7h0M706.4,952.2h0M706.4,955.1h0M706.1,959.2h0M708,964.2h0M707.8,1015.6h0M711.4,917.3h0M711.5,921.6h0M711.8,925.1h0M710.9,929.7h0M711.8,934.4h0M712,938h0M711.6,942.8h0M711.4,945.8h0M711,951.5h0M711.2,958.4h0M712.1,1018.7h0M712.9,879.2h0M712.6,882.8h0M713.1,889.8h0M712.9,896.9h0M712.9,901.7h0M713.1,906.4h0M712.6,910h0M713.4,914h0M713.4,917.9h0M712.8,924.3h0M713.8,928.1h0M713.6,1019.8h0M715.3,931h0M714.4,935.8h0M714.6,939.4h0M714.5,942.2h0M714.7,948.8h0M714.5,956h0M714.9,959.7h0M714.3,963.7h0M715.2,966.7h0M715.1,969.4h0M714.6,972.7h0M716.6,981.6h0M716.9,985.4h0M717.1,989h0M716.6,991.8h0M716,1001.3h0M716.6,1021.9h0M718.1,1005h0M718.3,1009.2h0M721.1,1017.4h0M725,1020.5h0M839.2,1019.7h0M840.9,1019h0M853.1,961.5h0M852.1,964.1h0M852.8,968.6h0M852.9,973h0M852.9,977.7h0M852.5,981.1h0M852.9,988h0M852.1,1021.9h0M852.1,1017.7h0M852.8,1013.2h0M852.2,1006h0M852.2,1001.9h0M852.5,999.2h0M852.9,996.4h0M852.9,993.9h0M854.5,906.5h0M854.2,910.1h0M854.9,913h0M854.5,917h0M854,920.1h0M854.7,922.7h0M854.2,930.1h0M854.6,938.9h0M854.2,942.2h0M854.1,945.3h0M854.3,948.5h0M853.7,952.1h0M854.4,1021.3h0M855.6,918h0M856.6,1017.7h0M855.9,1014.4h0M857.6,920h0M857.5,923.2h0M858,926.3h0M857.5,929.7h0M858.3,1010.4h0M857.7,1007.6h0M857.1,1003.1h0M859.6,935.2h0M860.6,999.3h0M862.4,929.2h0M862.8,932.4h0M864.9,924.2h0M864.9,927.7h0M864.5,935.9h0M864.5,939h0M866.7,1001.4h0M867.4,940.5h0M868.1,1013.9h0M867.8,1009.4h0M868,1006.7h0M868.2,1004.1h0M869.8,920.1h0M870,925h0M869.8,928.7h0M870,933.6h0M869.5,936.6h0M869.6,940.9h0M869.8,943.7h0M871.1,1014h0M872.8,943.5h0M873.1,955.7h0M875.2,1011.7h0M876.5,935.9h0M876.8,939.2h0M876.5,942.9h0M876.4,946.7h0M876,950.2h0M876.6,955h0M876,1015.9h0M878.3,899.4h0M877.8,904h0M877.7,906.7h0M877.9,911.3h0M878.6,914.8h0M877.9,918.1h0M878.6,922.1h0M877.9,924.7h0M878.3,931.8h0M878.2,1016.6h0M880.1,886h0M880.1,895.7h0M880.2,898.8h0M879.9,903.1h0M880,907.8h0M879.8,911.2h0M879.7,914.9h0M880.3,919.6h0M879.9,923.9h0M880.3,927.6h0M880.4,930.5h0M879.6,935.2h0M879.7,938.3h0M881.7,943.4h0M882,947.6h0M881.3,1018.4h0M882.9,952.1h0M883.4,959.2h0M882.9,963.2h0M883,966.3h0M888.4,1016.3h0M889.4,971.4h0M889.8,975.6h0M889.4,979.6h0M889.8,982.6h0M892.3,1018.4h0M893.1,975.1h0M893.6,977.7h0M892.9,982.6h0M895.6,1013.6h0M896.4,963.3h0M896.4,968.2h0M896.4,972.3h0M897.1,977.2h0M897.1,979.8h0M896.5,1010.8h0M898.9,1009.1h0M900.5,964.1h0M899.7,968.6h0M901.5,945.3h0M901.7,948.9h0M902,951.4h0M901.7,954.6h0M902.2,959.3h0M902.2,962.4h0M903.5,921.5h0M903.5,926.2h0M903.9,930.4h0M903.9,934.1h0M903.7,938.1h0M903.6,942.5h0M903.4,1005.4h0M904.8,928.2h0M905.3,935.8h0M905.5,939.5h0M905.7,942.8h0M906.8,947.3h0M906.9,951.4h0M906.8,954.9h0M906.6,959h0M906.6,1005.6h0M910.5,961.9h0M910,965.9h0M909.9,1008.1h0M911.7,968.7h0M915.7,947.5h0M916,950.7h0M915.1,954.6h0M914.9,958.6h0M915,1010.1h0M917,1014.3h0M920.1,922.9h0M921.1,929.9h0M921.1,934.4h0M920.2,938.8h0M920.1,951.2h0M920.4,1012.8h0M924.5,951h0M924.3,1011.2h0M925.7,951.8h0M925.8,956h0M925.3,958.8h0M925.3,961.8h0M926.2,965.8h0M927,1011.2h0M929.6,956.7h0M929,960.1h0M928.9,964h0M929.1,968.1h0M929.1,1015.4h0M930.4,958.9h0M930.4,963.1h0M930.8,966.4h0M931.2,1019.8h0M932.8,1015.1h0M934.6,965.3h0M934.1,970.2h0M936.2,1013.5h0M937.5,971.2h0M938.7,960.2h0M939.6,963.7h0M939.9,968.5h0M939.8,1014.2h0M940.8,943.3h0M941.5,947h0M941.5,952.4h0M940.6,955h0M943.2,949.3h0M943,953.5h0M942.2,957.8h0M944.7,961h0M944.1,963.7h0M944.8,968.5h0M943.9,1019.2h0M946.7,1017.7h0M948.3,965.2h0M949,1018.5h0M951.7,959.2h0M951.4,967.4h0M952.7,942h0M953,946.4h0M952.9,951.2h0M952.9,955.1h0M954.7,945.6h0M954.2,948.6h0M956.6,952.3h0M955.9,956.1h0M956,959.9h0M958.3,1017.2h0M960.1,958h0M963.3,946.1h0M963.5,950h0M963.4,953.3h0M963.5,956.5h0M963.2,960.3h0M963.6,964.6h0M962.8,968.6h0M964.3,972.2h0M968.7,976.1h0M968.6,980h0M968.1,984.5h0M967.8,1016.9h0M971.2,985.3h0M971.5,1016.3h0M973.3,971.7h0M973.4,976.6h0M973.5,1017h0M976.5,963.8h0M976.8,968.1h0M976.5,974.4h0M977,978.7h0M980.3,965.1h0M979.9,968.6h0M979.9,973.4h0M980.5,1016.7h0M981.5,954.8h0M982.4,959.1h0M982,961.8h0M983,951.5h0M983.6,955h0M983.4,959.7h0M984.7,964.2h0M985.7,966.8h0M984.9,1019.8h0M986.9,974.7h0M986.6,977.8h0M986.4,981.7h0M987,986.6h0M986.6,1019.5h0M989.7,979.5h0M990.8,1016.8h0M994.3,975.8h0M993.7,1018.7h0M994.9,969.9h0M997.3,958.4h0M997.2,962.9h0M996.5,1017.8h0M998.9,954.3h0M998.8,958.7h0M998.6,963.7h0M998.2,967.1h0M999,970.8h0M1002.7,968.7h0M1002.7,972.7h0M1003.4,965.5h0M1005.3,955.6h0M1005.3,958.8h0M1005.5,962.7h0M1006,965.8h0M1005.5,969.7h0M1005.8,973.2h0M1007.5,976.4h0M1007.4,984.3h0M1010.9,983.6h0M1014.3,980.3h0M1014.5,983.9h0M1014.6,1015.2h0M1017.2,983.1h0M1018.6,972.9h0M1019,976.4h0M1018.9,981.3h0M1019.6,1015.2h0M1021.2,936.5h0M1020.5,940.7h0M1021.1,943.9h0M1021,948h0M1020.7,958.4h0M1021.2,963.3h0M1021.1,966.6h0M1020.6,969.4h0M1022.7,971.6h0M1022.8,1014.2h0M1025.7,971.4h0M1025.5,1015.9h0M1027.4,968h0M1028.9,963.8h0M1029.6,968.3h0M1029,1015.7h0M1031.5,971.8h0M1030.9,1016.3h0M1034.4,969h0M1034,973.6h0M1034.6,1017h0M1037.8,954.3h0M1038.1,958h0M1037.5,961.3h0M1038,963.8h0M1038.1,967.1h0M1038.5,970.2h0M1037.5,977.6h0M1038,1015h0M1041,980.4h0M1040.9,1016.2h0M1045.1,981h0M1046.9,968.7h0M1046.6,971.3h0M1046.5,978.2h0M1047.8,947.4h0M1048.1,951.2h0M1047.7,957.4h0M1047.6,960.7h0M1048.6,965.1h0M1047.8,1018.4h0M1051.6,965.5h0M1053.7,971.8h0M1054.8,974.8h0M1054.3,977.3h0M1055.1,979.8h0M1055.5,1018.1h0M1058.9,976.1h0M1060.4,1017.7h0M1063.6,968.4h0M1063.6,973.2h0M1064.5,961.1h0M1064.7,965.5h0M1066.2,964.9h0M1070.8,960.3h0M1069.8,964.8h0M1070.3,1016.8h0M1071.5,958.4h0M1072.2,963.3h0M1071.6,966.1h0M1071.5,970.9h0M1072.3,973.9h0M1073.3,976h0M1074.1,1016.8h0M1075.7,979.9h0M1076.9,981.8h0M1077,985.1h0M1078.6,1018h0M1080.3,985.1h0M1080.5,988h0M1080.4,991.9h0M1082.2,1017.6h0M1084.4,993h0M1083.3,1018.5h0M1087.5,991.7h0M1087.4,994.5h0M1090.2,987h0M1094.1,990.6h0M1096.9,994.7h0M1101.2,995.8h0M1101.3,998.9h0M1102.3,1019.8h0M1103.6,989.7h0M1103.8,994.2h0M1104.6,997.7h0M1106.1,987.2h0M1105.3,1018h0M1109.6,980.9h0M1108.9,984.3h0M1108.9,1016.5h0M1111,970.5h0M1111.3,975h0M1110.8,978.4h0M1112.6,939.2h0M1113.1,948.2h0M1112.4,950.8h0M1113,954.7h0M1112.3,958.2h0M1113.1,961.6h0M1112.4,966.1h0M1114,966.7h0M1114.5,971.6h0M1114.6,978.2h0M1113.9,982.9h0M1114.4,1016.4h0M1116.2,986.6h0M1115.9,989.9h0M1115.6,992.9h0M1119.9,992.6h0M1119.2,1015h0M1121.4,993.2h0M1121.7,996.5h0M1120.8,1014.2h0M1124.7,993.8h0M1124.2,997.7h0M1124.5,1014.2h0M1126.1,987h0M1126.6,991h0M1128,982.6h0M1129.5,976.1h0M1129.9,982h0M1131.5,1017h0M1132.7,1017.5h0M1134.2,985.9h0M1136.5,984.2h0M1137.1,1017.7h0M1139.5,981.4h0M1139.9,983.9h0M1139.9,1018.5h0M1145.2,974.7h0M1145.5,978.9h0M1144.8,981.7h0M1148.9,983.9h0M1148.6,986.7h0M1147.9,1018.2h0M1152,989.6h0M1153.3,993.1h0M1153.4,1018.2h0M1156.8,993.2h0M1156.6,1019.8h0M1160,1019.5h0M1162.3,994.5h0M1163.3,993.6h0M1166.9,988.3h0M1167.7,992.5h0M1169.4,1018.4h0M1170.3,984.3h0M1170.7,990.8h0M1174.1,988.4h0M1174.4,990.9h0M1174,1018.9h0M1175,1017.5h0M1177.3,985.6h0M1181,978h0M1181,980.8h0M1180.2,985.5h0M1182.4,980.4h0M1183.7,986.2h0M1186.3,987.7h0M1185.2,1018.2h0M1189.2,990.1h0M1192.4,990.1h0M1192.3,1018.3h0M1193.9,984.9h0M1196.2,982.4h0M1196.3,985h0M1201.5,1018.2h0M1204.8,988.4h0M1207.8,991.5h0M1209.3,991.9h0M1210.2,1019.3h0M1213.6,989.6h0M1213,992.7h0M1216.6,986.9h0M1220.1,986.1h0M1219.8,989.3h0M1221.2,980.5h0M1223.1,978h0M1225,974.7h0M1226.5,977.3h0M1227.9,979.3h0M1232,978.3h0M1233.2,971.6h0M1233.1,976.1h0M1233,1019.7h0M1234.9,957h0M1235,959.7h0M1234.7,962.5h0M1237.2,971h0M1236.3,973.7h0M1236.8,976.3h0M1236.9,1019.3h0M1238.6,981h0M1238.3,985.8h0M1240.8,1019.7h0M1241.7,987.3h0M1244.8,985.3h0M1246.5,1018.7h0M1248.5,979.6h0M1248.7,982.2h0M1250.1,967.9h0M1250.8,972.9h0M1250,977h0M1251.9,977.7h0M1252.3,1018.7h0M1254,1020.3h0M1255.6,977.9h0M1255.9,1019.1h0M1258.7,967.9h0M1258.7,972.2h0M1258.6,1021.1h0M1260.3,977.5h0M1260.3,984.7h0M1262.8,986.7h0M1262.7,1019.7h0M1265.9,978.7h0M1265.3,982.9h0M1265.3,986.6h0M1265.7,1020.3h0M1267.9,974.9h0M1267.3,1018.7h0M1269.3,967.9h0M1269.5,970.7h0M1269.2,973.5h0M1271.1,1018.7h0M1274.1,970.9h0M1274.1,975.7h0M1273.7,1019.4h0M1276.3,962.5h0M1276.3,966.6h0M1278,966.6h0M1277.6,1018.4h0M1279.5,970.8h0M1281.2,975.6h0M1281.6,980.2h0M1281.5,982.8h0M1282.6,987h0M1283.9,988.6h0M1285.9,1018.4h0M1287.6,1018.6h0M1290.1,982.4h0M1289.6,987.4h0M1292.7,978.5h0M1293.4,982.2h0M1294.1,969.7h0M1295.2,973.3h0M1296.4,962.5h0M1295.9,967.1h0M1296.4,970.5h0M1298.5,975.1h0M1298.3,978.1h0M1299.6,1017.3h0M1301.8,982h0M1305,964.1h0M1304.8,967.2h0M1304.4,975.9h0M1304.7,979.2h0M1306.3,944h0M1307,953h0M1306,956.4h0M1306.9,959h0M1307,1014.3h0M1309.7,947h0M1310.3,950.4h0M1309.3,1014.1h0M1311.8,936.5h0M1311,940.6h0M1311.9,944.2h0M1311.8,948.5h0M1311.9,955.6h0M1312,958.2h0M1311.8,962.8h0M1311.7,969.6h0M1311.6,974.4h0M1315,973.3h0M1315.6,977.1h0M1317.3,979.8h0M1316.7,1014.6h0M1318.7,1014.8h0M1320,967.9h0M1320.1,970.6h0M1320.3,975.1h0M1320.3,979.9h0M1321.4,979.6h0M1325.4,977.1h0M1324.9,979.6h0M1325.6,983h0M1326.4,973.2h0M1328.3,1014.1h0M1329.8,963.8h0M1329.9,967.2h0M1330.8,972h0M1330.1,975.8h0M1330.6,1016.1h0M1331.7,979.5h0M1333.7,1015.4h0M1334.9,978.6h0M1335.7,1017h0M1337.6,975.7h0M1338.9,959.6h0M1339,963h0M1338.6,965.6h0M1339.3,968.9h0M1338.5,973.8h0M1342,947.4h0M1342.7,951.4h0M1341.6,955.5h0M1342.6,959h0M1343.7,952.1h0M1344.4,1015.2h0M1346.1,961.8h0M1345.7,964.8h0M1347,967.8h0M1348.9,970.4h0M1348.9,973.5h0M1352.3,969.5h0M1352.4,974.2h0M1352.1,1014.7h0M1355.8,960.1h0M1355.4,966.9h0M1355.9,1015h0M1357,948.8h0M1357.7,952.1h0M1358.9,957h0M1358.7,961.9h0M1359,965.6h0M1363,962.1h0M1362.3,966.2h0M1362.3,970.1h0M1362.4,974.8h0M1362.1,1017h0M1364.7,1014.3h0M1365.6,978.7h0M1366,981.5h0M1366,986.2h0M1367.3,1013.7h0M1369.7,980.2h0M1369.6,982.9h0M1370,986h0M1370.7,976.9h0M1371.4,981h0M1371.4,1014.3h0M1374.5,1012.9h0M1375.6,955.1h0M1376.2,959.5h0M1376.2,963.9h0M1376.4,967h0M1376.5,971.8h0M1375.8,979.4h0M1378.2,934.6h0M1378.4,943h0M1378.3,945.8h0M1377.6,948.7h0M1378.2,952.6h0M1378.2,1012.1h0M1377.9,1009.4h0M1379.7,853.3h0M1380.1,857.3h0M1379.2,862.3h0M1379.8,867.1h0M1380.1,878.3h0M1379.8,882h0M1379.1,888.9h0M1379.1,892h0M1379.7,896.2h0M1379.1,898.8h0M1379,902.5h0M1379.1,906.9h0M1379.6,909.6h0M1379.9,913h0M1380,916.8h0M1379.2,921.5h0M1379.9,924.3h0M1379.4,928.9h0M1379.2,931.8h0M1381.8,906.9h0M1381,915.2h0M1380.7,921.4h0M1381.7,1011.9h0M1380.8,1009.4h0M1383,924.8h0M1382.4,929.2h0M1383.1,931.9h0M1382.8,935.5h0M1383.2,939.9h0M1383,943h0M1383.4,946.1h0M1382.8,948.8h0M1382.8,951.7h0M1382.8,960.9h0M1382.5,964.6h0M1383,967.5h0M1382.6,1012.5h0M1384.3,969h0M1387,973h0M1386.3,976.1h0M1387.9,982.4h0M1388.3,985.8h0M1387.8,1013.8h0M1391.2,984.5h0M1391,1014.5h0M1394.4,983.2h0M1396.7,981.2h0M1396.1,1015.3h0M1398.4,958.4h0M1398.2,960.9h0M1398.7,963.9h0M1398.3,968.8h0M1398.3,971.9h0M1397.9,975h0M1398.3,978.7h0M1401.6,970.9h0M1403.1,1018.4h0M1403.7,1015.9h0M1404.9,933.8h0M1405,941.3h0M1404.9,945.5h0M1404.8,948.9h0M1404.6,953.6h0M1405.3,957.8h0M1404.7,962.1h0M1405.4,964.8h0M1404.9,967.6h0M1405.1,971.1h0M1406.9,949.2h0M1406.4,953.1h0M1409.1,956.6h0M1409.8,960h0M1411.4,1013.1h0M1413.1,957.4h0M1414,962.2h0M1415.7,954.2h0M1415.8,1011.9h0M1416.9,1010.1h0M1419.3,913.3h0M1418.4,918.1h0M1418.7,921h0M1418.2,923.8h0M1418.5,927.2h0M1418.9,929.8h0M1418.6,932.7h0M1418.4,937.5h0M1418.9,940.2h0M1418.6,943.3h0M1419.2,946.9h0M1418.2,950.3h0M1418.9,955.2h0M1419.3,959.5h0M1420,1010.7h0M1422.5,960.5h0M1423.8,1008.7h0M1425,945.7h0M1425.5,949.5h0M1425.3,954.5h0M1425,958.1h0M1425.6,961.6h0M1427.2,853.3h0M1427.7,860.4h0M1427.3,867.1h0M1427.5,870.4h0M1426.9,873.4h0M1426.7,876.2h0M1427.3,879h0M1427.3,881.9h0M1427.7,889.3h0M1427.2,893.6h0M1426.8,898.4h0M1427.7,901h0M1427.8,905.5h0M1426.8,909.1h0M1427,911.7h0M1427.1,915.4h0M1427,920.6h0M1426.8,924.3h0M1426.9,927.2h0M1427,931.9h0M1426.7,936.1h0M1427.7,939.3h0M1426.7,943.4h0M1427.4,1007.6h0M1428.7,894.6h0M1428.3,897.3h0M1430.4,1005.5h0M1432.5,890.4h0M1432.3,895h0M1433.9,860.1h0M1434.5,863.6h0M1433.8,867.1h0M1434,871.3h0M1434.4,876h0M1433.5,884.7h0M1433.7,887.5h0M1433.7,1007.2h0M1433.5,1004.4h0M1437.8,883.4h0M1437.9,887.4h0M1437.7,890.8h0M1437.9,894.7h0M1437.1,899.3h0M1437.5,903.5h0M1437.6,907.6h0M1437.9,911.1h0M1437.6,1005.7h0M1439.5,915h0M1439.4,922.1h0M1439.4,1007.6h0M1441.2,1009h0M1442.7,923.1h0M1442,925.7h0M1443,928.8h0M1442.6,931.8h0M1442.3,935h0M1442.9,939.9h0M1443.8,1014.3h0M1443.9,1011.6h0M1446,929.5h0M1445.3,934.2h0M1445.5,940.1h0M1445.4,1013.5h0M1447.3,922.9h0M1447.6,926.6h0M1448,933.4h0M1447.7,936.7h0M1447.8,941.1h0M1447.3,1010.5h0M1451.5,937.5h0M1450.6,941.8h0M1450.7,1006.4h0M1453.1,931.1h0M1452.1,934.4h0M1452.7,940.4h0M1452.1,944.1h0M1454.2,1007.4h0M1456.5,936.7h0M1456.7,941.1h0M1456,944.6h0M1456.6,1008.1h0M1458.1,929.5h0M1457.4,933.6h0M1460,924.2h0M1459.2,1008.8h0" fill="none" stroke="#1f77b4" stroke-width="5.4" stroke-linecap="round"/>
<path d="M116,1010.2 118.2,976.1 120.4,995.6 122,990.1 123.7,982.1 125.8,1000.9 128.6,1004.5 130.2,1007.7 131.8,1013.7 134.6,990.2 137.3,995.5 139.5,1007.7 142.2,977.9 144.1,979.4 146,963.7 148.8,979.4 150.9,998.9 153.7,979.2 155.3,965.8 156.9,946.4 158.6,972.5 160.8,933.4 162.4,952.7 164.6,983.8 166.8,990 168.7,972.3 170.1,1003.1 172.2,969.3 174.2,976.5 176.1,965 178.2,984 180.4,1009.3 183.2,1001.9 184.8,996.5 186.4,993.6 189.2,1003.6 191.9,997.3 194.6,1005.2 196.3,994 197.9,987.6 200.1,991.9 202.3,980 205,955.5 207.7,964.1 210.4,931 212.4,902.1 214.3,965.4 217,986.2 219.2,973.2 221.9,1008.7 224.7,986.1 227.4,974.4 229.6,986.7 231.5,953.4 232.8,920.6 235,878.3 236.1,875.9 237.8,930.8 239.7,980.2 241.6,967.3 243.8,958.4 246.5,990 248.1,995.8 249.8,996.4 252.5,966.6 254.7,974.1 257.4,996.4 259.6,960.8 262.3,968.6 264,969 265.6,974.9 268.3,979.4 270.5,969.8 272.4,985.9 274.3,1005.6 277.1,1014.2 278.8,1016 280.6,1016.8 282.7,1018.4 284.7,1019.6 287.4,1017.7 289.5,1019.2 291.5,1020.8 293.4,1020.7 295.3,1021.3 297.3,1020.6 299.2,1021.5 301.1,1021.1 303,1020.6 304.9,1020.9 306.8,1020.8 308.7,1019.5 310.6,1019.7 312.9,1020.4 315.2,1020.2 317.5,1020.5 319.6,1020.2 321.8,1020.4 324,1021.1 326.2,1021.5 328.4,1021.3 330.3,1021.2 332.3,1020.7 334.2,1021 336.2,1021.4 338.1,1021.5 340.1,1021.3 342,1021.1 344.1,1021 346.1,1020.9 348.2,1020.9 350.2,1020.4 352.3,1020.9 354.3,1020.5 356.4,1020.4 358.4,1021.1 360.6,1021.1 362.8,1020.1 365,1020.5 367.1,1019.5 369.6,1020.6 372.1,1021.2 374.2,1020.9 376.4,1021 378.6,1020.9 380.8,1021.3 383,1021.2 384.9,1020.8 386.9,1021.5 388.8,1021.1 390.8,1020.9 392.7,1021.1 394.7,1021.6 396.6,1021.2 398.3,1021.3 400,1021.3 402,1020.6 404.1,1019.1 406.1,1019.9 408.2,1021.2 410.1,1021.6 412,1021.5 413.9,1021.2 415.8,1021 417.7,1021 419.7,1021.4 421.6,1021.2 423.5,1020.7 425.4,1021.4 427.3,1021.3 429.2,1021.5 431.2,1021.5 433.2,1021.6 435.1,1021.2 437.1,1021.4 439,1021 441,1020.8 442.9,1021 444.9,1021 446.8,1021.6 448.8,1021.3 450.7,1021.2 452.7,1021.3 454.6,1021 456.5,1021.2 458.5,1021.4 460.4,1021.1 462.4,1020.9 464.3,1021.1 466.3,1021 468.2,1021.3 470.2,1020.8 472.1,1020.8 474.1,1021 476,1021.4 478,1021.4 479.9,1021.3 481.9,1021.3 483.8,1021 485.8,1020.7 487.7,1021.1 489.7,1021.1 491.6,1020.8 493.6,1021.3 495.5,1021 497.5,1020.9 499.4,1021 501.4,1021.6 503.3,1020.7 505.3,1021 507.2,1020.9 509.2,1021 511.4,1020.8 513.6,1020.3 515.7,1020.8 517.9,1020.1 520.1,1019.9 522.2,1019 524.2,1019.1 526.3,1019 528.3,1018.7 530.3,1019.3 532.4,1021.1 534.3,1032.9 535.7,897.8 537.9,974.1 539.8,903.9 542.5,858 544.7,903.5 547.4,964.3 549.6,942.4 551.8,844.9 553.4,944.9 555.6,986.1 558.3,952.6 561.1,980.8 563,1004.4 565.1,826 567.1,903.5 569.2,957.9 570.9,981.4 572.5,1008.2 575.2,807 577.4,930.5 580.2,913.6 582.2,938.4 584.3,957.9 586,922.1 587.8,880.8 590.5,971.8 592.2,968.8 593.8,962.1 596.5,971.6 598.7,957.5 601.5,998.3 603.1,991.1 604.7,980.5 606.4,956 608,928.1 610.7,1002.3 613.5,1016.5 615.6,966.3 618.4,1012.7 620,1011.1 621.7,1010 624.4,967.3 626.6,934.4 629.3,965.9 632,1000.1 633.7,1000.1 635.3,993.9 637.1,993.9 638.9,998.8 641.6,967.5 643.2,940.5 644.9,910.3 647,986.2 649.8,974.3 652.5,993 655.2,982.5 658,993.3 660.7,979.5 663.4,964.8 665.3,979.1 668.1,942.9 670.2,984.5 673,987.6 675.7,1004.1 678.4,997.1 681.2,994.7 683.9,986.3 686.6,974 689.4,947 690,978.4 692.2,943.6 694.1,976.5 696.8,932.9 699.5,1002.1 701.2,988.8 702.8,976.2 704.3,987.9 705.8,998.7 707.5,1001.4 709.1,1005.1 710.7,983.4 712.4,962.8 715.1,1012.7 717.3,1018.3 720,1018.4 721.9,1019.7 723.7,1019.9 725.5,1021.3 727.4,1021.2 729.3,1021.6 731.2,1021.5 733.1,1021.9 735,1021.6 737,1021.4 738.9,1021.4 740.8,1021.7 742.7,1021.9 744.6,1021.8 746.5,1021.3 748.5,1021.3 750.4,1021.3 752.4,1021.3 754.3,1021.3 756.3,1021.2 758.2,1021.5 760.2,1021.3 762.1,1021.9 764.1,1021.8 766,1022.2 768,1022.2 769.9,1022 771.9,1021.9 773.8,1021.2 775.8,1021.4 777.7,1022.1 779.7,1021.7 781.6,1021.4 783.6,1022 785.5,1021.6 787.5,1021.8 789.4,1021.5 791.4,1021.4 793.3,1021.3 795.3,1021.8 797.2,1022.2 799.2,1021.9 801.1,1022 803.1,1022.1 805,1021.6 807,1021.5 808.9,1022.1 810.9,1021.8 812.8,1021.9 814.8,1021.2 816.7,1021.4 818.7,1021.7 820.6,1021.9 822.6,1022 824.5,1022 826.5,1021.6 828.7,1021.6 830.9,1022.1 833,1022.2 835.2,1021.7 837.4,1021.6 840.1,1019.9 842.9,1021.7 844.9,1021.8 847,1021.8 849,1022.2 851.1,1022.6 853,1023 854.3,966.7 856.5,918.5 858.2,946.2 859.8,971.4 862.5,958.2 864.3,947.8 866.1,942.6 868.8,980.5 871.5,957.6 874.3,991.3 877,995.5 878.9,957.2 881.6,990.8 883.8,981.1 886.5,997.6 888.2,994.1 889.8,983.9 892,1006.2 894.7,992.4 897.5,998.5 900.2,975.9 901.8,975.7 903.5,978.4 906.2,963.5 908.9,986.7 910.7,989 912.5,985.2 915.2,989.4 917.1,984.7 919.9,956.8 922,987.1 924.8,983.3 926.4,987.9 928,998.4 930.8,1001.1 932.5,997.1 934.3,996 937,993.7 939.1,986.7 941.1,978.1 942.8,989.4 944.4,1000.2 946.2,1003.4 948,1001.4 950.7,997.2 952.6,986 955.3,1002.4 957.1,998.5 958.9,993.8 960.5,989.8 962.2,980.1 964.3,999 967.1,1004.5 969.1,1003.2 971.2,1001.8 973.2,1000.6 975.3,997.2 978,993.2 980,995.3 982.7,986.2 985.5,998 987.1,998.3 988.7,996.9 991.5,1005.3 993.2,995.7 995,987.9 997.7,988.6 1000.5,997.5 1003.2,990.5 1005.9,999.1 1007.7,1003.5 1009.5,1002.9 1011.1,1001.6 1012.8,1005.5 1014.8,998.2 1016.9,992.1 1018.6,989.7 1020.4,989.6 1022,993.9 1023.7,1002.4 1025.3,997.1 1027,994.8 1028.7,996.6 1030.5,1001.2 1033.2,994.6 1035,990.4 1036.8,988.4 1039.5,1005 1041.4,1005.8 1043.3,1001.2 1045.1,989.5 1046.9,981.1 1048.8,1004.4 1051,986.7 1052.6,996.1 1054.2,1005.8 1056,1000.2 1057.8,998.9 1059.8,1000.2 1061.9,999.5 1063.5,994.9 1065.2,986.5 1067.9,996.7 1070.6,993.5 1072.4,994.9 1074.2,1002.3 1076,1002.4 1077.7,1006.8 1079.4,1005.7 1081,1002.3 1083,1003.8 1085.1,1005.4 1087.1,1007.5 1089.2,1008.6 1091.2,1006.4 1093.3,1004.1 1095.3,1007.8 1097.4,1007.6 1099.4,1009.1 1101.5,1010.8 1103.5,1011.2 1105.6,1009 1107.2,1004.3 1108.8,1000 1110.9,995.8 1112.9,994.8 1115.7,1002.5 1117.7,1005.3 1119.8,1004.8 1121.5,1003.8 1123.3,1002.7 1125.4,1003.1 1127.4,1006 1129.5,1005.8 1131.5,1002.5 1133.5,1003.5 1135.6,1005.3 1137.6,1002.3 1139.7,998.7 1141.5,998.1 1143.2,996.3 1145.2,998.8 1147.1,1002.5 1148.8,1002.9 1150.6,1005.3 1152.7,1009.6 1154.7,1008.3 1156.5,1009.3 1158.3,1007.5 1160.2,1009.6 1162,1007.6 1163.8,1004.8 1165.6,1005.4 1167.7,1005.1 1169.7,1003 1171.8,1003.5 1173.8,1007.3 1175.9,1007.6 1177.9,1005.7 1180,1004.5 1182,1002.5 1184,1005.3 1186.1,1006.7 1188.1,1007.9 1190.2,1007.2 1191.8,1003.2 1193.5,996.5 1195.2,999.7 1197,1005.2 1199.1,1007.3 1201.1,1007.3 1203.2,1004.4 1205.2,1004.8 1207.2,1007.2 1209.3,1010 1211.3,1008.5 1213.4,1006.2 1215.4,1003.6 1217.5,1001.8 1219.9,1001 1222.4,996.1 1224,1005.7 1225.7,1009.8 1227.9,992.1 1230.6,1007.9 1232.2,1003 1233.9,1000.4 1235.9,1003 1238,1005.2 1239.7,999.9 1241.5,997.2 1243.4,1004.8 1245.3,1006.7 1247.8,1000.9 1250.2,997.8 1252.3,1004 1254.3,1006.5 1256.1,1010.5 1257.9,1009.6 1259.5,993.7 1261,1003.8 1262.5,1008.5 1264.6,1003 1266.6,1003.1 1268.7,1005 1270.7,1003.8 1273.5,997.9 1275.1,991.4 1276.7,987.7 1278.5,989.6 1280.3,993.5 1282.1,999.6 1283.9,1004.2 1286,1006.9 1288,1006.2 1290.1,1005.7 1292.1,1003.4 1293.7,999.6 1295.4,993 1298.1,1007.3 1299.9,1006.5 1301.7,1003.8 1303.3,1005.9 1304.9,1006.7 1307.7,977.4 1309.3,974.6 1311.8,993 1313.5,996.9 1315.3,1003.2 1317.4,999.6 1319.4,999.6 1321.5,1001.8 1323.5,1007.1 1325.1,1005.1 1326.8,1002.1 1329,991 1331.7,1003.2 1333.7,1001.2 1335.8,1003.1 1337.8,997 1339.9,987.4 1341.8,998.3 1344.5,980.7 1346.3,989.3 1348.1,995.8 1350.1,996.9 1352.2,999.5 1353.8,989.8 1355.4,983.7 1357.2,990.5 1359,993.8 1361,996.9 1363.1,994.4 1365.1,997.5 1367.2,1005.7 1369.2,1006 1371.3,1006.5 1373.3,1004.4 1375.4,1001.2 1378.1,973.2 1380.3,943.4 1382.7,975.7 1385.5,998.5 1387.2,1000.9 1389,1004.9 1391.1,1001 1393.1,1000 1395.8,1005.6 1397.5,994.1 1399.1,986.2 1400.9,992.5 1402.7,1001.8 1404.2,992 1405.7,979.3 1407.3,985.9 1408.9,992.8 1410.6,993.1 1412.2,987.5 1413.9,993.4 1415.5,1001.9 1417.7,985.2 1419.9,1001.3 1422.6,990.1 1425.3,988 1428,951.7 1430,986.2 1432.7,935.7 1434.1,923.8 1436.2,957.7 1438.2,947.3 1440.9,992.2 1443.6,978.3 1445.4,975 1447.2,971 1449.1,994.5 1451.8,985.2 1454,964.5 1455.6,975.9 1457.3,981.8 1460,971.6 1461.9,971.8" fill="none" stroke="#ff7f0e" stroke-width="2.5" stroke-linejoin="round"/>
</g>
<path d="M115.5,1054.4v4.9M284.5,1054.4v4.9M452.5,1054.4v4.9M620.5,1054.4v4.9M789.5,1054.4v4.9M957.5,1054.4v4.9M1125.5,1054.4v4.9M1294.5,1054.4v4.9M115.5,589.5h-4.9M115.5,676.5h-4.9M115.5,763.5h-4.9M115.5,850.5h-4.9M115.5,937.5h-4.9M115.5,1024.5h-4.9" stroke="#000" stroke-width="1.1" fill="none"/>
<rect x="1047.4" y="585.4" width="406.3" height="80.2" rx="4" fill="#fff" fill-opacity="0.8" stroke="#ccc" stroke-opacity="0.8" stroke-width="1.4"/>
<circle cx="1073.5" cy="600.4" r="2.9" fill="#1f77b4"/>
<path d="M1053.4,638.6H1091.9" stroke="#ff7f0e" stroke-width="2.4"/>
<text x="1106.2" y="606.2" font-size="19.6" text-anchor="start" textLength="99.4" lengthAdjust="spacingAndGlyphs">Raw Data</text>
<text x="1106.2" y="633" font-size="19.6" text-anchor="start" textLength="271.2" lengthAdjust="spacingAndGlyphs">Butterworth Filtered Data</text>
<text x="1106.2" y="653.9" font-size="19.6" text-anchor="start" textLength="339.2" lengthAdjust="spacingAndGlyphs">(N=6, Tc=3.3333 min, Type: low)</text>
<rect x="115.5" y="575.4" width="1347.0" height="479.0000000000001" fill="none" stroke="#000" stroke-width="1.1"/>
<text x="104.8" y="82.9" font-size="23.7" text-anchor="end" textLength="37.2" lengthAdjust="spacingAndGlyphs">1.5</text>
<text x="104.8" y="157.9" font-size="23.7" text-anchor="end" textLength="37.2" lengthAdjust="spacingAndGlyphs">1.0</text>
<text x="104.8" y="233.9" font-size="23.7" text-anchor="end" textLength="37.2" lengthAdjust="spacingAndGlyphs">0.5</text>
<text x="104.8" y="308.9" font-size="23.7" text-anchor="end" textLength="37.2" lengthAdjust="spacingAndGlyphs">0.0</text>
<text x="104.8" y="383.9" font-size="23.7" text-anchor="end" textLength="55.6" lengthAdjust="spacingAndGlyphs">−0.5</text>
<text x="104.8" y="458.9" font-size="23.7" text-anchor="end" textLength="55.6" lengthAdjust="spacingAndGlyphs">−1.0</text>
<text x="104.8" y="596.9" font-size="23.7" text-anchor="end" textLength="37.2" lengthAdjust="spacingAndGlyphs">0.5</text>
<text x="104.8" y="683.9" font-size="23.7" text-anchor="end" textLength="37.2" lengthAdjust="spacingAndGlyphs">0.4</text>
<text x="104.8" y="770.9" font-size="23.7" text-anchor="end" textLength="37.2" lengthAdjust="spacingAndGlyphs">0.3</text>
<text x="104.8" y="857.9" font-size="23.7" text-anchor="end" textLength="37.2" lengthAdjust="spacingAndGlyphs">0.2</text>
<text x="104.8" y="944.9" font-size="23.7" text-anchor="end" textLength="37.2" lengthAdjust="spacingAndGlyphs">0.1</text>
<text x="104.8" y="1031.9" font-size="23.7" text-anchor="end" textLength="37.2" lengthAdjust="spacingAndGlyphs">0.0</text>
<text transform="translate(112.9,1077.9) rotate(-30)" font-size="23.7" text-anchor="end" textLength="109.6" lengthAdjust="spacingAndGlyphs">01-25 00</text>
<text transform="translate(281.9,1077.9) rotate(-30)" font-size="23.7" text-anchor="end" textLength="109.6" lengthAdjust="spacingAndGlyphs">01-25 03</text>
<text transform="translate(449.9,1077.9) rotate(-30)" font-size="23.7" text-anchor="end" textLength="109.6" lengthAdjust="spacingAndGlyphs">01-25 06</text>
<text transform="translate(617.9,1077.9) rotate(-30)" font-size="23.7" text-anchor="end" textLength="109.6" lengthAdjust="spacingAndGlyphs">01-25 09</text>
<text transform="translate(786.9,1077.9) rotate(-30)" font-size="23.7" text-anchor="end" textLength="109.6" lengthAdjust="spacingAndGlyphs">01-25 12</text>
<text transform="translate(954.9,1077.9) rotate(-30)" font-size="23.7" text-anchor="end" textLength="109.6" lengthAdjust="spacingAndGlyphs">01-25 15</text>
<text transform="translate(1122.9,1077.9) rotate(-30)" font-size="23.7" text-anchor="end" textLength="109.6" lengthAdjust="spacingAndGlyphs">01-25 18</text>
<text transform="translate(1291.9,1077.9) rotate(-30)" font-size="23.7" text-anchor="end" textLength="109.6" lengthAdjust="spacingAndGlyphs">01-25 21</text>
<text x="785" y="30.3" font-size="28.3" text-anchor="middle" textLength="301" lengthAdjust="spacingAndGlyphs">10.0 MHz N0000030</text>
<text x="116.9" y="30.2" font-size="28.3" text-anchor="start" textLength="40.6" lengthAdjust="spacingAndGlyphs">(a)</text>
<text x="116.9" y="566.9" font-size="28.3" text-anchor="start" textLength="40.6" lengthAdjust="spacingAndGlyphs">(b)</text>
<text x="789" y="1157.3" font-size="23.5" text-anchor="middle" textLength="48.2" lengthAdjust="spacingAndGlyphs">UTC</text>
<text transform="translate(37,279) rotate(-90)" font-size="23.1" text-anchor="middle" textLength="224.8" lengthAdjust="spacingAndGlyphs">Doppler Shift [Hz]</text>
<text transform="translate(55.5,816) rotate(-90)" font-size="23.1" text-anchor="middle" textLength="207.6" lengthAdjust="spacingAndGlyphs">Peak Voltage [V]</text>
</g></svg>
</body></html>
